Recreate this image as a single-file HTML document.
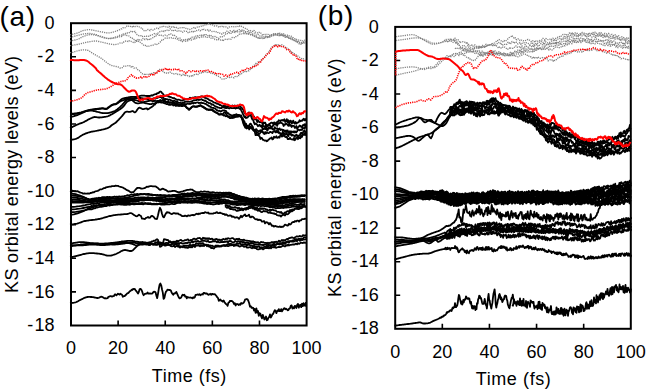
<!DOCTYPE html>
<html><head><meta charset="utf-8"><style>
html,body{margin:0;padding:0;background:#fff;width:646px;height:391px;overflow:hidden}
svg{display:block}
.g{stroke:#808080;stroke-width:1.3;stroke-dasharray:1.2 1.0}
.rd{stroke:#ff0000;stroke-width:1.6;stroke-dasharray:1.2 1.0}
.rs{stroke:#ff0000;stroke-width:2}
.k{stroke:#000;stroke-width:1.8}
text{font-family:"Liberation Sans",sans-serif;fill:#000}
</style></head><body>
<svg width="646" height="391" viewBox="0 0 646 391">
<path d="M71.00 56.79h5 M71.00 90.38h5 M71.00 123.97h5 M71.00 157.56h5 M71.00 191.14h5 M71.00 224.73h5 M71.00 258.32h5 M71.00 291.91h5 M118.12 325.50v-5 M165.24 325.50v-5 M212.36 325.50v-5 M259.48 325.50v-5" stroke="#000" stroke-width="1.6" fill="none"/>
<rect x="71.00" y="23.20" width="235.60" height="302.30" stroke="#000" stroke-width="2" fill="none"/>
<g font-size="18">
<text x="54.60" y="28.80" text-anchor="end">0</text>
<text x="54.60" y="62.39" text-anchor="end">-<tspan dx="1.3">2</tspan></text>
<text x="54.60" y="95.98" text-anchor="end">-<tspan dx="1.3">4</tspan></text>
<text x="54.60" y="129.57" text-anchor="end">-<tspan dx="1.3">6</tspan></text>
<text x="54.60" y="163.16" text-anchor="end">-<tspan dx="1.3">8</tspan></text>
<text x="54.60" y="196.74" text-anchor="end">-<tspan dx="1.3">10</tspan></text>
<text x="54.60" y="230.33" text-anchor="end">-<tspan dx="1.3">12</tspan></text>
<text x="54.60" y="263.92" text-anchor="end">-<tspan dx="1.3">14</tspan></text>
<text x="54.60" y="297.51" text-anchor="end">-<tspan dx="1.3">16</tspan></text>
<text x="54.60" y="331.10" text-anchor="end">-<tspan dx="1.3">18</tspan></text>
<text x="71.00" y="354.00" text-anchor="middle">0</text>
<text x="118.12" y="354.00" text-anchor="middle">20</text>
<text x="165.24" y="354.00" text-anchor="middle">40</text>
<text x="212.36" y="354.00" text-anchor="middle">60</text>
<text x="259.48" y="354.00" text-anchor="middle">80</text>
<text x="306.60" y="354.00" text-anchor="middle">100</text>
</g>
<text x="-0.40" y="26.30" font-size="28" textLength="35.6" lengthAdjust="spacing">(a)</text>
<text transform="translate(17.70 292.90) rotate(-90)" font-size="18" textLength="237.0" lengthAdjust="spacing">KS orbital energy levels (eV)</text>
<text x="151.80" y="381.80" font-size="18" textLength="74.5" lengthAdjust="spacing">Time (fs)</text>
<path d="M395.20 60.44h5 M395.20 93.99h5 M395.20 127.53h5 M395.20 161.08h5 M395.20 194.62h5 M395.20 228.17h5 M395.20 261.71h5 M395.20 295.26h5 M442.32 328.80v-5 M489.44 328.80v-5 M536.56 328.80v-5 M583.68 328.80v-5" stroke="#000" stroke-width="1.6" fill="none"/>
<rect x="395.20" y="26.90" width="235.60" height="301.90" stroke="#000" stroke-width="2" fill="none"/>
<g font-size="18">
<text x="378.80" y="32.50" text-anchor="end">0</text>
<text x="378.80" y="66.04" text-anchor="end">-<tspan dx="1.3">2</tspan></text>
<text x="378.80" y="99.59" text-anchor="end">-<tspan dx="1.3">4</tspan></text>
<text x="378.80" y="133.13" text-anchor="end">-<tspan dx="1.3">6</tspan></text>
<text x="378.80" y="166.68" text-anchor="end">-<tspan dx="1.3">8</tspan></text>
<text x="378.80" y="200.22" text-anchor="end">-<tspan dx="1.3">10</tspan></text>
<text x="378.80" y="233.77" text-anchor="end">-<tspan dx="1.3">12</tspan></text>
<text x="378.80" y="267.31" text-anchor="end">-<tspan dx="1.3">14</tspan></text>
<text x="378.80" y="300.86" text-anchor="end">-<tspan dx="1.3">16</tspan></text>
<text x="378.80" y="334.40" text-anchor="end">-<tspan dx="1.3">18</tspan></text>
<text x="395.20" y="357.70" text-anchor="middle">0</text>
<text x="442.32" y="357.70" text-anchor="middle">20</text>
<text x="489.44" y="357.70" text-anchor="middle">40</text>
<text x="536.56" y="357.70" text-anchor="middle">60</text>
<text x="583.68" y="357.70" text-anchor="middle">80</text>
<text x="630.80" y="357.70" text-anchor="middle">100</text>
</g>
<text x="317.80" y="25.20" font-size="28" textLength="35.6" lengthAdjust="spacing">(b)</text>
<text transform="translate(341.30 296.90) rotate(-90)" font-size="18" textLength="238.5" lengthAdjust="spacing">KS orbital energy levels (eV)</text>
<text x="475.80" y="384.80" font-size="18" textLength="75.0" lengthAdjust="spacing">Time (fs)</text>
<g fill="none" stroke-linejoin="round">
<path class="g" d="M70.0 35.0L71.0 34.7L72.0 34.5L73.0 34.2L74.0 34.0L75.0 33.7L76.0 33.4L77.0 33.1L78.0 32.8L79.0 32.4L80.0 31.9L81.0 31.4L82.0 31.0L83.0 30.6L84.0 30.4L85.0 30.2L86.0 30.0L87.0 29.8L88.0 29.7L89.0 29.7L90.0 29.7L91.0 29.8L92.0 30.0L93.0 30.2L94.0 30.4L95.0 30.6L96.0 30.8L97.0 31.0L98.0 31.2L99.0 31.4L100.0 31.6L101.0 31.8L102.0 32.0L103.0 32.2L104.0 32.4L105.0 32.6L106.0 32.7L107.0 32.9L108.0 32.9L109.0 32.9L110.0 32.7L111.0 32.6L112.0 32.3L113.0 32.1L114.0 31.8L115.0 31.5L116.0 31.2L117.0 30.8L118.0 30.3L119.0 29.9L120.0 29.6L121.0 28.9L122.0 28.8L123.0 27.7L124.0 28.3L125.0 27.8L126.0 27.2L127.0 26.0L128.0 26.5L129.0 26.0L130.0 25.9L131.0 27.1L132.0 27.2L133.0 25.7L134.0 27.1L135.0 26.7L136.0 26.3L137.0 26.2L138.0 26.9L139.0 26.8L140.0 27.5L141.0 28.0L142.0 27.9L143.0 29.7L144.0 30.7L145.0 31.1L146.0 30.6L147.0 29.6L148.0 29.5L149.0 29.5L150.0 30.7L151.0 29.4L152.0 29.4L153.0 30.1L154.0 28.9L155.0 29.1L156.0 28.7L157.0 27.9L158.0 28.5L159.0 28.6L160.0 27.1L161.0 26.9L162.0 26.8L163.0 25.9L164.0 26.5L165.0 27.0L166.0 26.8L167.0 26.6L168.0 27.3L169.0 26.3L170.0 27.1L171.0 26.9L172.0 27.4L173.0 26.7L174.0 28.0L175.0 26.9L176.0 27.1L177.0 28.3L178.0 28.6L179.0 27.8L180.0 27.8L181.0 27.5L182.0 27.6L183.0 28.3L184.0 27.6L185.0 27.7L186.0 28.5L187.0 28.2L188.0 29.1L189.0 29.5L190.0 29.5L191.0 28.9L192.0 28.5L193.0 28.4L194.0 27.5L195.0 28.4L196.0 27.5L197.0 27.2L198.0 26.5L199.0 26.8L200.0 26.7L201.0 26.1L202.0 26.6L203.0 25.9L204.0 24.9L205.0 25.0L206.0 25.4L207.0 24.5L208.0 24.4L209.0 23.5L210.0 24.3L211.0 24.5L212.0 24.7L213.0 25.1L214.0 25.8L215.0 26.0L216.0 26.1L217.0 25.8L218.0 26.4L219.0 27.5L220.0 26.7L221.0 26.2L222.0 26.3L223.0 27.4L224.0 26.7L225.0 26.9L226.0 26.9L227.0 27.4L228.0 28.1L229.0 27.1L230.0 26.8L231.0 26.6L232.0 26.6L233.0 26.4L234.0 26.8L235.0 27.0L236.0 26.6L237.0 26.1L238.0 26.5L239.0 26.9L240.0 25.7L241.0 26.0L242.0 26.8L243.0 27.2L244.0 27.6L245.0 28.1L246.0 29.1L247.0 29.1L248.0 30.2L249.0 30.8L250.0 30.2L251.0 31.1L252.0 31.1L253.0 31.6L254.0 30.4L255.0 32.1L256.0 32.1L257.0 32.6L258.0 33.0L259.0 32.2L260.0 33.4L261.0 33.1L262.0 34.4L263.0 35.4L264.0 34.4L265.0 34.7L266.0 34.3L267.0 34.5L268.0 34.5L269.0 34.2L270.0 35.6L271.0 35.3L272.0 34.4L273.0 34.7L274.0 34.3L275.0 33.8L276.0 33.5L277.0 33.8L278.0 33.6L279.0 33.1L280.0 33.3L281.0 33.8L282.0 33.9L283.0 33.4L284.0 34.3L285.0 35.1L286.0 35.4L287.0 35.5L288.0 34.9L289.0 35.9L290.0 35.7L291.0 36.1L292.0 36.8L293.0 37.5L294.0 38.5L295.0 38.6L296.0 38.5L297.0 39.6L298.0 39.7L299.0 40.1L300.0 40.0L301.0 40.5L302.0 40.3L303.0 40.9L304.0 40.3L305.0 40.1L306.0 40.0"/>
<path class="g" d="M70.0 37.3L71.0 37.1L72.0 36.8L73.0 36.6L74.0 36.3L75.0 36.1L76.0 35.8L77.0 35.6L78.0 35.3L79.0 35.1L80.0 34.8L81.0 34.5L82.0 34.3L83.0 34.1L84.0 33.9L85.0 33.8L86.0 33.6L87.0 33.6L88.0 33.5L89.0 33.5L90.0 33.5L91.0 33.6L92.0 33.8L93.0 33.9L94.0 34.1L95.0 34.4L96.0 34.6L97.0 34.9L98.0 35.3L99.0 35.6L100.0 36.0L101.0 36.4L102.0 36.7L103.0 37.0L104.0 37.4L105.0 37.7L106.0 38.0L107.0 38.2L108.0 38.4L109.0 38.4L110.0 38.3L111.0 38.2L112.0 38.0L113.0 37.8L114.0 37.5L115.0 37.2L116.0 36.9L117.0 36.5L118.0 36.1L119.0 35.6L120.0 35.1L121.0 34.9L122.0 35.2L123.0 34.1L124.0 33.9L125.0 33.7L126.0 32.8L127.0 33.0L128.0 33.0L129.0 32.9L130.0 31.4L131.0 31.5L132.0 30.9L133.0 32.0L134.0 32.0L135.0 31.3L136.0 33.7L137.0 34.6L138.0 35.1L139.0 35.8L140.0 35.6L141.0 35.7L142.0 36.8L143.0 36.1L144.0 36.3L145.0 36.4L146.0 35.9L147.0 36.4L148.0 36.0L149.0 36.4L150.0 35.5L151.0 35.4L152.0 34.8L153.0 34.7L154.0 33.9L155.0 33.2L156.0 34.0L157.0 33.6L158.0 33.0L159.0 32.5L160.0 31.6L161.0 31.2L162.0 31.1L163.0 30.5L164.0 31.5L165.0 30.6L166.0 31.1L167.0 30.1L168.0 30.8L169.0 30.4L170.0 28.9L171.0 29.2L172.0 30.5L173.0 29.9L174.0 31.0L175.0 30.3L176.0 30.0L177.0 31.1L178.0 31.5L179.0 30.8L180.0 30.6L181.0 31.1L182.0 32.3L183.0 32.0L184.0 31.0L185.0 31.4L186.0 31.3L187.0 31.3L188.0 32.7L189.0 31.7L190.0 32.3L191.0 32.0L192.0 31.3L193.0 32.0L194.0 30.8L195.0 31.4L196.0 30.3L197.0 30.6L198.0 30.0L199.0 29.9L200.0 30.8L201.0 30.4L202.0 29.4L203.0 30.3L204.0 29.2L205.0 29.6L206.0 30.4L207.0 30.2L208.0 29.5L209.0 31.2L210.0 30.1L211.0 30.4L212.0 31.6L213.0 31.2L214.0 31.5L215.0 31.4L216.0 31.7L217.0 32.8L218.0 32.5L219.0 33.3L220.0 33.1L221.0 33.4L222.0 34.2L223.0 33.2L224.0 32.9L225.0 33.0L226.0 31.5L227.0 31.2L228.0 32.3L229.0 32.0L230.0 30.9L231.0 30.7L232.0 31.5L233.0 31.7L234.0 30.3L235.0 31.5L236.0 31.3L237.0 30.7L238.0 30.3L239.0 29.7L240.0 29.6L241.0 31.2L242.0 30.0L243.0 30.9L244.0 30.4L245.0 31.7L246.0 31.7L247.0 31.6L248.0 31.7L249.0 32.9L250.0 32.0L251.0 32.5L252.0 33.3L253.0 34.1L254.0 34.0L255.0 33.8L256.0 35.3L257.0 34.5L258.0 34.5L259.0 35.3L260.0 36.0L261.0 35.6L262.0 36.1L263.0 36.5L264.0 36.9L265.0 36.0L266.0 36.2L267.0 36.9L268.0 36.8L269.0 36.0L270.0 35.8L271.0 35.4L272.0 34.4L273.0 34.0L274.0 33.7L275.0 35.1L276.0 34.6L277.0 35.0L278.0 33.4L279.0 34.4L280.0 34.3L281.0 34.8L282.0 34.3L283.0 35.7L284.0 34.4L285.0 35.6L286.0 36.4L287.0 37.1L288.0 37.3L289.0 37.7L290.0 38.2L291.0 38.8L292.0 38.2L293.0 39.2L294.0 40.0L295.0 40.3L296.0 40.0L297.0 41.2L298.0 41.9L299.0 42.1L300.0 42.6L301.0 42.4L302.0 42.7L303.0 42.5L304.0 41.3L305.0 41.9L306.0 41.3"/>
<path class="g" d="M70.0 41.0L71.0 40.8L72.0 40.6L73.0 40.4L74.0 40.2L75.0 40.0L76.0 39.8L77.0 39.5L78.0 39.2L79.0 38.8L80.0 38.2L81.0 37.6L82.0 37.1L83.0 36.6L84.0 36.2L85.0 35.9L86.0 35.5L87.0 35.2L88.0 35.0L89.0 34.8L90.0 34.7L91.0 34.7L92.0 34.7L93.0 34.8L94.0 34.9L95.0 35.1L96.0 35.3L97.0 35.6L98.0 35.9L99.0 36.3L100.0 36.6L101.0 37.0L102.0 37.3L103.0 37.6L104.0 37.8L105.0 38.1L106.0 38.3L107.0 38.5L108.0 38.6L109.0 38.6L110.0 38.6L111.0 38.5L112.0 38.4L113.0 38.3L114.0 38.1L115.0 37.9L116.0 37.7L117.0 37.5L118.0 37.2L119.0 36.9L120.0 36.5L121.0 36.6L122.0 36.3L123.0 35.1L124.0 34.5L125.0 34.8L126.0 34.5L127.0 35.5L128.0 35.6L129.0 36.0L130.0 36.8L131.0 37.9L132.0 37.9L133.0 39.3L134.0 39.4L135.0 40.9L136.0 39.6L137.0 40.8L138.0 39.5L139.0 40.4L140.0 39.7L141.0 39.6L142.0 40.2L143.0 38.5L144.0 38.4L145.0 39.7L146.0 39.0L147.0 38.3L148.0 39.9L149.0 39.9L150.0 38.4L151.0 38.8L152.0 37.9L153.0 37.6L154.0 37.4L155.0 35.8L156.0 36.0L157.0 34.3L158.0 34.2L159.0 35.3L160.0 34.8L161.0 35.1L162.0 35.8L163.0 35.8L164.0 35.8L165.0 35.1L166.0 35.9L167.0 35.9L168.0 35.5L169.0 34.6L170.0 33.9L171.0 34.0L172.0 34.8L173.0 35.3L174.0 34.9L175.0 35.7L176.0 36.5L177.0 37.3L178.0 38.3L179.0 38.3L180.0 38.0L181.0 39.8L182.0 39.5L183.0 39.9L184.0 39.4L185.0 39.7L186.0 39.5L187.0 39.8L188.0 38.4L189.0 38.9L190.0 38.0L191.0 38.6L192.0 37.2L193.0 37.3L194.0 37.1L195.0 37.3L196.0 36.0L197.0 36.3L198.0 35.6L199.0 35.3L200.0 35.3L201.0 35.9L202.0 34.8L203.0 35.5L204.0 34.2L205.0 35.5L206.0 34.7L207.0 34.5L208.0 35.7L209.0 36.1L210.0 34.8L211.0 35.6L212.0 36.8L213.0 36.5L214.0 36.6L215.0 36.4L216.0 36.6L217.0 37.6L218.0 38.3L219.0 38.3L220.0 37.3L221.0 36.4L222.0 36.6L223.0 36.8L224.0 36.0L225.0 34.8L226.0 33.5L227.0 33.7L228.0 33.3L229.0 33.2L230.0 32.4L231.0 33.4L232.0 33.1L233.0 31.7L234.0 31.8L235.0 32.6L236.0 31.5L237.0 32.5L238.0 31.7L239.0 31.9L240.0 31.9L241.0 31.1L242.0 31.3L243.0 31.4L244.0 32.4L245.0 32.8L246.0 32.2L247.0 33.9L248.0 33.4L249.0 33.4L250.0 33.9L251.0 35.0L252.0 34.5L253.0 34.9L254.0 35.8L255.0 36.4L256.0 36.7L257.0 36.6L258.0 37.4L259.0 38.3L260.0 38.4L261.0 38.2L262.0 37.9L263.0 37.9L264.0 38.4L265.0 37.9L266.0 36.6L267.0 37.5L268.0 37.4L269.0 36.9L270.0 36.8L271.0 36.5L272.0 35.6L273.0 35.8L274.0 34.9L275.0 34.3L276.0 34.6L277.0 34.5L278.0 35.5L279.0 35.2L280.0 35.0L281.0 35.3L282.0 34.7L283.0 35.6L284.0 36.2L285.0 36.1L286.0 36.3L287.0 37.0L288.0 37.3L289.0 38.3L290.0 37.8L291.0 38.1L292.0 38.8L293.0 39.9L294.0 40.3L295.0 40.6L296.0 41.5L297.0 41.1L298.0 41.1L299.0 42.5L300.0 42.9L301.0 42.7L302.0 43.4L303.0 42.7L304.0 42.2L305.0 42.0L306.0 41.9"/>
<path class="g" d="M70.0 45.6L71.0 45.5L72.0 45.3L73.0 45.2L74.0 45.0L75.0 44.9L76.0 44.7L77.0 44.5L78.0 44.3L79.0 44.1L80.0 43.8L81.0 43.6L82.0 43.3L83.0 43.1L84.0 42.8L85.0 42.6L86.0 42.4L87.0 42.2L88.0 42.0L89.0 41.8L90.0 41.7L91.0 41.5L92.0 41.3L93.0 41.2L94.0 41.1L95.0 41.0L96.0 41.0L97.0 41.1L98.0 41.3L99.0 41.5L100.0 41.7L101.0 42.0L102.0 42.2L103.0 42.4L104.0 42.7L105.0 42.9L106.0 43.2L107.0 43.4L108.0 43.6L109.0 43.8L110.0 44.0L111.0 44.2L112.0 44.4L113.0 44.5L114.0 44.6L115.0 44.6L116.0 44.4L117.0 44.3L118.0 44.0L119.0 43.7L120.0 43.0L121.0 43.4L122.0 43.1L123.0 43.1L124.0 41.6L125.0 41.3L126.0 40.9L127.0 40.8L128.0 41.6L129.0 40.7L130.0 41.6L131.0 41.3L132.0 41.7L133.0 42.2L134.0 43.0L135.0 42.5L136.0 41.2L137.0 41.4L138.0 40.9L139.0 42.1L140.0 42.2L141.0 42.8L142.0 43.6L143.0 44.3L144.0 45.5L145.0 45.7L146.0 45.1L147.0 46.3L148.0 45.7L149.0 46.2L150.0 45.8L151.0 45.5L152.0 45.3L153.0 45.2L154.0 44.7L155.0 44.1L156.0 44.9L157.0 44.4L158.0 44.2L159.0 43.1L160.0 42.1L161.0 41.6L162.0 39.8L163.0 40.0L164.0 39.0L165.0 38.2L166.0 37.9L167.0 38.2L168.0 37.7L169.0 37.9L170.0 38.2L171.0 37.9L172.0 37.5L173.0 38.3L174.0 38.1L175.0 38.3L176.0 38.5L177.0 39.1L178.0 38.9L179.0 40.2L180.0 41.1L181.0 40.5L182.0 41.4L183.0 41.9L184.0 40.4L185.0 40.5L186.0 41.4L187.0 41.2L188.0 40.6L189.0 39.5L190.0 39.7L191.0 40.2L192.0 39.9L193.0 39.4L194.0 38.1L195.0 38.9L196.0 37.8L197.0 38.1L198.0 36.9L199.0 38.1L200.0 37.2L201.0 37.2L202.0 36.3L203.0 36.9L204.0 36.8L205.0 36.9L206.0 36.6L207.0 37.4L208.0 36.9L209.0 37.0L210.0 37.0L211.0 38.2L212.0 37.6L213.0 38.1L214.0 38.2L215.0 39.5L216.0 39.6L217.0 39.8L218.0 39.2L219.0 40.1L220.0 40.1L221.0 39.8L222.0 39.6L223.0 41.2L224.0 39.5L225.0 39.4L226.0 39.1L227.0 39.5L228.0 38.5L229.0 39.0L230.0 38.6L231.0 39.2L232.0 37.5L233.0 37.7L234.0 37.5L235.0 37.8L236.0 36.5L237.0 35.8L238.0 35.6L239.0 34.4L240.0 33.5L241.0 33.9L242.0 34.2L243.0 33.8L244.0 33.0L245.0 33.8L246.0 34.3L247.0 33.5L248.0 34.3L249.0 34.2L250.0 34.3L251.0 34.8L252.0 35.1L253.0 35.7L254.0 35.6L255.0 36.6L256.0 36.6L257.0 38.1L258.0 38.2L259.0 37.4L260.0 38.9L261.0 38.0L262.0 38.5L263.0 38.5L264.0 38.0L265.0 37.7L266.0 37.6L267.0 36.8L268.0 37.7L269.0 36.0L270.0 36.9L271.0 35.6L272.0 35.4L273.0 35.3L274.0 34.4L275.0 34.3L276.0 34.6L277.0 34.7L278.0 35.5L279.0 35.8L280.0 34.4L281.0 35.5L282.0 35.0L283.0 36.5L284.0 36.0L285.0 37.3L286.0 37.1L287.0 36.8L288.0 37.0L289.0 37.9L290.0 39.4L291.0 38.6L292.0 39.6L293.0 39.9L294.0 40.3L295.0 41.5L296.0 41.0L297.0 42.3L298.0 42.8L299.0 43.8L300.0 43.5L301.0 44.3L302.0 43.4L303.0 43.4L304.0 43.2L305.0 43.2L306.0 42.3"/>
<path class="g" d="M70.0 52.6L71.0 52.6L72.0 52.5L73.0 52.3L74.0 52.0L75.0 51.6L76.0 51.3L77.0 51.0L78.0 50.7L79.0 50.5L80.0 50.3L81.0 50.1L82.0 50.0L83.0 49.9L84.0 49.9L85.0 49.9L86.0 50.0L87.0 50.2L88.0 50.4L89.0 50.9L90.0 51.5L91.0 52.2L92.0 52.9L93.0 53.5L94.0 54.1L95.0 54.7L96.0 55.2L97.0 55.8L98.0 56.3L99.0 56.9L100.0 57.5L101.0 58.1L102.0 58.8L103.0 59.6L104.0 60.3L105.0 61.2L106.0 62.0L107.0 62.8L108.0 63.5L109.0 64.2L110.0 64.8L111.0 65.2L112.0 65.6L113.0 65.8L114.0 66.1L115.0 66.3L116.0 66.5L117.0 66.7L118.0 67.0L119.0 67.2L120.0 68.1L121.0 67.7L122.0 67.7L123.0 67.5L124.0 65.9L125.0 66.1L126.0 66.2L127.0 66.1L128.0 65.7L129.0 65.3L130.0 65.9L131.0 67.2L132.0 66.0L133.0 66.7L134.0 68.2L135.0 67.8L136.0 67.8L137.0 68.6L138.0 70.2L139.0 70.4L140.0 71.5L141.0 72.6L142.0 73.7L143.0 73.9L144.0 73.8L145.0 75.1L146.0 74.3L147.0 74.3L148.0 74.3L149.0 74.8L150.0 73.9L151.0 74.4L152.0 73.3L153.0 73.0L154.0 72.6L155.0 73.6L156.0 73.5L157.0 72.0L158.0 71.2L159.0 69.3L160.0 69.4L161.0 69.0L162.0 69.5L163.0 71.5L164.0 72.4L165.0 72.9L166.0 72.8L167.0 73.6L168.0 73.1L169.0 72.6L170.0 72.0L171.0 73.3L172.0 73.3L173.0 73.3L174.0 74.1L175.0 73.7L176.0 73.6L177.0 73.4L178.0 74.5L179.0 74.5L180.0 74.4L181.0 75.5L182.0 75.3L183.0 74.2L184.0 75.6L185.0 74.3L186.0 75.5L187.0 75.2L188.0 76.0L189.0 76.6L190.0 76.0L191.0 76.3L192.0 75.0L193.0 75.9L194.0 74.7L195.0 75.0L196.0 74.5L197.0 73.7L198.0 74.6L199.0 73.2L200.0 73.2L201.0 72.6L202.0 73.3L203.0 72.4L204.0 71.8L205.0 71.7L206.0 72.0L207.0 72.5L208.0 71.7L209.0 71.9L210.0 73.2L211.0 73.2L212.0 72.9L213.0 73.6L214.0 73.8L215.0 74.6L216.0 75.3L217.0 75.6L218.0 76.0L219.0 76.6L220.0 77.2L221.0 78.1L222.0 79.1L223.0 79.1L224.0 79.0L225.0 78.4L226.0 78.5L227.0 78.2L228.0 76.8L229.0 77.3L230.0 77.5L231.0 76.8L232.0 77.2L233.0 77.3L234.0 77.8L235.0 76.5L236.0 76.2L237.0 76.7L238.0 75.2L239.0 75.7L240.0 74.2L241.0 74.5L242.0 73.3L243.0 72.2L244.0 72.5L245.0 71.4L246.0 72.1L247.0 71.3L248.0 70.6L249.0 70.8L250.0 69.6L251.0 69.4L252.0 68.0L253.0 66.0L254.0 65.2L255.0 65.3L256.0 63.3L257.0 64.1L258.0 61.9L259.0 62.4L260.0 61.5L261.0 60.3L262.0 59.8L263.0 58.9L264.0 57.5L265.0 56.3L266.0 54.8L267.0 54.4L268.0 53.3L269.0 50.8L270.0 50.2L271.0 48.2L272.0 46.9L273.0 46.9L274.0 46.4L275.0 44.6L276.0 45.8L277.0 44.8L278.0 45.5L279.0 44.6L280.0 45.7L281.0 44.7L282.0 44.8L283.0 45.2L284.0 46.0L285.0 46.7L286.0 48.6L287.0 48.0L288.0 48.8L289.0 49.7L290.0 50.3L291.0 52.1L292.0 51.5L293.0 53.4L294.0 53.6L295.0 53.9L296.0 54.8L297.0 56.0L298.0 56.1L299.0 57.0L300.0 57.5L301.0 58.2L302.0 58.9L303.0 58.6L304.0 59.5L305.0 60.0L306.0 59.9"/>
<path class="g" d="M396.0 36.6L397.0 36.5L398.0 36.3L399.0 36.2L400.0 36.1L401.0 36.0L402.0 35.9L403.0 35.7L404.0 35.6L405.0 35.5L406.0 35.4L407.0 35.2L408.0 35.0L409.0 34.9L410.0 34.8L411.0 34.7L412.0 34.6L413.0 34.7L414.0 34.9L415.0 35.2L416.0 35.6L417.0 36.1L418.0 36.7L419.0 37.2L420.0 37.7L421.0 38.1L422.0 38.5L423.0 38.9L424.0 39.3L425.0 39.7L426.0 40.1L427.0 40.6L428.0 41.2L429.0 41.7L430.0 42.2L431.0 42.6L432.0 42.9L433.0 43.1L434.0 43.2L435.0 43.3L436.0 43.3L437.0 43.2L438.0 43.1L439.0 43.0L440.0 42.8L441.0 42.5L442.0 42.2L443.0 41.8L444.0 41.2L445.0 39.6L446.0 39.5L447.0 39.7L448.0 39.3L449.0 39.4L450.0 39.0L451.0 40.3L452.0 40.1L453.0 39.1L454.0 39.6L455.0 38.1L456.0 39.8L457.0 40.1L458.0 39.7L459.0 40.9L460.0 42.9L461.0 42.0L462.0 41.8L463.0 41.6L464.0 41.7L465.0 42.3L466.0 43.3L467.0 42.0L468.0 44.6L469.0 44.4L470.0 45.8L471.0 46.1L472.0 44.8L473.0 46.2L474.0 45.2L475.0 45.0L476.0 46.1L477.0 47.0L478.0 46.5L479.0 45.6L480.0 47.0L481.0 47.0L482.0 45.2L483.0 45.5L484.0 45.8L485.0 46.2L486.0 44.2L487.0 45.1L488.0 46.0L489.0 45.0L490.0 45.2L491.0 45.1L492.0 44.3L493.0 43.4L494.0 43.6L495.0 42.7L496.0 41.5L497.0 41.8L498.0 39.9L499.0 39.5L500.0 40.0L501.0 40.7L502.0 41.8L503.0 41.6L504.0 40.4L505.0 41.3L506.0 40.7L507.0 39.5L508.0 38.9L509.0 37.7L510.0 37.0L511.0 36.6L512.0 35.4L513.0 36.9L514.0 38.1L515.0 37.3L516.0 39.4L517.0 39.8L518.0 38.8L519.0 39.1L520.0 40.7L521.0 40.0L522.0 40.3L523.0 40.9L524.0 40.7L525.0 40.8L526.0 40.3L527.0 39.8L528.0 39.3L529.0 39.9L530.0 40.4L531.0 41.3L532.0 41.8L533.0 40.6L534.0 41.0L535.0 42.3L536.0 40.9L537.0 41.5L538.0 41.2L539.0 41.1L540.0 40.4L541.0 40.1L542.0 40.0L543.0 38.3L544.0 39.5L545.0 39.9L546.0 38.5L547.0 39.4L548.0 39.7L549.0 39.2L550.0 39.2L551.0 40.1L552.0 38.7L553.0 38.2L554.0 40.0L555.0 38.4L556.0 38.4L557.0 37.9L558.0 37.1L559.0 37.0L560.0 35.9L561.0 36.3L562.0 35.1L563.0 34.5L564.0 34.3L565.0 34.4L566.0 35.4L567.0 34.3L568.0 34.9L569.0 33.3L570.0 32.8L571.0 33.8L572.0 32.4L573.0 34.4L574.0 33.0L575.0 32.8L576.0 33.0L577.0 33.2L578.0 34.8L579.0 35.0L580.0 33.9L581.0 33.1L582.0 32.5L583.0 32.5L584.0 33.0L585.0 33.7L586.0 33.6L587.0 34.0L588.0 33.9L589.0 32.8L590.0 33.5L591.0 33.0L592.0 33.7L593.0 32.4L594.0 34.3L595.0 32.1L596.0 33.5L597.0 33.0L598.0 34.1L599.0 32.6L600.0 34.5L601.0 32.5L602.0 34.3L603.0 34.3L604.0 33.9L605.0 33.2L606.0 33.8L607.0 34.0L608.0 33.5L609.0 33.5L610.0 35.3L611.0 34.7L612.0 34.3L613.0 35.3L614.0 35.6L615.0 34.7L616.0 36.0L617.0 36.3L618.0 35.4L619.0 36.1L620.0 37.7L621.0 37.3L622.0 36.7L623.0 37.4L624.0 37.8L625.0 38.7L626.0 39.3L627.0 37.6L628.0 37.7L629.0 38.7L630.0 39.0"/>
<path class="g" d="M396.0 40.5L397.0 40.4L398.0 40.2L399.0 40.1L400.0 40.0L401.0 39.8L402.0 39.7L403.0 39.6L404.0 39.4L405.0 39.3L406.0 39.1L407.0 39.0L408.0 38.8L409.0 38.7L410.0 38.5L411.0 38.4L412.0 38.2L413.0 38.1L414.0 38.0L415.0 37.9L416.0 37.9L417.0 37.8L418.0 37.9L419.0 38.0L420.0 38.2L421.0 38.6L422.0 39.1L423.0 39.6L424.0 40.2L425.0 40.8L426.0 41.4L427.0 41.9L428.0 42.5L429.0 43.0L430.0 43.5L431.0 43.9L432.0 44.1L433.0 44.2L434.0 44.2L435.0 44.1L436.0 43.9L437.0 43.7L438.0 43.5L439.0 43.2L440.0 42.9L441.0 42.6L442.0 42.2L443.0 41.9L444.0 41.6L445.0 41.5L446.0 40.3L447.0 41.8L448.0 41.5L449.0 40.1L450.0 40.5L451.0 39.4L452.0 39.5L453.0 39.8L454.0 41.1L455.0 40.4L456.0 43.0L457.0 41.9L458.0 43.4L459.0 44.4L460.0 47.2L461.0 47.2L462.0 48.4L463.0 48.7L464.0 49.8L465.0 49.4L466.0 48.9L467.0 49.3L468.0 48.8L469.0 48.2L470.0 49.8L471.0 49.4L472.0 49.2L473.0 49.7L474.0 48.5L475.0 48.4L476.0 48.4L477.0 48.2L478.0 48.8L479.0 47.0L480.0 48.0L481.0 48.0L482.0 47.4L483.0 46.4L484.0 47.9L485.0 46.0L486.0 47.1L487.0 45.8L488.0 45.2L489.0 45.3L490.0 44.7L491.0 44.6L492.0 45.7L493.0 45.7L494.0 45.0L495.0 45.9L496.0 45.8L497.0 46.2L498.0 47.5L499.0 46.5L500.0 48.1L501.0 48.0L502.0 48.2L503.0 46.8L504.0 47.2L505.0 47.2L506.0 48.0L507.0 49.5L508.0 49.2L509.0 49.0L510.0 47.1L511.0 48.4L512.0 48.4L513.0 48.3L514.0 48.0L515.0 46.2L516.0 46.0L517.0 47.3L518.0 47.0L519.0 47.3L520.0 46.3L521.0 47.5L522.0 45.9L523.0 48.0L524.0 48.0L525.0 46.7L526.0 46.0L527.0 47.1L528.0 47.3L529.0 46.4L530.0 45.5L531.0 45.9L532.0 47.1L533.0 45.1L534.0 47.0L535.0 45.1L536.0 44.8L537.0 44.4L538.0 46.3L539.0 45.9L540.0 44.3L541.0 43.5L542.0 44.6L543.0 45.0L544.0 42.7L545.0 44.2L546.0 44.8L547.0 43.9L548.0 44.2L549.0 44.8L550.0 43.3L551.0 43.2L552.0 43.9L553.0 43.4L554.0 43.1L555.0 42.4L556.0 43.5L557.0 41.7L558.0 42.4L559.0 42.6L560.0 41.1L561.0 39.9L562.0 40.0L563.0 39.2L564.0 39.0L565.0 38.5L566.0 38.6L567.0 38.2L568.0 37.9L569.0 38.1L570.0 37.7L571.0 37.4L572.0 36.4L573.0 37.0L574.0 36.5L575.0 35.4L576.0 36.3L577.0 35.7L578.0 36.5L579.0 36.6L580.0 35.4L581.0 35.8L582.0 35.8L583.0 35.4L584.0 34.8L585.0 34.8L586.0 37.1L587.0 36.5L588.0 35.8L589.0 36.4L590.0 35.4L591.0 36.5L592.0 37.1L593.0 36.8L594.0 36.1L595.0 37.3L596.0 37.3L597.0 35.2L598.0 36.1L599.0 36.3L600.0 36.0L601.0 36.9L602.0 35.8L603.0 37.3L604.0 37.7L605.0 35.8L606.0 37.4L607.0 36.5L608.0 37.5L609.0 37.8L610.0 38.6L611.0 38.4L612.0 37.5L613.0 38.7L614.0 37.6L615.0 39.2L616.0 38.8L617.0 38.7L618.0 38.9L619.0 39.1L620.0 40.7L621.0 39.2L622.0 39.7L623.0 39.8L624.0 39.9L625.0 41.4L626.0 41.2L627.0 41.5L628.0 42.2L629.0 41.2L630.0 41.5"/>
<path class="g" d="M396.0 68.8L397.0 68.6L398.0 68.5L399.0 68.3L400.0 68.1L401.0 67.9L402.0 67.8L403.0 67.7L404.0 67.5L405.0 67.4L406.0 67.3L407.0 67.2L408.0 67.1L409.0 67.0L410.0 67.0L411.0 66.9L412.0 66.9L413.0 66.9L414.0 67.0L415.0 67.1L416.0 67.3L417.0 67.5L418.0 67.8L419.0 68.1L420.0 68.3L421.0 68.6L422.0 69.0L423.0 69.3L424.0 69.5L425.0 69.4L426.0 69.0L427.0 68.4L428.0 67.7L429.0 67.2L430.0 66.9L431.0 66.9L432.0 67.1L433.0 67.4L434.0 67.6L435.0 67.5L436.0 66.9L437.0 66.0L438.0 65.0L439.0 64.0L440.0 63.1L441.0 62.1L442.0 61.1L443.0 60.1L444.0 59.0L445.0 57.0L446.0 57.3L447.0 55.6L448.0 56.8L449.0 56.5L450.0 55.8L451.0 55.9L452.0 55.3L453.0 53.5L454.0 54.1L455.0 53.9L456.0 53.4L457.0 54.0L458.0 53.5L459.0 52.6L460.0 52.2L461.0 51.9L462.0 53.7L463.0 53.7L464.0 53.7L465.0 53.4L466.0 53.4L467.0 52.3L468.0 52.5L469.0 51.1L470.0 51.9L471.0 51.7L472.0 51.6L473.0 50.5L474.0 50.0L475.0 50.5L476.0 51.3L477.0 50.9L478.0 51.5L479.0 50.9L480.0 51.1L481.0 52.6L482.0 51.1L483.0 51.4L484.0 52.6L485.0 52.9L486.0 52.6L487.0 52.9L488.0 52.5L489.0 52.7L490.0 52.8L491.0 52.2L492.0 51.4L493.0 50.8L494.0 52.0L495.0 50.9L496.0 51.6L497.0 52.5L498.0 52.3L499.0 51.8L500.0 52.9L501.0 52.8L502.0 53.8L503.0 53.4L504.0 53.4L505.0 54.6L506.0 53.6L507.0 53.3L508.0 54.5L509.0 54.5L510.0 52.5L511.0 52.0L512.0 53.7L513.0 53.5L514.0 51.9L515.0 51.1L516.0 51.7L517.0 51.9L518.0 49.8L519.0 50.1L520.0 50.4L521.0 49.2L522.0 49.6L523.0 48.9L524.0 49.6L525.0 48.9L526.0 48.5L527.0 49.1L528.0 48.5L529.0 48.3L530.0 48.3L531.0 48.8L532.0 48.5L533.0 49.4L534.0 48.5L535.0 48.0L536.0 47.7L537.0 47.9L538.0 49.0L539.0 47.7L540.0 48.4L541.0 49.4L542.0 49.5L543.0 48.8L544.0 49.8L545.0 49.5L546.0 48.7L547.0 48.4L548.0 48.6L549.0 50.0L550.0 48.9L551.0 49.8L552.0 50.0L553.0 49.7L554.0 48.4L555.0 47.1L556.0 47.5L557.0 47.1L558.0 47.8L559.0 47.6L560.0 47.8L561.0 46.9L562.0 47.2L563.0 46.0L564.0 45.3L565.0 45.8L566.0 44.1L567.0 45.0L568.0 44.5L569.0 44.5L570.0 42.2L571.0 42.3L572.0 43.8L573.0 41.7L574.0 42.2L575.0 42.3L576.0 41.9L577.0 42.7L578.0 42.8L579.0 41.2L580.0 40.7L581.0 42.6L582.0 41.6L583.0 41.2L584.0 41.1L585.0 40.9L586.0 42.4L587.0 41.8L588.0 42.5L589.0 43.5L590.0 42.5L591.0 43.7L592.0 41.6L593.0 43.3L594.0 43.4L595.0 44.0L596.0 41.9L597.0 43.2L598.0 43.5L599.0 43.8L600.0 43.7L601.0 43.4L602.0 45.1L603.0 45.2L604.0 44.9L605.0 45.7L606.0 44.9L607.0 43.9L608.0 45.6L609.0 44.3L610.0 46.0L611.0 46.0L612.0 45.1L613.0 45.1L614.0 45.1L615.0 45.5L616.0 47.6L617.0 45.9L618.0 47.7L619.0 46.1L620.0 46.7L621.0 47.2L622.0 47.1L623.0 48.7L624.0 47.2L625.0 47.9L626.0 47.4L627.0 47.3L628.0 48.8L629.0 48.0L630.0 48.5"/>
<path class="g" d="M396.0 75.2L397.0 75.0L398.0 74.7L399.0 74.5L400.0 74.3L401.0 74.0L402.0 73.8L403.0 73.6L404.0 73.3L405.0 73.1L406.0 72.9L407.0 72.7L408.0 72.5L409.0 72.3L410.0 72.1L411.0 71.9L412.0 71.7L413.0 71.4L414.0 71.2L415.0 70.9L416.0 70.6L417.0 70.3L418.0 70.0L419.0 69.7L420.0 69.4L421.0 69.1L422.0 68.9L423.0 68.7L424.0 68.5L425.0 68.3L426.0 68.2L427.0 68.2L428.0 68.3L429.0 68.4L430.0 68.5L431.0 68.5L432.0 68.3L433.0 67.8L434.0 67.0L435.0 66.0L436.0 64.8L437.0 63.6L438.0 62.6L439.0 61.5L440.0 60.3L441.0 59.4L442.0 58.8L443.0 58.5L444.0 58.3L445.0 59.2L446.0 57.7L447.0 58.0L448.0 57.8L449.0 56.3L450.0 55.7L451.0 56.7L452.0 55.3L453.0 55.7L454.0 56.6L455.0 56.4L456.0 54.3L457.0 54.1L458.0 54.2L459.0 55.6L460.0 53.6L461.0 54.2L462.0 54.2L463.0 54.7L464.0 56.1L465.0 55.7L466.0 56.6L467.0 57.7L468.0 58.1L469.0 57.7L470.0 59.0L471.0 59.0L472.0 60.6L473.0 60.3L474.0 60.7L475.0 60.1L476.0 59.5L477.0 57.6L478.0 56.5L479.0 55.4L480.0 55.0L481.0 54.4L482.0 55.9L483.0 55.3L484.0 54.9L485.0 53.7L486.0 53.7L487.0 52.3L488.0 52.2L489.0 51.0L490.0 51.5L491.0 51.0L492.0 50.9L493.0 53.2L494.0 51.7L495.0 53.8L496.0 53.8L497.0 52.5L498.0 53.7L499.0 55.2L500.0 55.4L501.0 54.6L502.0 55.4L503.0 55.5L504.0 54.7L505.0 55.4L506.0 55.6L507.0 55.1L508.0 56.0L509.0 54.9L510.0 55.5L511.0 53.7L512.0 54.7L513.0 53.9L514.0 55.6L515.0 56.6L516.0 56.2L517.0 56.6L518.0 56.9L519.0 55.9L520.0 55.9L521.0 55.6L522.0 55.0L523.0 53.9L524.0 54.1L525.0 53.9L526.0 54.7L527.0 55.4L528.0 55.0L529.0 56.2L530.0 57.1L531.0 56.7L532.0 58.1L533.0 56.8L534.0 58.5L535.0 57.0L536.0 57.6L537.0 58.7L538.0 56.7L539.0 57.9L540.0 58.3L541.0 58.4L542.0 57.8L543.0 57.3L544.0 57.6L545.0 58.8L546.0 57.9L547.0 58.2L548.0 60.8L549.0 60.6L550.0 59.7L551.0 60.4L552.0 60.0L553.0 61.3L554.0 59.7L555.0 60.6L556.0 60.3L557.0 58.8L558.0 58.0L559.0 58.0L560.0 57.0L561.0 56.8L562.0 55.6L563.0 56.2L564.0 54.7L565.0 53.5L566.0 54.6L567.0 54.4L568.0 53.6L569.0 53.0L570.0 53.5L571.0 53.5L572.0 51.1L573.0 52.1L574.0 50.8L575.0 51.5L576.0 51.2L577.0 51.6L578.0 52.1L579.0 52.4L580.0 50.9L581.0 50.1L582.0 52.3L583.0 51.6L584.0 50.8L585.0 49.5L586.0 49.2L587.0 51.1L588.0 50.0L589.0 50.6L590.0 50.3L591.0 50.1L592.0 50.2L593.0 48.8L594.0 48.8L595.0 49.4L596.0 50.4L597.0 50.7L598.0 50.9L599.0 50.7L600.0 50.6L601.0 50.2L602.0 51.5L603.0 51.6L604.0 51.4L605.0 52.2L606.0 53.0L607.0 53.2L608.0 51.6L609.0 52.4L610.0 53.6L611.0 54.2L612.0 53.7L613.0 55.6L614.0 54.9L615.0 56.0L616.0 54.7L617.0 55.7L618.0 55.5L619.0 57.7L620.0 57.5L621.0 58.9L622.0 58.5L623.0 58.2L624.0 58.7L625.0 59.2L626.0 59.1L627.0 59.1L628.0 60.6L629.0 59.9L630.0 60.5"/>
<path class="g" d="M447.0 41.6L448.0 41.6L449.0 41.4L450.0 40.4L451.0 40.8L452.0 42.0L453.0 42.5L454.0 41.0L455.0 41.7L456.0 43.9L457.0 42.6L458.0 44.6L459.0 44.7L460.0 46.4L461.0 47.7L462.0 47.7L463.0 47.8L464.0 48.1L465.0 49.3L466.0 49.7L467.0 49.6L468.0 50.1L469.0 50.7L470.0 50.4L471.0 50.6L472.0 51.9L473.0 51.1L474.0 52.6L475.0 53.4L476.0 53.7L477.0 52.7L478.0 53.4L479.0 55.1L480.0 54.2L481.0 56.2L482.0 54.6L483.0 56.2L484.0 54.0L485.0 55.0L486.0 54.8L487.0 53.8L488.0 53.8L489.0 54.7L490.0 55.4L491.0 54.0L492.0 55.2L493.0 54.3L494.0 55.0L495.0 54.3L496.0 54.0L497.0 54.8L498.0 53.3L499.0 53.3L500.0 53.0L501.0 55.1L502.0 53.9L503.0 53.8L504.0 55.4L505.0 55.8L506.0 55.7L507.0 55.5L508.0 55.4L509.0 55.8L510.0 54.7L511.0 55.8L512.0 55.3L513.0 55.5L514.0 55.4L515.0 55.1L516.0 54.1L517.0 53.9L518.0 54.2L519.0 53.6L520.0 52.0L521.0 53.9L522.0 51.9L523.0 52.3L524.0 52.1L525.0 51.0L526.0 52.1L527.0 52.0L528.0 52.5L529.0 52.0L530.0 51.2L531.0 51.7L532.0 52.5L533.0 51.6L534.0 51.9L535.0 49.7L536.0 51.0L537.0 49.6L538.0 49.1L539.0 49.0L540.0 48.1L541.0 47.4L542.0 47.1L543.0 46.6L544.0 46.1L545.0 47.0L546.0 44.8L547.0 44.7L548.0 43.9L549.0 44.7L550.0 43.8L551.0 44.3L552.0 43.4L553.0 43.1L554.0 43.6L555.0 42.4L556.0 44.2L557.0 43.2L558.0 42.7L559.0 42.8L560.0 43.6L561.0 42.3L562.0 41.8L563.0 41.1L564.0 41.2L565.0 41.8L566.0 41.1L567.0 40.0L568.0 41.2L569.0 39.1L570.0 39.4L571.0 40.2L572.0 40.4L573.0 39.1L574.0 38.0L575.0 39.2L576.0 38.9L577.0 37.9L578.0 38.6L579.0 39.9L580.0 37.9L581.0 38.2L582.0 38.2L583.0 39.8L584.0 38.6L585.0 39.6L586.0 39.6L587.0 38.1L588.0 39.2L589.0 38.5L590.0 40.2L591.0 39.5L592.0 39.3L593.0 40.4L594.0 40.5L595.0 38.7L596.0 38.8L597.0 39.4L598.0 39.4L599.0 39.8L600.0 39.8L601.0 41.2L602.0 40.6L603.0 41.3L604.0 40.6L605.0 39.8L606.0 40.7L607.0 39.8L608.0 40.9L609.0 40.0L610.0 42.0L611.0 40.7L612.0 42.3L613.0 40.9L614.0 41.1L615.0 41.4L616.0 43.0L617.0 43.2L618.0 43.2L619.0 43.0L620.0 42.1L621.0 42.5L622.0 42.1L623.0 44.4L624.0 42.6L625.0 44.1L626.0 42.5L627.0 43.2L628.0 44.1L629.0 43.1L630.0 44.0"/>
<path class="g" d="M462.0 46.0L463.0 45.6L464.0 45.2L465.0 46.8L466.0 47.0L467.0 46.4L468.0 45.4L469.0 47.4L470.0 47.5L471.0 48.0L472.0 48.3L473.0 48.3L474.0 47.8L475.0 47.0L476.0 47.4L477.0 47.4L478.0 48.0L479.0 47.5L480.0 47.8L481.0 46.9L482.0 46.9L483.0 47.6L484.0 47.1L485.0 47.2L486.0 46.5L487.0 44.9L488.0 45.4L489.0 44.9L490.0 44.6L491.0 44.1L492.0 43.8L493.0 44.5L494.0 45.0L495.0 45.0L496.0 45.1L497.0 43.9L498.0 42.4L499.0 42.6L500.0 42.4L501.0 44.7L502.0 43.7L503.0 45.1L504.0 44.3L505.0 44.4L506.0 44.8L507.0 44.0L508.0 42.2L509.0 43.2L510.0 42.3L511.0 43.5L512.0 41.5L513.0 41.5L514.0 43.4L515.0 42.4L516.0 41.9L517.0 43.7L518.0 44.0L519.0 43.2L520.0 42.6L521.0 44.5L522.0 43.3L523.0 43.1L524.0 42.6L525.0 44.6L526.0 42.9L527.0 42.7L528.0 43.3L529.0 44.2L530.0 45.0L531.0 43.1L532.0 44.0L533.0 43.1L534.0 44.4L535.0 43.3L536.0 43.7L537.0 43.9L538.0 43.0L539.0 42.7L540.0 41.4L541.0 41.4L542.0 42.4L543.0 42.3L544.0 41.6L545.0 40.4L546.0 42.3L547.0 42.7L548.0 43.0L549.0 42.6L550.0 42.2L551.0 41.2L552.0 41.0L553.0 40.4L554.0 41.2L555.0 40.2L556.0 41.1L557.0 39.3L558.0 39.1L559.0 38.3L560.0 38.4L561.0 39.3L562.0 39.0L563.0 38.8L564.0 36.3L565.0 37.5L566.0 36.9L567.0 36.1L568.0 37.2L569.0 36.2L570.0 35.0L571.0 35.9L572.0 34.9L573.0 35.0L574.0 35.0L575.0 35.0L576.0 33.9L577.0 35.8L578.0 34.5L579.0 34.8L580.0 34.1L581.0 35.0L582.0 33.8L583.0 33.6L584.0 34.0L585.0 35.6L586.0 35.1L587.0 35.1L588.0 33.6L589.0 34.5L590.0 35.2L591.0 35.2L592.0 34.5L593.0 33.7L594.0 34.4L595.0 35.8L596.0 35.7L597.0 35.1L598.0 34.6L599.0 35.2L600.0 35.2L601.0 35.0L602.0 36.1L603.0 35.5L604.0 34.4L605.0 36.1L606.0 36.1L607.0 34.7L608.0 35.9L609.0 37.0L610.0 36.3L611.0 36.6L612.0 36.4L613.0 36.5L614.0 38.1L615.0 36.7L616.0 37.3L617.0 36.7L618.0 38.0L619.0 38.6L620.0 38.9L621.0 39.8L622.0 38.3L623.0 38.3L624.0 38.9L625.0 39.1L626.0 40.6L627.0 39.1L628.0 39.9L629.0 41.3"/>
<path class="g" d="M455.0 48.8L456.0 47.7L457.0 48.3L458.0 47.8L459.0 48.5L460.0 49.4L461.0 48.8L462.0 49.9L463.0 51.3L464.0 50.1L465.0 51.0L466.0 50.2L467.0 51.9L468.0 50.3L469.0 50.5L470.0 51.9L471.0 51.3L472.0 51.7L473.0 51.9L474.0 51.8L475.0 51.7L476.0 51.2L477.0 51.3L478.0 51.6L479.0 52.0L480.0 52.4L481.0 54.1L482.0 52.8L483.0 52.8L484.0 53.0L485.0 52.6L486.0 54.2L487.0 54.3L488.0 53.6L489.0 54.1L490.0 53.2L491.0 53.0L492.0 52.8L493.0 53.5L494.0 52.5L495.0 53.2L496.0 52.9L497.0 53.6L498.0 54.0L499.0 53.5L500.0 52.4L501.0 53.7L502.0 54.2L503.0 54.0L504.0 53.0L505.0 53.3L506.0 54.5L507.0 54.9L508.0 54.2L509.0 54.7L510.0 54.1L511.0 54.7L512.0 53.1L513.0 54.4L514.0 53.9L515.0 52.0L516.0 52.0L517.0 51.9L518.0 52.8L519.0 52.2L520.0 50.6L521.0 52.0L522.0 50.8L523.0 52.0L524.0 50.4L525.0 49.8L526.0 50.3L527.0 50.5L528.0 50.4L529.0 50.5L530.0 49.4L531.0 49.7L532.0 49.0L533.0 51.1L534.0 49.8L535.0 49.1L536.0 48.7L537.0 49.6L538.0 48.0L539.0 48.1L540.0 49.2L541.0 48.6L542.0 48.9L543.0 49.0L544.0 47.5L545.0 48.4L546.0 48.3L547.0 48.2L548.0 47.3L549.0 47.6L550.0 45.7L551.0 45.9L552.0 46.6L553.0 46.4L554.0 46.3L555.0 45.7L556.0 44.6L557.0 45.0L558.0 44.4L559.0 45.3L560.0 44.0L561.0 45.0L562.0 44.1L563.0 43.5L564.0 43.7L565.0 44.0L566.0 42.4L567.0 41.4L568.0 43.1L569.0 41.4L570.0 42.5L571.0 41.2L572.0 40.9L573.0 41.8L574.0 40.0L575.0 41.7L576.0 40.2L577.0 41.2L578.0 41.6L579.0 41.2L580.0 40.0L581.0 41.5L582.0 40.5L583.0 40.0L584.0 40.3L585.0 39.7L586.0 41.1L587.0 40.7L588.0 41.0L589.0 41.9L590.0 40.9L591.0 39.9L592.0 41.4L593.0 40.2L594.0 41.5L595.0 41.4L596.0 41.3L597.0 41.9L598.0 40.7L599.0 41.4L600.0 41.2L601.0 41.3L602.0 41.2L603.0 41.6L604.0 43.3L605.0 43.7L606.0 43.0L607.0 43.5L608.0 41.8L609.0 42.7L610.0 43.7L611.0 44.4L612.0 42.5L613.0 44.9L614.0 45.1L615.0 43.1L616.0 44.1L617.0 45.5L618.0 44.3L619.0 44.1L620.0 45.2L621.0 45.5L622.0 46.0L623.0 44.8L624.0 45.6L625.0 45.0L626.0 46.9L627.0 46.9L628.0 47.1L629.0 45.3"/>
<path class="k" d="M70.0 113.8L70.8 113.8L71.6 113.7L72.4 113.7L73.2 113.6L74.0 113.6L74.8 113.5L75.6 113.4L76.4 113.3L77.2 113.2L78.0 113.0L78.8 112.9L79.6 112.7L80.4 112.6L81.2 112.4L82.0 112.1L82.8 111.9L83.6 111.6L84.4 111.3L85.2 111.1L86.0 110.8L86.8 110.6L87.6 110.4L88.4 110.2L89.2 110.0L90.0 109.8L90.8 109.7L91.6 109.6L92.4 109.4L93.2 109.3L94.0 109.2L94.8 109.1L95.6 109.0L96.4 108.9L97.2 108.8L98.0 108.7L98.8 108.6L99.6 108.5L100.4 108.4L101.2 108.3L102.0 108.2L102.8 108.2L103.6 108.3L104.4 108.5L105.2 108.7L106.0 108.7L106.8 108.5L107.6 108.0L108.4 107.3L109.2 106.8L110.0 106.2L110.8 105.6L111.6 105.1L112.4 104.7L113.2 104.3L114.0 104.2L114.8 104.1L115.6 103.9L116.4 103.6L117.2 103.0L118.0 102.3L118.8 101.6L119.6 100.8L120.4 100.2L121.2 99.5L122.0 98.9L122.8 98.5L123.6 98.3L124.4 98.1L125.2 98.0L126.0 97.9L126.8 97.7L127.6 97.6L128.4 97.4L129.2 97.2L130.0 97.1L130.8 97.0L131.6 96.9L132.4 96.9L133.2 96.9L134.0 96.9L134.8 97.0L135.6 97.0L136.4 96.9L137.2 96.8L138.0 96.5L138.8 96.3L139.6 96.0L140.4 95.8L141.2 95.7L142.0 95.6L142.8 95.6L143.6 95.6L144.4 95.7L145.2 95.8L146.0 95.9L146.8 96.0L147.6 96.0L148.4 96.0L149.2 96.0L150.0 96.0L150.8 95.6L151.6 95.2L152.4 95.7L153.2 95.0L154.0 94.7L154.8 94.4L155.6 94.2L156.4 94.1L157.2 93.2L158.0 93.3L158.8 92.9L159.6 91.8L160.4 91.5L161.2 91.8L162.0 93.1L162.8 93.6L163.6 94.9L164.4 95.6L165.2 95.7L166.0 95.8L166.8 95.5L167.6 95.6L168.4 96.6L169.2 96.6L170.0 97.0L170.8 97.1L171.6 97.5L172.4 97.8L173.2 98.4L174.0 98.0L174.8 98.7L175.6 98.8L176.4 99.6L177.2 99.9L178.0 99.6L178.8 99.6L179.6 100.0L180.4 100.2L181.2 100.7L182.0 100.3L182.8 100.4L183.6 99.8L184.4 99.8L185.2 99.2L186.0 99.4L186.8 99.1L187.6 99.2L188.4 99.1L189.2 98.5L190.0 97.8L190.8 98.5L191.6 98.3L192.4 97.7L193.2 97.6L194.0 98.0L194.8 97.2L195.6 97.2L196.4 97.5L197.2 97.4L198.0 97.3L198.8 97.2L199.6 96.8L200.4 96.6L201.2 96.3L202.0 96.4L202.8 96.7L203.6 97.0L204.4 97.6L205.2 97.9L206.0 98.1L206.8 98.4L207.6 99.0L208.4 99.2L209.2 100.0L210.0 100.3L210.8 100.7L211.6 100.8L212.4 101.4L213.2 102.0L214.0 102.6L214.8 102.6L215.6 102.8L216.4 103.6L217.2 103.4L218.0 104.0L218.8 104.1L219.6 105.0L220.4 105.0L221.2 105.5L222.0 106.1L222.8 106.2L223.6 105.7L224.4 106.2L225.2 105.8L226.0 106.6L226.8 106.3L227.6 106.6L228.4 106.0L229.2 106.5L230.0 105.7L230.8 106.4L231.6 105.9L232.4 105.5L233.2 106.3L234.0 106.2L234.8 105.5L235.6 105.9L236.4 105.8L237.2 105.5L238.0 105.8L238.8 106.4L239.6 106.0L240.4 106.6L241.2 107.5L242.0 108.1L242.8 109.3L243.6 110.2L244.4 112.8L245.2 113.6L246.0 114.5L246.8 114.1L247.6 114.5L248.4 112.8L249.2 112.4L250.0 112.9L250.8 112.8L251.6 114.3L252.4 114.0L253.2 117.3L254.0 116.5L254.8 119.3L255.6 119.4L256.4 119.2L257.2 122.1L258.0 120.1L258.8 121.7L259.6 122.1L260.4 122.0L261.2 122.3L262.0 122.3L262.8 124.7L263.6 122.4L264.4 123.1L265.2 122.6L266.0 125.3L266.8 124.6L267.6 125.3L268.4 125.2L269.2 123.9L270.0 123.5L270.8 122.9L271.6 122.7L272.4 122.9L273.2 123.8L274.0 122.4L274.8 122.7L275.6 123.3L276.4 122.6L277.2 121.8L278.0 121.7L278.8 120.2L279.6 120.8L280.4 121.3L281.2 120.1L282.0 120.6L282.8 119.9L283.6 120.7L284.4 119.3L285.2 122.0L286.0 121.4L286.8 119.2L287.6 122.2L288.4 120.3L289.2 123.4L290.0 121.0L290.8 120.6L291.6 123.4L292.4 123.0L293.2 120.6L294.0 122.9L294.8 123.7L295.6 122.0L296.4 123.6L297.2 122.6L298.0 122.6L298.8 122.1L299.6 120.2L300.4 121.3L301.2 120.6L302.0 120.9L302.8 119.8L303.6 118.7L304.4 120.4L305.2 119.0L306.0 121.0"/>
<path class="k" d="M70.0 114.2L70.8 114.2L71.6 114.1L72.4 114.1L73.2 114.0L74.0 114.0L74.8 113.9L75.6 113.8L76.4 113.7L77.2 113.6L78.0 113.4L78.8 113.3L79.6 113.1L80.4 113.0L81.2 112.8L82.0 112.5L82.8 112.3L83.6 112.0L84.4 111.7L85.2 111.5L86.0 111.2L86.8 111.0L87.6 110.8L88.4 110.6L89.2 110.4L90.0 110.2L90.8 110.1L91.6 110.0L92.4 109.8L93.2 109.7L94.0 109.6L94.8 109.5L95.6 109.4L96.4 109.3L97.2 109.2L98.0 109.1L98.8 109.0L99.6 108.9L100.4 108.8L101.2 108.7L102.0 108.6L102.8 108.6L103.6 108.7L104.4 108.9L105.2 109.1L106.0 109.1L106.8 108.9L107.6 108.4L108.4 107.7L109.2 107.2L110.0 106.6L110.8 106.0L111.6 105.5L112.4 105.1L113.2 104.7L114.0 104.5L114.8 104.4L115.6 104.3L116.4 104.0L117.2 103.5L118.0 103.0L118.8 102.4L119.6 101.8L120.4 101.4L121.2 101.0L122.0 100.7L122.8 100.4L123.6 100.1L124.4 99.8L125.2 99.5L126.0 99.1L126.8 98.8L127.6 98.5L128.4 98.3L129.2 98.2L130.0 98.1L130.8 98.1L131.6 98.1L132.4 98.2L133.2 98.2L134.0 98.2L134.8 98.2L135.6 98.1L136.4 98.1L137.2 98.0L138.0 98.0L138.8 98.0L139.6 98.0L140.4 98.0L141.2 98.1L142.0 98.2L142.8 98.3L143.6 98.5L144.4 98.6L145.2 98.7L146.0 98.8L146.8 98.9L147.6 99.0L148.4 99.0L149.2 99.0L150.0 98.5L150.8 98.6L151.6 98.8L152.4 99.0L153.2 98.4L154.0 98.3L154.8 98.3L155.6 98.6L156.4 97.7L157.2 98.0L158.0 97.6L158.8 96.8L159.6 97.1L160.4 97.0L161.2 97.2L162.0 98.1L162.8 97.6L163.6 97.9L164.4 99.2L165.2 99.0L166.0 99.0L166.8 99.2L167.6 99.4L168.4 100.1L169.2 99.5L170.0 99.7L170.8 100.3L171.6 100.4L172.4 101.0L173.2 101.1L174.0 100.8L174.8 100.9L175.6 101.7L176.4 102.1L177.2 101.4L178.0 102.4L178.8 102.9L179.6 102.9L180.4 102.6L181.2 103.3L182.0 103.2L182.8 102.5L183.6 102.8L184.4 102.1L185.2 101.7L186.0 101.8L186.8 101.7L187.6 101.6L188.4 101.7L189.2 101.8L190.0 101.7L190.8 101.6L191.6 101.5L192.4 101.1L193.2 100.5L194.0 100.2L194.8 100.4L195.6 100.2L196.4 100.2L197.2 99.5L198.0 99.5L198.8 100.1L199.6 99.7L200.4 99.7L201.2 99.1L202.0 99.5L202.8 100.2L203.6 100.2L204.4 100.9L205.2 100.5L206.0 101.2L206.8 102.0L207.6 102.1L208.4 102.9L209.2 103.1L210.0 103.1L210.8 103.5L211.6 104.8L212.4 104.4L213.2 104.8L214.0 105.4L214.8 106.1L215.6 106.6L216.4 106.6L217.2 107.0L218.0 107.7L218.8 107.5L219.6 107.8L220.4 108.1L221.2 108.2L222.0 107.5L222.8 107.4L223.6 107.3L224.4 107.8L225.2 107.8L226.0 108.1L226.8 108.0L227.6 107.6L228.4 108.2L229.2 108.5L230.0 108.0L230.8 107.7L231.6 108.2L232.4 108.2L233.2 108.1L234.0 107.9L234.8 108.0L235.6 108.6L236.4 107.7L237.2 108.2L238.0 107.8L238.8 107.9L239.6 108.8L240.4 108.4L241.2 110.3L242.0 111.9L242.8 113.7L243.6 115.1L244.4 117.2L245.2 116.4L246.0 118.1L246.8 117.5L247.6 117.5L248.4 116.3L249.2 115.7L250.0 115.0L250.8 115.3L251.6 117.6L252.4 119.6L253.2 119.8L254.0 122.7L254.8 124.3L255.6 123.4L256.4 123.9L257.2 124.8L258.0 126.2L258.8 125.4L259.6 124.8L260.4 126.4L261.2 125.4L262.0 127.5L262.8 125.2L263.6 126.2L264.4 126.2L265.2 127.9L266.0 125.4L266.8 126.8L267.6 125.9L268.4 125.9L269.2 124.6L270.0 125.3L270.8 127.1L271.6 126.6L272.4 126.3L273.2 125.5L274.0 123.8L274.8 124.3L275.6 124.6L276.4 123.5L277.2 125.9L278.0 122.8L278.8 123.6L279.6 122.8L280.4 122.9L281.2 122.9L282.0 123.3L282.8 123.8L283.6 126.0L284.4 124.3L285.2 124.5L286.0 123.7L286.8 123.8L287.6 125.0L288.4 125.9L289.2 123.8L290.0 125.7L290.8 125.0L291.6 127.0L292.4 125.7L293.2 125.9L294.0 125.9L294.8 127.9L295.6 127.7L296.4 126.0L297.2 128.9L298.0 127.2L298.8 126.7L299.6 125.5L300.4 125.9L301.2 126.8L302.0 127.1L302.8 125.1L303.6 125.5L304.4 124.2L305.2 125.4L306.0 123.7"/>
<path class="k" d="M70.0 117.1L70.8 116.9L71.6 116.7L72.4 116.6L73.2 116.4L74.0 116.2L74.8 115.9L75.6 115.7L76.4 115.4L77.2 115.1L78.0 114.8L78.8 114.4L79.6 114.1L80.4 113.7L81.2 113.4L82.0 113.0L82.8 112.6L83.6 112.2L84.4 111.9L85.2 111.5L86.0 111.2L86.8 111.0L87.6 110.8L88.4 110.6L89.2 110.6L90.0 110.5L90.8 110.6L91.6 110.6L92.4 110.7L93.2 110.9L94.0 111.1L94.8 111.2L95.6 111.4L96.4 111.6L97.2 111.8L98.0 112.0L98.8 112.2L99.6 112.4L100.4 112.7L101.2 112.8L102.0 113.0L102.8 113.1L103.6 113.1L104.4 113.2L105.2 113.2L106.0 113.2L106.8 113.2L107.6 113.1L108.4 113.0L109.2 112.8L110.0 112.6L110.8 112.4L111.6 112.2L112.4 111.9L113.2 111.6L114.0 111.3L114.8 111.0L115.6 110.5L116.4 110.0L117.2 109.5L118.0 108.8L118.8 108.1L119.6 107.4L120.4 106.7L121.2 105.9L122.0 105.1L122.8 104.2L123.6 103.3L124.4 102.3L125.2 101.3L126.0 100.5L126.8 99.9L127.6 99.4L128.4 99.0L129.2 98.9L130.0 99.0L130.8 99.2L131.6 99.7L132.4 100.4L133.2 101.1L134.0 101.8L134.8 102.4L135.6 102.9L136.4 103.2L137.2 103.3L138.0 103.3L138.8 103.3L139.6 103.2L140.4 103.0L141.2 102.8L142.0 102.6L142.8 102.3L143.6 102.1L144.4 101.9L145.2 101.7L146.0 101.6L146.8 101.4L147.6 101.2L148.4 101.0L149.2 100.9L150.0 100.4L150.8 100.5L151.6 100.6L152.4 101.2L153.2 100.9L154.0 101.2L154.8 100.6L155.6 101.0L156.4 101.2L157.2 100.8L158.0 101.1L158.8 100.9L159.6 100.4L160.4 100.0L161.2 100.9L162.0 100.4L162.8 100.5L163.6 101.4L164.4 101.7L165.2 101.9L166.0 102.2L166.8 101.6L167.6 101.6L168.4 101.8L169.2 102.8L170.0 102.1L170.8 102.3L171.6 102.3L172.4 102.5L173.2 102.6L174.0 103.0L174.8 103.0L175.6 103.2L176.4 104.0L177.2 103.4L178.0 104.3L178.8 104.4L179.6 104.4L180.4 104.5L181.2 104.8L182.0 104.6L182.8 104.2L183.6 104.2L184.4 104.0L185.2 104.0L186.0 104.5L186.8 103.9L187.6 103.4L188.4 103.8L189.2 104.0L190.0 103.6L190.8 103.8L191.6 103.1L192.4 103.0L193.2 103.5L194.0 102.8L194.8 103.0L195.6 103.0L196.4 102.7L197.2 102.5L198.0 102.3L198.8 103.1L199.6 102.8L200.4 103.0L201.2 102.5L202.0 103.0L202.8 103.1L203.6 103.2L204.4 103.5L205.2 103.9L206.0 104.0L206.8 104.6L207.6 105.4L208.4 105.3L209.2 106.4L210.0 106.5L210.8 107.0L211.6 107.7L212.4 107.9L213.2 107.8L214.0 108.3L214.8 108.4L215.6 108.8L216.4 110.1L217.2 110.1L218.0 110.8L218.8 111.0L219.6 110.7L220.4 111.5L221.2 111.4L222.0 110.8L222.8 110.3L223.6 110.4L224.4 110.3L225.2 110.8L226.0 110.9L226.8 112.2L227.6 113.2L228.4 113.1L229.2 114.4L230.0 114.7L230.8 115.0L231.6 115.7L232.4 115.3L233.2 115.7L234.0 114.8L234.8 115.5L235.6 114.6L236.4 114.2L237.2 115.0L238.0 114.8L238.8 114.8L239.6 115.1L240.4 115.5L241.2 115.3L242.0 118.2L242.8 121.6L243.6 124.2L244.4 125.4L245.2 127.6L246.0 127.9L246.8 128.5L247.6 126.1L248.4 127.1L249.2 125.3L250.0 123.9L250.8 123.6L251.6 125.3L252.4 126.3L253.2 128.9L254.0 130.8L254.8 131.3L255.6 129.6L256.4 129.1L257.2 130.4L258.0 130.9L258.8 131.3L259.6 131.0L260.4 130.1L261.2 130.9L262.0 130.4L262.8 127.9L263.6 129.3L264.4 128.6L265.2 129.0L266.0 127.3L266.8 130.0L267.6 130.4L268.4 127.5L269.2 128.6L270.0 127.4L270.8 128.5L271.6 127.2L272.4 129.1L273.2 129.2L274.0 129.7L274.8 127.1L275.6 128.7L276.4 128.8L277.2 128.3L278.0 129.5L278.8 129.1L279.6 128.4L280.4 130.1L281.2 129.6L282.0 129.4L282.8 130.8L283.6 129.9L284.4 130.8L285.2 132.0L286.0 130.4L286.8 132.0L287.6 130.4L288.4 132.7L289.2 131.8L290.0 131.1L290.8 133.7L291.6 131.3L292.4 131.8L293.2 132.4L294.0 131.3L294.8 132.6L295.6 131.5L296.4 132.2L297.2 131.4L298.0 129.7L298.8 129.6L299.6 130.4L300.4 129.9L301.2 129.5L302.0 130.0L302.8 127.8L303.6 128.1L304.4 128.5L305.2 126.6L306.0 128.3"/>
<path class="k" d="M70.0 128.2L70.8 127.8L71.6 127.4L72.4 127.0L73.2 126.5L74.0 126.1L74.8 125.8L75.6 125.4L76.4 125.0L77.2 124.7L78.0 124.3L78.8 124.0L79.6 123.7L80.4 123.4L81.2 123.1L82.0 122.8L82.8 122.5L83.6 122.1L84.4 121.8L85.2 121.3L86.0 120.9L86.8 120.4L87.6 119.9L88.4 119.5L89.2 119.1L90.0 118.7L90.8 118.3L91.6 118.0L92.4 117.6L93.2 117.3L94.0 117.1L94.8 117.0L95.6 117.1L96.4 117.2L97.2 117.3L98.0 117.4L98.8 117.5L99.6 117.5L100.4 117.4L101.2 117.4L102.0 117.3L102.8 117.2L103.6 117.1L104.4 116.9L105.2 116.8L106.0 116.7L106.8 116.5L107.6 116.3L108.4 116.0L109.2 115.6L110.0 115.3L110.8 114.8L111.6 114.4L112.4 114.0L113.2 113.5L114.0 113.0L114.8 112.5L115.6 112.0L116.4 111.5L117.2 111.0L118.0 110.6L118.8 110.1L119.6 109.6L120.4 109.0L121.2 108.3L122.0 107.7L122.8 107.0L123.6 106.2L124.4 105.3L125.2 104.1L126.0 102.9L126.8 102.0L127.6 101.4L128.4 101.0L129.2 100.6L130.0 100.4L130.8 100.2L131.6 100.1L132.4 100.0L133.2 99.9L134.0 99.9L134.8 100.0L135.6 100.1L136.4 100.3L137.2 100.5L138.0 100.8L138.8 101.1L139.6 101.4L140.4 101.6L141.2 101.9L142.0 102.1L142.8 102.4L143.6 102.6L144.4 102.8L145.2 103.1L146.0 103.3L146.8 103.5L147.6 103.7L148.4 103.8L149.2 104.0L150.0 104.1L150.8 104.1L151.6 104.1L152.4 103.4L153.2 103.6L154.0 103.6L154.8 103.5L155.6 102.5L156.4 102.8L157.2 102.5L158.0 102.2L158.8 102.5L159.6 102.0L160.4 102.0L161.2 102.7L162.0 102.6L162.8 102.5L163.6 102.9L164.4 103.3L165.2 103.1L166.0 103.8L166.8 104.1L167.6 104.0L168.4 104.6L169.2 104.8L170.0 104.6L170.8 104.8L171.6 104.4L172.4 104.5L173.2 105.5L174.0 105.0L174.8 105.0L175.6 105.8L176.4 105.8L177.2 105.3L178.0 105.5L178.8 105.5L179.6 105.6L180.4 105.4L181.2 106.0L182.0 105.9L182.8 106.0L183.6 105.8L184.4 105.8L185.2 105.8L186.0 106.9L186.8 107.4L187.6 108.3L188.4 108.8L189.2 109.0L190.0 108.5L190.8 108.0L191.6 107.1L192.4 106.7L193.2 106.4L194.0 106.3L194.8 106.9L195.6 106.8L196.4 106.8L197.2 106.5L198.0 106.4L198.8 106.2L199.6 105.5L200.4 105.2L201.2 105.8L202.0 106.0L202.8 106.9L203.6 106.7L204.4 108.0L205.2 107.8L206.0 109.0L206.8 109.3L207.6 109.4L208.4 110.0L209.2 109.8L210.0 109.3L210.8 109.7L211.6 110.0L212.4 109.8L213.2 110.3L214.0 111.3L214.8 112.0L215.6 112.3L216.4 112.8L217.2 113.3L218.0 113.4L218.8 114.3L219.6 114.6L220.4 114.3L221.2 114.0L222.0 114.4L222.8 114.4L223.6 113.1L224.4 112.2L225.2 112.5L226.0 113.9L226.8 114.9L227.6 115.7L228.4 116.9L229.2 117.6L230.0 118.2L230.8 118.2L231.6 117.8L232.4 118.0L233.2 117.9L234.0 117.7L234.8 117.3L235.6 116.9L236.4 116.7L237.2 116.8L238.0 116.5L238.8 116.5L239.6 116.2L240.4 116.4L241.2 116.9L242.0 118.5L242.8 118.4L243.6 120.5L244.4 121.4L245.2 124.0L246.0 123.6L246.8 125.7L247.6 126.0L248.4 126.1L249.2 127.9L250.0 127.0L250.8 127.9L251.6 127.9L252.4 126.5L253.2 128.8L254.0 129.9L254.8 131.8L255.6 135.2L256.4 133.8L257.2 135.2L258.0 134.9L258.8 133.9L259.6 133.8L260.4 132.5L261.2 130.9L262.0 132.1L262.8 131.7L263.6 133.6L264.4 134.1L265.2 132.0L266.0 133.5L266.8 132.1L267.6 132.7L268.4 133.2L269.2 132.7L270.0 132.0L270.8 132.0L271.6 132.3L272.4 133.1L273.2 131.3L274.0 131.6L274.8 130.9L275.6 132.4L276.4 130.9L277.2 132.4L278.0 130.6L278.8 133.0L279.6 132.5L280.4 134.0L281.2 133.7L282.0 134.3L282.8 131.6L283.6 133.7L284.4 133.3L285.2 134.8L286.0 134.0L286.8 133.4L287.6 135.3L288.4 136.3L289.2 133.3L290.0 133.7L290.8 134.7L291.6 135.5L292.4 134.7L293.2 135.6L294.0 135.5L294.8 136.5L295.6 135.4L296.4 134.6L297.2 135.4L298.0 136.7L298.8 135.5L299.6 135.9L300.4 133.4L301.2 132.7L302.0 133.4L302.8 133.0L303.6 131.1L304.4 130.5L305.2 132.1L306.0 131.2"/>
<path class="k" d="M70.0 139.9L70.8 139.8L71.6 139.7L72.4 139.6L73.2 139.5L74.0 139.3L74.8 139.2L75.6 139.0L76.4 138.7L77.2 138.3L78.0 137.9L78.8 137.4L79.6 136.8L80.4 136.3L81.2 135.7L82.0 135.3L82.8 134.8L83.6 134.4L84.4 134.1L85.2 133.7L86.0 133.4L86.8 133.1L87.6 132.8L88.4 132.5L89.2 132.3L90.0 132.1L90.8 131.9L91.6 131.7L92.4 131.6L93.2 131.4L94.0 131.3L94.8 131.2L95.6 131.0L96.4 130.8L97.2 130.7L98.0 130.5L98.8 130.4L99.6 130.2L100.4 130.1L101.2 129.9L102.0 129.7L102.8 129.5L103.6 129.3L104.4 129.1L105.2 128.9L106.0 128.6L106.8 128.4L107.6 128.1L108.4 127.7L109.2 127.3L110.0 126.7L110.8 126.0L111.6 125.3L112.4 124.7L113.2 124.2L114.0 123.7L114.8 123.2L115.6 122.7L116.4 122.0L117.2 121.2L118.0 120.4L118.8 119.6L119.6 118.7L120.4 117.9L121.2 117.0L122.0 116.1L122.8 115.1L123.6 114.1L124.4 113.0L125.2 112.2L126.0 111.8L126.8 111.6L127.6 111.7L128.4 111.8L129.2 111.9L130.0 111.9L130.8 111.7L131.6 111.3L132.4 111.0L133.2 111.3L134.0 112.0L134.8 112.4L135.6 112.0L136.4 111.0L137.2 109.8L138.0 108.7L138.8 107.9L139.6 107.7L140.4 108.0L141.2 108.4L142.0 108.8L142.8 109.1L143.6 109.1L144.4 108.9L145.2 108.7L146.0 108.5L146.8 108.4L147.6 109.5L148.4 109.2L149.2 108.6L150.0 108.1L150.8 107.5L151.6 107.1L152.4 106.5L153.2 105.9L154.0 104.7L154.8 104.7L155.6 103.5L156.4 102.7L157.2 101.9L158.0 101.8L158.8 101.1L159.6 100.8L160.4 100.9L161.2 100.9L162.0 100.7L162.8 100.0L163.6 100.0L164.4 100.4L165.2 101.0L166.0 101.7L166.8 102.0L167.6 102.5L168.4 102.5L169.2 102.8L170.0 102.6L170.8 102.8L171.6 102.8L172.4 103.3L173.2 103.6L174.0 103.8L174.8 104.0L175.6 104.4L176.4 104.6L177.2 105.5L178.0 105.5L178.8 105.8L179.6 105.9L180.4 105.2L181.2 104.7L182.0 104.7L182.8 105.2L183.6 105.2L184.4 105.2L185.2 106.2L186.0 106.6L186.8 108.0L187.6 108.1L188.4 109.4L189.2 109.9L190.0 109.0L190.8 108.4L191.6 107.2L192.4 106.8L193.2 106.4L194.0 106.4L194.8 106.3L195.6 106.6L196.4 106.4L197.2 106.7L198.0 106.2L198.8 105.7L199.6 106.1L200.4 105.4L201.2 105.8L202.0 106.6L202.8 106.9L203.6 107.6L204.4 107.7L205.2 108.7L206.0 108.6L206.8 109.6L207.6 109.4L208.4 109.4L209.2 109.9L210.0 109.9L210.8 109.6L211.6 109.8L212.4 110.0L213.2 111.1L214.0 111.3L214.8 111.6L215.6 112.4L216.4 112.4L217.2 113.0L218.0 113.6L218.8 114.3L219.6 114.3L220.4 114.2L221.2 114.5L222.0 114.2L222.8 114.9L223.6 115.5L224.4 115.0L225.2 116.0L226.0 116.3L226.8 115.9L227.6 116.6L228.4 116.9L229.2 116.3L230.0 116.8L230.8 117.0L231.6 117.3L232.4 116.7L233.2 117.1L234.0 116.8L234.8 116.7L235.6 116.3L236.4 116.2L237.2 115.8L238.0 115.6L238.8 115.5L239.6 115.8L240.4 115.9L241.2 117.3L242.0 118.3L242.8 120.4L243.6 123.1L244.4 125.7L245.2 125.7L246.0 127.4L246.8 127.1L247.6 128.0L248.4 126.8L249.2 129.5L250.0 127.4L250.8 126.8L251.6 128.6L252.4 129.0L253.2 130.3L254.0 130.5L254.8 130.0L255.6 130.4L256.4 132.2L257.2 132.3L258.0 132.8L258.8 135.7L259.6 136.3L260.4 139.0L261.2 137.8L262.0 138.0L262.8 139.8L263.6 139.9L264.4 140.5L265.2 140.6L266.0 140.5L266.8 141.3L267.6 140.9L268.4 139.6L269.2 139.3L270.0 138.3L270.8 138.3L271.6 137.5L272.4 139.4L273.2 138.9L274.0 136.6L274.8 137.7L275.6 137.5L276.4 136.3L277.2 137.9L278.0 137.7L278.8 136.8L279.6 137.6L280.4 135.1L281.2 134.4L282.0 136.6L282.8 136.0L283.6 134.4L284.4 136.2L285.2 136.8L286.0 137.1L286.8 136.8L287.6 139.0L288.4 138.9L289.2 139.1L290.0 137.8L290.8 139.1L291.6 139.3L292.4 139.4L293.2 139.8L294.0 137.9L294.8 140.2L295.6 139.4L296.4 137.4L297.2 137.0L298.0 139.2L298.8 137.4L299.6 138.2L300.4 138.3L301.2 135.2L302.0 137.0L302.8 134.3L303.6 134.9L304.4 133.3L305.2 135.1L306.0 132.2"/>
<path class="k" d="M70.0 190.9L71.2 191.2L72.4 190.7L73.6 191.0L74.8 191.4L76.0 191.4L77.2 191.2L78.4 191.6L79.6 192.4L80.8 192.7L82.0 192.9L83.2 193.7L84.4 193.4L85.6 193.7L86.8 193.7L88.0 193.5L89.2 193.7L90.4 193.0L91.6 192.9L92.8 192.2L94.0 192.3L95.2 191.4L96.4 191.2L97.6 190.9L98.8 190.4L100.0 189.4L101.2 189.4L102.4 189.0L103.6 188.2L104.8 188.1L106.0 187.4L107.2 187.1L108.4 186.8L109.6 186.6L110.8 186.6L112.0 186.1L113.2 186.2L114.4 186.1L115.6 185.7L116.8 185.9L118.0 185.9L119.2 186.5L120.4 186.8L121.6 187.2L122.8 187.5L124.0 188.4L125.2 188.8L126.4 189.9L127.6 190.3L128.8 190.8L130.0 191.9L131.2 192.3L132.4 192.1L133.6 192.0L134.8 190.5L136.0 189.2L137.2 188.0L138.4 187.8L139.6 187.9L140.8 188.5L142.0 188.6L143.2 188.4L144.4 188.1L145.6 187.6L146.8 186.7L148.0 186.8L149.2 186.3L150.4 186.1L151.6 186.2L152.8 186.4L154.0 186.4L155.2 186.3L156.4 186.9L157.6 187.7L158.8 189.0L160.0 189.9L161.2 189.4L162.4 188.7L163.6 188.9L164.8 189.7L166.0 190.1L167.2 190.9L168.4 191.7L169.6 191.4L170.8 191.3L172.0 191.0L173.2 190.9L174.4 190.9L175.6 191.1L176.8 191.8L178.0 192.0L179.2 192.3L180.4 191.8L181.6 191.6L182.8 191.6L184.0 190.8L185.2 190.7L186.4 190.1L187.6 189.8L188.8 189.8L190.0 189.5L191.2 189.6L192.4 189.6L193.6 190.8L194.8 191.4L196.0 191.8L197.2 192.1L198.4 192.2L199.6 192.2L200.8 191.4L202.0 191.8L203.2 191.6L204.4 191.3L205.6 191.6L206.8 191.9L208.0 191.7L209.2 192.1L210.4 192.3L211.6 192.4L212.8 192.2L214.0 192.4L215.2 193.0L216.4 192.6L217.6 192.7L218.8 192.9L220.0 192.5L221.2 192.9L222.4 193.0L223.6 192.7L224.8 192.8L226.0 192.7L227.2 192.9L228.4 192.6L229.6 192.6L230.8 192.8L232.0 193.5L233.2 194.0L234.4 194.1L235.6 195.0L236.8 195.3L238.0 196.1L239.2 196.5L240.4 197.0L241.6 197.6L242.8 197.9L244.0 198.2L245.2 198.4L246.4 198.4L247.6 198.4L248.8 199.0L250.0 199.0L251.2 198.8L252.4 199.1L253.6 198.9L254.8 199.4L256.0 199.5L257.2 198.9L258.4 199.3L259.6 199.5L260.8 199.5L262.0 199.3L263.2 199.0L264.4 199.2L265.6 199.1L266.8 199.3L268.0 199.1L269.2 199.0L270.4 199.3L271.6 199.0L272.8 199.0L274.0 199.2L275.2 199.2L276.4 198.8L277.6 198.6L278.8 198.6L280.0 198.0L281.2 198.2L282.4 197.5L283.6 197.1L284.8 197.1L286.0 196.9L287.2 196.7L288.4 196.6L289.6 196.1L290.8 196.0L292.0 196.1L293.2 195.7L294.4 195.8L295.6 195.6L296.8 195.8L298.0 195.6L299.2 195.6L300.4 195.4L301.6 195.4L302.8 195.4L304.0 195.3L305.2 195.4L306.0 195.4"/>
<path class="k" d="M70.0 193.4L71.9 193.5L73.8 193.8L75.7 194.2L77.6 194.8L79.5 195.4L81.4 196.1L83.3 196.9L85.2 197.8L87.1 198.8L89.2 199.8L90.4 199.9L91.6 199.3L92.8 199.2L94.0 199.6L95.2 199.5L96.4 198.9L97.6 198.7L98.8 199.2L100.0 198.7L101.2 198.8L102.4 198.8L103.6 198.7L104.8 198.9L106.0 198.9L107.2 198.7L108.4 198.8L109.6 198.8L110.8 198.7L112.0 198.6L113.2 198.4L114.4 198.4L115.6 198.9L116.8 198.7L118.0 198.2L119.2 198.7L120.4 198.2L121.6 198.4L122.8 198.1L124.0 197.9L125.2 197.6L126.4 197.7L127.6 197.3L128.8 197.1L130.0 196.8L131.2 196.6L132.4 196.3L133.6 195.8L134.8 195.6L136.0 195.0L137.2 195.1L138.4 194.9L139.6 194.7L140.8 194.1L142.0 194.3L143.2 194.3L144.4 193.9L145.6 194.1L146.8 194.2L148.0 193.9L149.2 194.0L150.4 194.5L151.6 194.4L152.8 194.9L154.0 194.9L155.2 195.0L156.4 195.1L157.6 194.8L158.8 195.3L160.0 194.9L161.2 195.0L162.4 195.3L163.6 195.2L164.8 195.1L166.0 195.4L167.2 195.7L168.4 195.1L169.6 195.1L170.8 195.5L172.0 195.2L173.2 195.0L174.4 194.9L175.6 195.1L176.8 194.8L178.0 194.6L179.2 194.5L180.4 194.8L181.6 194.2L182.8 194.4L184.0 194.5L185.2 194.1L186.4 194.3L187.6 194.4L188.8 194.7L190.0 194.7L191.2 194.7L192.4 194.7L193.6 194.9L194.8 195.4L196.0 194.9L197.2 195.0L198.4 195.2L199.6 195.2L200.8 195.4L202.0 195.6L203.2 196.0L204.4 196.2L205.6 195.5L206.8 195.9L208.0 195.6L209.2 196.0L210.4 196.0L211.6 195.7L212.8 195.1L214.0 195.2L215.2 195.0L216.4 194.9L217.6 194.4L218.8 194.1L220.0 194.3L221.2 194.2L222.4 193.6L223.6 193.5L224.8 193.0L226.0 193.2L227.2 193.2L228.4 193.1L229.6 193.2L230.8 193.5L232.0 194.4L233.2 194.6L234.4 194.6L235.6 195.2L236.8 195.2L238.0 195.9L239.2 195.9L240.4 196.4L241.6 196.8L242.8 197.0L244.0 197.2L245.2 197.7L246.4 197.6L247.6 198.3L248.8 198.5L250.0 198.6L251.2 199.0L252.4 198.5L253.6 199.1L254.8 198.4L256.0 198.8L257.2 198.6L258.4 198.5L259.6 198.7L260.8 198.8L262.0 198.5L263.2 198.7L264.4 199.2L265.6 199.0L266.8 198.9L268.0 199.1L269.2 198.7L270.4 198.9L271.6 199.0L272.8 198.7L274.0 198.6L275.2 198.4L276.4 198.9L277.6 198.2L278.8 197.8L280.0 197.5L281.2 197.6L282.4 196.9L283.6 197.0L284.8 196.8L286.0 197.1L287.2 197.0L288.4 197.1L289.6 196.6L290.8 196.4L292.0 196.4L293.2 196.6L294.4 196.5L295.6 196.5L296.8 196.9L298.0 196.7L299.2 196.4L300.4 196.5L301.6 196.2L302.8 196.2L304.0 196.1L305.2 195.8"/>
<path class="k" d="M70.0 195.3L71.9 195.4L73.8 195.5L75.7 195.8L77.6 196.1L79.5 196.5L81.4 196.9L83.3 197.4L85.2 197.9L87.1 198.5L89.2 199.1L90.4 199.3L91.6 198.9L92.8 198.6L94.0 198.5L95.2 198.3L96.4 198.0L97.6 198.3L98.8 197.7L100.0 198.0L101.2 197.8L102.4 197.1L103.6 197.2L104.8 197.2L106.0 197.4L107.2 196.8L108.4 197.1L109.6 196.9L110.8 197.1L112.0 197.2L113.2 197.0L114.4 196.5L115.6 196.9L116.8 196.6L118.0 196.8L119.2 196.4L120.4 196.6L121.6 196.5L122.8 196.3L124.0 196.2L125.2 196.0L126.4 195.7L127.6 195.2L128.8 195.6L130.0 195.0L131.2 194.5L132.4 194.6L133.6 194.4L134.8 194.1L136.0 194.5L137.2 193.9L138.4 194.4L139.6 194.2L140.8 194.0L142.0 194.1L143.2 194.2L144.4 194.0L145.6 194.5L146.8 194.5L148.0 194.8L149.2 194.8L150.4 194.9L151.6 195.1L152.8 195.2L154.0 195.1L155.2 195.2L156.4 195.3L157.6 195.6L158.8 195.8L160.0 195.9L161.2 196.0L162.4 195.6L163.6 195.9L164.8 195.8L166.0 196.2L167.2 196.3L168.4 196.4L169.6 196.6L170.8 196.2L172.0 196.6L173.2 196.5L174.4 196.2L175.6 196.7L176.8 196.0L178.0 196.2L179.2 196.2L180.4 196.1L181.6 196.3L182.8 195.9L184.0 196.0L185.2 195.4L186.4 195.4L187.6 195.0L188.8 195.2L190.0 194.9L191.2 195.0L192.4 194.4L193.6 194.5L194.8 194.8L196.0 194.0L197.2 194.3L198.4 194.3L199.6 194.2L200.8 194.0L202.0 194.0L203.2 194.3L204.4 193.9L205.6 194.2L206.8 194.2L208.0 194.3L209.2 194.3L210.4 194.0L211.6 194.7L212.8 194.5L214.0 195.0L215.2 195.3L216.4 195.3L217.6 195.2L218.8 195.7L220.0 195.6L221.2 195.7L222.4 196.1L223.6 196.3L224.8 196.6L226.0 196.7L227.2 196.8L228.4 197.3L229.6 197.4L230.8 198.0L232.0 198.0L233.2 198.5L234.4 199.3L235.6 199.2L236.8 199.6L238.0 199.7L239.2 200.4L240.4 200.2L241.6 200.1L242.8 200.4L244.0 200.9L245.2 200.9L246.4 200.4L247.6 201.1L248.8 200.6L250.0 200.9L251.2 201.0L252.4 201.1L253.6 200.6L254.8 201.1L256.0 200.6L257.2 200.9L258.4 201.0L259.6 200.7L260.8 200.3L262.0 200.7L263.2 200.5L264.4 200.7L265.6 200.7L266.8 200.2L268.0 200.5L269.2 200.5L270.4 200.7L271.6 200.4L272.8 200.4L274.0 200.5L275.2 200.0L276.4 200.5L277.6 200.1L278.8 199.8L280.0 199.2L281.2 199.2L282.4 198.9L283.6 198.5L284.8 198.8L286.0 198.5L287.2 198.0L288.4 197.4L289.6 197.8L290.8 197.0L292.0 197.0L293.2 196.9L294.4 196.9L295.6 196.6L296.8 196.4L298.0 196.1L299.2 196.3L300.4 196.0L301.6 195.5L302.8 195.7L304.0 195.7L305.2 195.3"/>
<path class="k" d="M70.0 197.3L71.9 197.4L73.8 197.5L75.7 197.7L77.6 198.0L79.5 198.3L81.4 198.7L83.3 199.1L85.2 199.5L87.1 200.0L89.2 200.6L90.4 201.1L91.6 200.6L92.8 200.4L94.0 200.4L95.2 200.6L96.4 200.1L97.6 200.4L98.8 200.1L100.0 200.1L101.2 200.2L102.4 200.2L103.6 200.3L104.8 200.6L106.0 200.3L107.2 200.6L108.4 200.6L109.6 200.6L110.8 200.6L112.0 200.3L113.2 200.3L114.4 200.4L115.6 200.1L116.8 199.7L118.0 199.9L119.2 199.9L120.4 199.6L121.6 199.5L122.8 199.5L124.0 199.8L125.2 199.8L126.4 199.6L127.6 199.2L128.8 198.7L130.0 198.5L131.2 198.7L132.4 198.4L133.6 198.2L134.8 197.8L136.0 197.6L137.2 197.6L138.4 197.4L139.6 197.7L140.8 197.4L142.0 197.5L143.2 197.4L144.4 197.5L145.6 197.6L146.8 197.6L148.0 197.1L149.2 197.7L150.4 197.7L151.6 197.7L152.8 197.5L154.0 197.9L155.2 197.8L156.4 197.4L157.6 197.7L158.8 197.8L160.0 197.6L161.2 197.7L162.4 197.3L163.6 197.3L164.8 196.8L166.0 197.0L167.2 196.5L168.4 196.7L169.6 196.7L170.8 196.1L172.0 195.7L173.2 195.4L174.4 195.5L175.6 195.0L176.8 195.2L178.0 194.9L179.2 194.6L180.4 194.5L181.6 193.9L182.8 194.0L184.0 193.5L185.2 193.7L186.4 193.8L187.6 193.2L188.8 193.5L190.0 193.7L191.2 193.1L192.4 193.0L193.6 193.1L194.8 193.5L196.0 193.0L197.2 193.5L198.4 193.2L199.6 193.7L200.8 193.9L202.0 193.9L203.2 193.6L204.4 194.0L205.6 193.9L206.8 194.4L208.0 194.1L209.2 194.1L210.4 194.3L211.6 194.2L212.8 194.3L214.0 194.7L215.2 194.5L216.4 194.4L217.6 194.9L218.8 194.4L220.0 194.8L221.2 194.7L222.4 194.6L223.6 194.6L224.8 194.6L226.0 194.7L227.2 194.6L228.4 194.4L229.6 195.0L230.8 195.2L232.0 195.9L233.2 195.7L234.4 196.3L235.6 197.0L236.8 196.8L238.0 197.6L239.2 198.2L240.4 198.4L241.6 198.3L242.8 199.1L244.0 199.1L245.2 199.6L246.4 200.1L247.6 200.0L248.8 200.3L250.0 200.5L251.2 200.9L252.4 200.9L253.6 201.4L254.8 201.7L256.0 201.3L257.2 201.8L258.4 202.1L259.6 202.2L260.8 201.9L262.0 202.2L263.2 202.4L264.4 202.4L265.6 202.8L266.8 202.8L268.0 202.9L269.2 202.4L270.4 202.4L271.6 202.8L272.8 202.8L274.0 202.6L275.2 202.5L276.4 202.9L277.6 202.7L278.8 201.9L280.0 201.7L281.2 201.8L282.4 201.4L283.6 200.9L284.8 201.2L286.0 200.6L287.2 200.1L288.4 200.2L289.6 200.0L290.8 199.9L292.0 199.9L293.2 199.3L294.4 199.5L295.6 199.7L296.8 199.4L298.0 199.6L299.2 199.6L300.4 199.5L301.6 199.3L302.8 199.0L304.0 199.6L305.2 199.1"/>
<path class="k" d="M70.0 199.2L71.9 199.3L73.8 199.4L75.7 199.5L77.6 199.8L79.5 200.0L81.4 200.3L83.3 200.6L85.2 201.0L87.1 201.4L89.2 201.9L90.4 201.8L91.6 201.0L92.8 201.0L94.0 201.4L95.2 201.0L96.4 200.4L97.6 200.6L98.8 200.0L100.0 199.9L101.2 199.8L102.4 199.5L103.6 199.2L104.8 199.3L106.0 199.2L107.2 198.8L108.4 198.9L109.6 199.0L110.8 198.3L112.0 198.3L113.2 198.1L114.4 198.5L115.6 198.2L116.8 198.2L118.0 198.0L119.2 198.4L120.4 198.4L121.6 198.3L122.8 198.6L124.0 198.3L125.2 198.5L126.4 199.0L127.6 198.6L128.8 198.6L130.0 198.6L131.2 199.1L132.4 199.3L133.6 198.9L134.8 199.3L136.0 199.4L137.2 199.4L138.4 199.5L139.6 199.7L140.8 199.6L142.0 200.2L143.2 199.7L144.4 200.0L145.6 200.1L146.8 200.1L148.0 199.9L149.2 200.0L150.4 200.3L151.6 199.7L152.8 199.7L154.0 199.8L155.2 200.0L156.4 199.8L157.6 199.7L158.8 199.4L160.0 199.3L161.2 199.6L162.4 199.2L163.6 199.3L164.8 199.0L166.0 199.0L167.2 198.8L168.4 199.2L169.6 198.9L170.8 198.7L172.0 198.5L173.2 198.9L174.4 198.6L175.6 198.3L176.8 198.3L178.0 198.8L179.2 198.3L180.4 198.4L181.6 198.2L182.8 198.7L184.0 198.3L185.2 198.5L186.4 198.6L187.6 198.5L188.8 198.4L190.0 198.3L191.2 198.6L192.4 198.3L193.6 198.6L194.8 198.8L196.0 198.7L197.2 198.5L198.4 198.3L199.6 198.0L200.8 198.3L202.0 198.3L203.2 197.8L204.4 197.5L205.6 197.7L206.8 197.5L208.0 197.6L209.2 197.4L210.4 197.0L211.6 196.8L212.8 196.6L214.0 196.6L215.2 196.4L216.4 196.2L217.6 195.7L218.8 195.9L220.0 195.3L221.2 195.2L222.4 195.3L223.6 194.8L224.8 195.1L226.0 194.8L227.2 194.8L228.4 194.7L229.6 195.2L230.8 195.6L232.0 195.5L233.2 196.4L234.4 196.8L235.6 196.9L236.8 197.3L238.0 197.8L239.2 198.1L240.4 198.4L241.6 198.6L242.8 198.9L244.0 199.0L245.2 199.1L246.4 199.9L247.6 200.0L248.8 199.8L250.0 200.6L251.2 200.9L252.4 200.6L253.6 201.0L254.8 200.6L256.0 201.0L257.2 201.2L258.4 200.9L259.6 200.9L260.8 200.9L262.0 201.2L263.2 201.0L264.4 201.2L265.6 201.3L266.8 201.1L268.0 201.2L269.2 201.0L270.4 201.4L271.6 201.5L272.8 201.1L274.0 201.1L275.2 201.4L276.4 201.3L277.6 201.3L278.8 201.0L280.0 200.6L281.2 200.4L282.4 200.3L283.6 200.1L284.8 199.9L286.0 199.8L287.2 199.5L288.4 199.6L289.6 199.4L290.8 199.0L292.0 199.3L293.2 199.1L294.4 199.1L295.6 199.2L296.8 199.5L298.0 199.2L299.2 199.2L300.4 199.4L301.6 199.6L302.8 199.6L304.0 199.8L305.2 199.2"/>
<path class="k" d="M70.0 201.0L71.9 201.0L73.8 201.1L75.7 201.1L77.6 201.2L79.5 201.3L81.4 201.5L83.3 201.6L85.2 201.8L87.1 201.9L89.2 202.1L90.4 201.9L91.6 202.2L92.8 202.1L94.0 201.9L95.2 201.4L96.4 202.0L97.6 201.7L98.8 201.7L100.0 201.7L101.2 201.7L102.4 202.0L103.6 201.6L104.8 201.6L106.0 202.2L107.2 201.7L108.4 201.7L109.6 201.9L110.8 202.2L112.0 201.9L113.2 201.6L114.4 201.8L115.6 201.7L116.8 201.5L118.0 202.2L119.2 202.2L120.4 201.9L121.6 202.0L122.8 202.6L124.0 202.4L125.2 202.3L126.4 202.4L127.6 202.6L128.8 201.9L130.0 202.0L131.2 201.5L132.4 201.6L133.6 201.3L134.8 201.2L136.0 201.1L137.2 200.9L138.4 201.1L139.6 200.6L140.8 200.2L142.0 200.7L143.2 200.6L144.4 200.5L145.6 200.0L146.8 200.0L148.0 200.2L149.2 199.7L150.4 199.7L151.6 200.1L152.8 199.9L154.0 200.1L155.2 199.9L156.4 200.5L157.6 200.2L158.8 200.1L160.0 200.0L161.2 200.0L162.4 200.3L163.6 200.2L164.8 200.2L166.0 200.2L167.2 199.8L168.4 199.5L169.6 199.4L170.8 199.0L172.0 199.0L173.2 198.8L174.4 198.9L175.6 198.5L176.8 197.9L178.0 198.0L179.2 197.6L180.4 197.7L181.6 197.5L182.8 197.1L184.0 196.9L185.2 196.6L186.4 196.3L187.6 196.5L188.8 196.3L190.0 196.0L191.2 196.2L192.4 196.1L193.6 195.9L194.8 195.5L196.0 196.1L197.2 195.5L198.4 195.6L199.6 195.5L200.8 195.7L202.0 196.1L203.2 196.1L204.4 195.9L205.6 196.1L206.8 196.6L208.0 196.4L209.2 196.4L210.4 196.9L211.6 196.6L212.8 196.5L214.0 196.9L215.2 197.1L216.4 196.6L217.6 197.1L218.8 196.8L220.0 197.3L221.2 197.0L222.4 196.9L223.6 196.8L224.8 196.6L226.0 196.6L227.2 196.9L228.4 197.0L229.6 197.0L230.8 197.2L232.0 197.7L233.2 198.2L234.4 197.9L235.6 198.6L236.8 199.1L238.0 199.0L239.2 199.3L240.4 199.6L241.6 199.6L242.8 199.7L244.0 200.0L245.2 200.7L246.4 200.6L247.6 201.2L248.8 200.9L250.0 201.6L251.2 201.4L252.4 201.6L253.6 202.0L254.8 202.3L256.0 202.5L257.2 202.5L258.4 202.1L259.6 202.6L260.8 202.8L262.0 202.6L263.2 202.9L264.4 202.8L265.6 203.2L266.8 203.4L268.0 203.4L269.2 203.2L270.4 203.1L271.6 203.3L272.8 203.5L274.0 203.3L275.2 203.7L276.4 203.8L277.6 203.5L278.8 203.1L280.0 203.2L281.2 202.6L282.4 202.3L283.6 202.4L284.8 201.9L286.0 201.6L287.2 201.3L288.4 200.9L289.6 200.7L290.8 200.6L292.0 200.7L293.2 200.3L294.4 200.1L295.6 199.9L296.8 200.4L298.0 200.0L299.2 200.0L300.4 199.8L301.6 200.3L302.8 200.1L304.0 200.1L305.2 200.2"/>
<path class="k" d="M70.0 202.6L71.9 202.6L73.8 202.6L75.7 202.6L77.6 202.6L79.5 202.5L81.4 202.5L83.3 202.5L85.2 202.4L87.1 202.4L89.2 202.4L90.4 202.4L91.6 202.3L92.8 201.8L94.0 201.6L95.2 201.3L96.4 201.1L97.6 201.1L98.8 200.8L100.0 200.8L101.2 200.8L102.4 200.7L103.6 200.2L104.8 200.3L106.0 200.5L107.2 200.4L108.4 200.6L109.6 200.0L110.8 200.1L112.0 200.3L113.2 200.5L114.4 200.1L115.6 200.4L116.8 200.2L118.0 200.1L119.2 200.6L120.4 200.1L121.6 200.8L122.8 200.4L124.0 200.5L125.2 200.4L126.4 200.6L127.6 200.8L128.8 200.2L130.0 200.4L131.2 200.2L132.4 199.9L133.6 199.7L134.8 199.9L136.0 199.6L137.2 199.5L138.4 199.4L139.6 199.0L140.8 199.3L142.0 199.3L143.2 198.7L144.4 199.0L145.6 198.8L146.8 198.5L148.0 198.4L149.2 198.2L150.4 198.5L151.6 198.5L152.8 198.6L154.0 198.6L155.2 198.7L156.4 198.5L157.6 198.7L158.8 199.0L160.0 199.0L161.2 198.9L162.4 199.0L163.6 199.6L164.8 199.6L166.0 199.6L167.2 199.4L168.4 199.6L169.6 199.8L170.8 199.8L172.0 199.9L173.2 199.5L174.4 200.0L175.6 199.6L176.8 199.7L178.0 199.8L179.2 200.1L180.4 199.6L181.6 199.7L182.8 199.3L184.0 199.7L185.2 199.1L186.4 199.2L187.6 199.2L188.8 199.1L190.0 198.8L191.2 198.8L192.4 198.2L193.6 198.8L194.8 198.3L196.0 198.2L197.2 197.9L198.4 198.0L199.6 198.0L200.8 197.8L202.0 197.5L203.2 197.5L204.4 198.0L205.6 197.5L206.8 197.8L208.0 198.0L209.2 197.7L210.4 198.2L211.6 198.0L212.8 198.5L214.0 198.1L215.2 198.3L216.4 198.4L217.6 198.5L218.8 198.8L220.0 199.0L221.2 199.1L222.4 199.6L223.6 199.4L224.8 199.4L226.0 200.1L227.2 200.1L228.4 200.1L229.6 201.0L230.8 201.4L232.0 201.6L233.2 202.1L234.4 202.0L235.6 202.7L236.8 202.6L238.0 203.2L239.2 203.4L240.4 203.2L241.6 203.1L242.8 203.3L244.0 203.3L245.2 203.2L246.4 202.9L247.6 203.1L248.8 203.3L250.0 202.9L251.2 203.2L252.4 203.5L253.6 203.4L254.8 203.1L256.0 203.1L257.2 203.4L258.4 203.5L259.6 203.3L260.8 203.5L262.0 203.9L263.2 203.7L264.4 203.8L265.6 203.6L266.8 204.0L268.0 203.8L269.2 204.7L270.4 204.5L271.6 204.7L272.8 205.0L274.0 204.7L275.2 205.4L276.4 205.5L277.6 205.1L278.8 205.6L280.0 205.6L281.2 205.6L282.4 205.0L283.6 205.4L284.8 205.1L286.0 204.5L287.2 204.2L288.4 204.4L289.6 203.7L290.8 203.8L292.0 203.7L293.2 203.1L294.4 202.8L295.6 202.6L296.8 202.1L298.0 201.8L299.2 201.9L300.4 201.9L301.6 201.7L302.8 200.8L304.0 200.7L305.2 200.9"/>
<path class="k" d="M70.0 207.0L71.9 206.9L73.8 206.8L75.7 206.7L77.6 206.4L79.5 206.2L81.4 205.9L83.3 205.5L85.2 205.2L87.1 204.7L89.2 204.3L90.4 204.2L91.6 203.7L92.8 203.9L94.0 204.0L95.2 203.3L96.4 203.5L97.6 202.9L98.8 203.3L100.0 202.9L101.2 202.7L102.4 202.4L103.6 202.4L104.8 202.8L106.0 202.2L107.2 202.4L108.4 202.3L109.6 202.1L110.8 202.2L112.0 201.7L113.2 202.0L114.4 201.5L115.6 201.5L116.8 201.6L118.0 201.3L119.2 201.3L120.4 201.5L121.6 201.6L122.8 201.1L124.0 201.6L125.2 201.4L126.4 201.0L127.6 201.2L128.8 200.6L130.0 200.8L131.2 200.7L132.4 200.3L133.6 200.1L134.8 200.3L136.0 199.7L137.2 199.8L138.4 199.7L139.6 199.3L140.8 199.9L142.0 199.3L143.2 199.7L144.4 199.5L145.6 199.2L146.8 199.4L148.0 199.7L149.2 199.7L150.4 200.2L151.6 199.8L152.8 200.5L154.0 200.7L155.2 200.4L156.4 200.8L157.6 200.7L158.8 201.3L160.0 201.5L161.2 201.4L162.4 201.9L163.6 201.7L164.8 201.7L166.0 202.1L167.2 202.4L168.4 202.1L169.6 202.1L170.8 202.5L172.0 202.5L173.2 202.1L174.4 202.1L175.6 202.4L176.8 202.5L178.0 202.0L179.2 202.3L180.4 202.3L181.6 201.8L182.8 202.1L184.0 201.9L185.2 201.6L186.4 201.6L187.6 201.6L188.8 201.9L190.0 201.5L191.2 201.8L192.4 202.0L193.6 201.8L194.8 201.9L196.0 201.5L197.2 202.1L198.4 202.2L199.6 202.2L200.8 201.8L202.0 202.1L203.2 202.3L204.4 202.0L205.6 202.0L206.8 202.7L208.0 202.5L209.2 202.8L210.4 202.5L211.6 202.8L212.8 202.7L214.0 202.3L215.2 202.3L216.4 202.8L217.6 202.1L218.8 202.6L220.0 202.3L221.2 202.4L222.4 201.7L223.6 201.4L224.8 201.9L226.0 201.5L227.2 201.3L228.4 201.5L229.6 201.2L230.8 201.6L232.0 201.5L233.2 201.6L234.4 201.4L235.6 201.5L236.8 201.5L238.0 201.4L239.2 201.7L240.4 201.6L241.6 201.6L242.8 201.5L244.0 201.9L245.2 201.9L246.4 201.6L247.6 201.9L248.8 202.0L250.0 202.4L251.2 202.1L252.4 202.2L253.6 202.4L254.8 202.7L256.0 202.2L257.2 203.0L258.4 202.5L259.6 202.5L260.8 202.8L262.0 203.2L263.2 203.4L264.4 203.2L265.6 203.1L266.8 203.4L268.0 203.5L269.2 203.8L270.4 203.6L271.6 204.1L272.8 204.3L274.0 203.9L275.2 204.1L276.4 204.6L277.6 203.9L278.8 203.5L280.0 203.8L281.2 203.5L282.4 203.2L283.6 202.9L284.8 202.9L286.0 202.8L287.2 202.5L288.4 202.0L289.6 201.7L290.8 201.7L292.0 201.8L293.2 201.4L294.4 201.3L295.6 201.3L296.8 201.4L298.0 201.5L299.2 201.0L300.4 201.3L301.6 201.3L302.8 201.2L304.0 201.4L305.2 201.1"/>
<path class="k" d="M70.0 209.5L71.9 209.4L73.8 209.3L75.7 209.2L77.6 208.9L79.5 208.7L81.4 208.4L83.3 208.0L85.2 207.6L87.1 207.2L89.2 206.8L90.4 206.7L91.6 205.8L92.8 206.1L94.0 205.7L95.2 205.5L96.4 205.1L97.6 205.3L98.8 204.9L100.0 204.8L101.2 204.6L102.4 204.3L103.6 204.4L104.8 204.1L106.0 203.8L107.2 203.3L108.4 203.4L109.6 203.0L110.8 203.1L112.0 202.8L113.2 202.8L114.4 202.5L115.6 202.1L116.8 202.0L118.0 201.7L119.2 202.1L120.4 201.9L121.6 201.5L122.8 201.3L124.0 201.3L125.2 201.3L126.4 201.1L127.6 201.2L128.8 200.3L130.0 200.3L131.2 200.2L132.4 199.6L133.6 199.7L134.8 199.6L136.0 199.3L137.2 199.7L138.4 199.1L139.6 199.1L140.8 199.2L142.0 198.9L143.2 199.1L144.4 198.9L145.6 198.8L146.8 199.3L148.0 199.1L149.2 199.1L150.4 199.3L151.6 199.6L152.8 199.5L154.0 200.1L155.2 200.2L156.4 200.6L157.6 200.0L158.8 200.4L160.0 200.7L161.2 200.9L162.4 200.6L163.6 201.1L164.8 200.6L166.0 201.0L167.2 200.7L168.4 200.8L169.6 201.2L170.8 201.0L172.0 201.3L173.2 201.4L174.4 201.0L175.6 201.1L176.8 200.9L178.0 200.8L179.2 201.0L180.4 201.2L181.6 201.0L182.8 201.3L184.0 200.9L185.2 200.9L186.4 201.6L187.6 201.2L188.8 201.2L190.0 201.8L191.2 201.9L192.4 202.1L193.6 202.2L194.8 201.9L196.0 202.4L197.2 202.6L198.4 202.5L199.6 202.9L200.8 202.9L202.0 203.1L203.2 203.3L204.4 203.6L205.6 203.5L206.8 204.0L208.0 203.8L209.2 203.9L210.4 204.0L211.6 204.2L212.8 204.5L214.0 204.4L215.2 204.1L216.4 203.8L217.6 203.7L218.8 204.1L220.0 203.4L221.2 203.5L222.4 203.5L223.6 203.0L224.8 203.3L226.0 203.5L227.2 203.3L228.4 203.3L229.6 203.4L230.8 203.4L232.0 203.0L233.2 203.0L234.4 203.6L235.6 203.7L236.8 203.9L238.0 203.9L239.2 203.5L240.4 203.3L241.6 203.7L242.8 203.3L244.0 203.7L245.2 203.5L246.4 203.8L247.6 203.8L248.8 204.0L250.0 203.7L251.2 203.7L252.4 203.6L253.6 203.7L254.8 203.6L256.0 204.3L257.2 203.8L258.4 204.3L259.6 203.8L260.8 204.1L262.0 204.0L263.2 204.4L264.4 204.0L265.6 204.5L266.8 204.6L268.0 204.5L269.2 204.5L270.4 204.5L271.6 204.7L272.8 204.5L274.0 204.8L275.2 204.3L276.4 204.2L277.6 204.4L278.8 203.8L280.0 203.6L281.2 203.7L282.4 203.7L283.6 202.9L284.8 202.7L286.0 202.5L287.2 202.4L288.4 202.4L289.6 202.1L290.8 201.7L292.0 202.1L293.2 201.5L294.4 201.6L295.6 201.9L296.8 201.9L298.0 201.9L299.2 201.6L300.4 201.6L301.6 202.0L302.8 201.8L304.0 201.9L305.2 202.2"/>
<path class="k" d="M70.0 212.3L71.9 212.2L73.8 212.1L75.7 211.9L77.6 211.6L79.5 211.3L81.4 211.0L83.3 210.6L85.2 210.2L87.1 209.7L89.2 209.2L90.4 209.4L91.6 209.3L92.8 208.9L94.0 208.3L95.2 208.3L96.4 207.5L97.6 207.5L98.8 207.2L100.0 206.7L101.2 206.9L102.4 206.6L103.6 206.4L104.8 206.0L106.0 206.2L107.2 205.6L108.4 205.2L109.6 205.6L110.8 204.9L112.0 204.9L113.2 204.7L114.4 204.4L115.6 204.3L116.8 203.5L118.0 203.6L119.2 203.4L120.4 203.8L121.6 203.5L122.8 203.5L124.0 203.5L125.2 203.9L126.4 203.7L127.6 203.8L128.8 203.6L130.0 203.5L131.2 203.5L132.4 203.2L133.6 203.2L134.8 203.1L136.0 203.1L137.2 203.5L138.4 203.2L139.6 203.1L140.8 203.2L142.0 202.9L143.2 203.4L144.4 203.1L145.6 203.0L146.8 203.3L148.0 203.1L149.2 203.4L150.4 203.2L151.6 203.9L152.8 204.0L154.0 203.6L155.2 204.0L156.4 203.7L157.6 203.9L158.8 204.0L160.0 204.0L161.2 204.7L162.4 204.4L163.6 204.5L164.8 204.6L166.0 204.2L167.2 204.3L168.4 204.4L169.6 204.3L170.8 204.0L172.0 203.7L173.2 204.1L174.4 204.0L175.6 203.8L176.8 203.0L178.0 202.9L179.2 202.7L180.4 202.9L181.6 202.4L182.8 202.4L184.0 202.2L185.2 201.8L186.4 201.4L187.6 201.7L188.8 201.2L190.0 201.2L191.2 200.5L192.4 200.7L193.6 200.6L194.8 200.2L196.0 200.1L197.2 200.3L198.4 200.0L199.6 200.0L200.8 199.7L202.0 199.5L203.2 199.8L204.4 199.8L205.6 199.9L206.8 199.7L208.0 200.1L209.2 200.1L210.4 199.7L211.6 199.8L212.8 200.3L214.0 200.4L215.2 200.5L216.4 200.1L217.6 200.8L218.8 200.4L220.0 200.5L221.2 200.9L222.4 201.1L223.6 200.7L224.8 201.3L226.0 201.0L227.2 201.5L228.4 201.6L229.6 202.3L230.8 202.3L232.0 202.3L233.2 203.1L234.4 203.0L235.6 203.6L236.8 203.4L238.0 203.5L239.2 203.7L240.4 203.8L241.6 203.6L242.8 204.0L244.0 204.1L245.2 204.0L246.4 203.9L247.6 204.2L248.8 203.8L250.0 203.7L251.2 203.8L252.4 204.3L253.6 203.8L254.8 204.1L256.0 204.1L257.2 204.6L258.4 204.4L259.6 204.4L260.8 204.4L262.0 204.4L263.2 204.4L264.4 204.7L265.6 205.0L266.8 205.3L268.0 205.2L269.2 205.3L270.4 205.6L271.6 206.3L272.8 206.3L274.0 206.7L275.2 206.6L276.4 206.7L277.6 207.0L278.8 206.5L280.0 206.5L281.2 206.5L282.4 206.5L283.6 206.3L284.8 206.7L286.0 206.2L287.2 206.0L288.4 205.8L289.6 205.4L290.8 205.2L292.0 204.9L293.2 205.2L294.4 204.5L295.6 204.5L296.8 204.8L298.0 204.6L299.2 204.5L300.4 203.9L301.6 204.0L302.8 204.3L304.0 204.0L305.2 204.1"/>
<path class="k" d="M70.0 214.8L71.9 214.7L73.8 214.4L75.7 213.9L77.6 213.4L79.5 212.7L81.4 212.0L83.3 211.1L85.2 210.2L87.1 209.2L89.2 208.0L90.4 208.2L91.6 207.4L92.8 207.3L94.0 206.8L95.2 206.6L96.4 206.2L97.6 205.7L98.8 205.7L100.0 205.7L101.2 205.6L102.4 205.5L103.6 204.9L104.8 205.2L106.0 205.3L107.2 204.8L108.4 204.6L109.6 205.0L110.8 204.9L112.0 205.1L113.2 204.5L114.4 204.3L115.6 204.5L116.8 204.6L118.0 204.5L119.2 204.2L120.4 204.5L121.6 204.4L122.8 204.7L124.0 204.9L125.2 204.7L126.4 204.8L127.6 204.5L128.8 204.5L130.0 204.8L131.2 204.2L132.4 204.1L133.6 204.3L134.8 204.4L136.0 203.8L137.2 204.2L138.4 204.1L139.6 204.1L140.8 204.0L142.0 204.1L143.2 204.3L144.4 203.9L145.6 203.8L146.8 203.8L148.0 204.1L149.2 204.0L150.4 204.2L151.6 204.3L152.8 204.3L154.0 204.4L155.2 204.3L156.4 204.2L157.6 204.3L158.8 203.9L160.0 203.5L161.2 204.0L162.4 203.4L163.6 203.2L164.8 202.8L166.0 203.0L167.2 202.9L168.4 202.2L169.6 202.4L170.8 201.9L172.0 202.1L173.2 201.8L174.4 202.2L175.6 202.3L176.8 202.0L178.0 201.9L179.2 202.2L180.4 202.3L181.6 201.9L182.8 202.3L184.0 202.5L185.2 202.7L186.4 202.3L187.6 202.8L188.8 202.4L190.0 202.7L191.2 202.8L192.4 202.8L193.6 202.3L194.8 202.5L196.0 202.1L197.2 201.9L198.4 202.2L199.6 201.4L200.8 201.9L202.0 201.1L203.2 201.5L204.4 200.9L205.6 200.8L206.8 200.5L208.0 200.8L209.2 200.8L210.4 200.8L211.6 200.4L212.8 200.5L214.0 200.4L215.2 200.6L216.4 201.1L217.6 200.9L218.8 201.1L220.0 201.3L221.2 201.5L222.4 201.7L223.6 202.3L224.8 202.5L226.0 202.7L227.2 202.9L228.4 203.5L229.6 203.5L230.8 204.1L232.0 204.3L233.2 204.6L234.4 204.7L235.6 204.6L236.8 205.1L238.0 205.1L239.2 204.7L240.4 205.0L241.6 204.7L242.8 204.6L244.0 204.8L245.2 205.1L246.4 204.5L247.6 204.7L248.8 204.9L250.0 204.7L251.2 205.2L252.4 205.2L253.6 205.3L254.8 205.3L256.0 205.6L257.2 205.8L258.4 206.0L259.6 205.5L260.8 206.2L262.0 205.8L263.2 205.7L264.4 206.2L265.6 206.1L266.8 206.4L268.0 206.4L269.2 207.0L270.4 207.0L271.6 207.0L272.8 207.7L274.0 207.3L275.2 208.1L276.4 208.3L277.6 207.9L278.8 208.2L280.0 208.1L281.2 207.8L282.4 207.9L283.6 208.0L284.8 207.7L286.0 207.5L287.2 207.5L288.4 207.2L289.6 207.4L290.8 207.2L292.0 206.5L293.2 206.8L294.4 206.2L295.6 206.3L296.8 206.0L298.0 206.3L299.2 205.9L300.4 206.2L301.6 206.1L302.8 205.5L304.0 206.0L305.2 205.3"/>
<path class="k" d="M225.0 204.8L226.0 205.5L227.0 205.2L228.0 206.4L229.0 206.0L230.0 206.1L231.0 207.3L232.0 207.4L233.0 207.7L234.0 207.6L235.0 207.0L236.0 207.7L237.0 207.7L238.0 208.9L239.0 207.7L240.0 209.3L241.0 208.3L242.0 208.5L243.0 209.0L244.0 208.9L245.0 208.4L246.0 208.2L247.0 208.0L248.0 207.7L249.0 206.6L250.0 206.7L251.0 206.1L252.0 207.2L253.0 206.8L254.0 207.0L255.0 207.4L256.0 208.9L257.0 207.6L258.0 209.1L259.0 209.2L260.0 208.0L261.0 209.2L262.0 208.2L263.0 209.1L264.0 208.3L265.0 208.8L266.0 209.4L267.0 209.4L268.0 210.4L269.0 210.3L270.0 209.4L271.0 210.4L272.0 209.7L273.0 209.9L274.0 210.3L275.0 210.3L276.0 210.8L277.0 211.8L278.0 211.8L279.0 211.8L280.0 212.7L281.0 211.9L282.0 213.1L283.0 213.6L284.0 213.5L285.0 212.4L286.0 212.2L287.0 211.4L288.0 211.1L289.0 211.8L290.0 209.9L291.0 210.9L292.0 209.4L293.0 209.7L294.0 209.4L295.0 208.3L296.0 208.8L297.0 207.7L298.0 209.2L299.0 209.0L300.0 208.1L301.0 208.3L302.0 208.0L303.0 206.9L304.0 206.5L305.0 206.9L306.0 207.0"/>
<path class="k" d="M225.0 206.3L226.0 206.9L227.0 207.8L228.0 207.4L229.0 207.9L230.0 209.0L231.0 209.0L232.0 209.1L233.0 209.5L234.0 209.6L235.0 209.4L236.0 210.4L237.0 211.0L238.0 210.6L239.0 210.6L240.0 210.0L241.0 210.1L242.0 209.5L243.0 210.3L244.0 209.3L245.0 208.9L246.0 209.7L247.0 208.2L248.0 209.0L249.0 208.0L250.0 208.1L251.0 207.9L252.0 207.3L253.0 208.7L254.0 208.5L255.0 209.5L256.0 209.6L257.0 210.0L258.0 210.8L259.0 210.3L260.0 211.0L261.0 211.9L262.0 212.2L263.0 211.3L264.0 210.9L265.0 211.5L266.0 211.1L267.0 211.6L268.0 212.6L269.0 212.8L270.0 212.0L271.0 213.0L272.0 213.2L273.0 213.5L274.0 213.3L275.0 214.1L276.0 213.9L277.0 215.2L278.0 215.4L279.0 215.7L280.0 215.5L281.0 216.5L282.0 215.4L283.0 214.9L284.0 214.9L285.0 215.5L286.0 213.7L287.0 214.3L288.0 214.1L289.0 213.2L290.0 211.9L291.0 211.2L292.0 211.4L293.0 210.5L294.0 210.1L295.0 208.4L296.0 208.7L297.0 208.5L298.0 207.2L299.0 206.9L300.0 207.8L301.0 207.2L302.0 206.7L303.0 206.8L304.0 206.3L305.0 206.2L306.0 206.5"/>
<path class="k" d="M70.0 224.7L71.0 224.5L72.0 224.4L73.0 224.3L74.0 224.1L75.0 223.9L76.0 223.8L77.0 223.6L78.0 223.3L79.0 223.0L80.0 222.7L81.0 222.3L82.0 221.9L83.0 221.5L84.0 221.2L85.0 221.0L86.0 220.8L87.0 220.6L88.0 220.5L89.0 220.3L90.0 220.2L91.0 220.1L92.0 220.0L93.0 219.9L94.0 219.8L95.0 219.7L96.0 219.5L97.0 219.4L98.0 219.2L99.0 219.0L100.0 218.8L101.0 218.5L102.0 218.3L103.0 218.0L104.0 217.7L105.0 217.4L106.0 217.1L107.0 216.8L108.0 216.5L109.0 216.2L110.0 216.0L111.0 215.8L112.0 215.6L113.0 215.4L114.0 215.2L115.0 215.1L116.0 214.9L117.0 214.8L118.0 214.7L119.0 214.7L120.0 214.6L121.0 214.5L122.0 214.4L123.0 214.3L124.0 214.2L125.0 214.2L126.0 214.1L127.0 214.0L128.0 213.8L129.0 213.5L130.0 213.2L131.0 213.2L132.0 213.5L133.0 214.2L134.0 214.9L135.0 215.6L136.0 216.2L137.0 216.3L138.0 215.6L139.0 214.6L140.0 215.4L141.0 216.0L142.0 218.7L143.0 218.7L144.0 218.9L145.0 219.0L146.0 217.8L147.0 217.6L148.0 217.0L149.0 217.8L150.0 217.7L151.0 216.4L152.0 215.9L153.0 216.4L154.0 217.2L155.0 218.7L156.0 219.0L157.0 218.9L158.0 215.3L159.0 210.7L160.0 207.8L161.0 209.8L162.0 213.7L163.0 216.8L164.0 217.4L165.0 215.1L166.0 213.3L167.0 212.1L168.0 212.6L169.0 212.4L170.0 213.2L171.0 213.8L172.0 214.1L173.0 213.4L174.0 213.0L175.0 213.5L176.0 213.3L177.0 213.6L178.0 213.5L179.0 214.4L180.0 214.6L181.0 215.2L182.0 216.0L183.0 216.2L184.0 216.1L185.0 215.6L186.0 215.9L187.0 216.3L188.0 215.5L189.0 215.5L190.0 215.8L191.0 215.2L192.0 215.2L193.0 214.9L194.0 215.3L195.0 214.7L196.0 214.0L197.0 213.7L198.0 214.3L199.0 213.5L200.0 213.9L201.0 213.1L202.0 213.2L203.0 212.8L204.0 213.0L205.0 212.2L206.0 212.5L207.0 212.8L208.0 212.5L209.0 213.5L210.0 213.6L211.0 213.7L212.0 213.7L213.0 213.7L214.0 213.1L215.0 213.2L216.0 212.6L217.0 212.1L218.0 213.1L219.0 213.2L220.0 212.6L221.0 213.1L222.0 213.3L223.0 214.2L224.0 213.9L225.0 215.0L226.0 214.3L227.0 215.0L228.0 215.8L229.0 215.7L230.0 215.5L231.0 215.7L232.0 216.8L233.0 216.4L234.0 217.0L235.0 217.7L236.0 217.5L237.0 217.2L238.0 217.8L239.0 218.8L240.0 217.5L241.0 215.8L242.0 217.2L243.0 216.0L244.0 215.3L245.0 214.4L246.0 216.2L247.0 215.8L248.0 215.7L249.0 214.7L250.0 217.1L251.0 217.3L252.0 216.5L253.0 216.8L254.0 217.8L255.0 219.0L256.0 219.3L257.0 219.1L258.0 220.1L259.0 219.6L260.0 220.0L261.0 220.2L262.0 221.7L263.0 221.4L264.0 221.0L265.0 223.3L266.0 222.2L267.0 222.4L268.0 222.9L269.0 224.4L270.0 223.0L271.0 224.3L272.0 225.9L273.0 225.6L274.0 226.7L275.0 225.8L276.0 226.3L277.0 226.5L278.0 226.8L279.0 226.9L280.0 226.4L281.0 227.2L282.0 226.6L283.0 226.8L284.0 225.9L285.0 224.7L286.0 224.9L287.0 225.5L288.0 225.5L289.0 223.8L290.0 224.6L291.0 223.9L292.0 222.5L293.0 222.0L294.0 222.2L295.0 221.0L296.0 221.5L297.0 220.6L298.0 220.6L299.0 221.6L300.0 220.3L301.0 220.3L302.0 219.2L303.0 219.1L304.0 219.1L305.0 218.7L306.0 219.0"/>
<path class="k" d="M70.0 243.6L71.0 243.4L72.0 243.3L73.0 243.1L74.0 242.9L75.0 242.8L76.0 242.6L77.0 242.5L78.0 242.3L79.0 242.2L80.0 242.2L81.0 242.1L82.0 242.1L83.0 242.1L84.0 242.2L85.0 242.3L86.0 242.4L87.0 242.6L88.0 242.7L89.0 242.8L90.0 243.0L91.0 243.1L92.0 243.2L93.0 243.2L94.0 243.3L95.0 243.4L96.0 243.4L97.0 243.5L98.0 243.5L99.0 243.6L100.0 243.6L101.0 243.6L102.0 243.6L103.0 243.6L104.0 243.6L105.0 243.5L106.0 243.5L107.0 243.4L108.0 243.3L109.0 243.2L110.0 243.1L111.0 243.0L112.0 242.9L113.0 242.8L114.0 242.7L115.0 242.6L116.0 242.4L117.0 242.3L118.0 242.1L119.0 242.0L120.0 241.8L121.0 241.7L122.0 241.5L123.0 241.4L124.0 241.3L125.0 241.2L126.0 241.1L127.0 241.0L128.0 240.9L129.0 240.8L130.0 240.8L131.0 240.8L132.0 240.8L133.0 241.0L134.0 241.1L135.0 241.4L136.0 241.6L137.0 241.7L138.0 241.9L139.0 242.0L140.0 242.8L141.0 242.0L142.0 242.4L143.0 241.9L144.0 243.4L145.0 242.1L146.0 242.9L147.0 242.7L148.0 242.9L149.0 242.3L150.0 242.2L151.0 242.1L152.0 241.3L153.0 241.3L154.0 240.6L155.0 240.8L156.0 239.8L157.0 239.2L158.0 240.0L159.0 243.0L160.0 246.8L161.0 246.5L162.0 245.6L163.0 242.9L164.0 239.2L165.0 239.3L166.0 239.6L167.0 240.1L168.0 239.9L169.0 241.8L170.0 241.2L171.0 242.2L172.0 242.2L173.0 241.7L174.0 241.9L175.0 241.7L176.0 241.6L177.0 240.6L178.0 241.5L179.0 240.8L180.0 240.3L181.0 239.8L182.0 240.8L183.0 240.9L184.0 240.6L185.0 240.2L186.0 240.2L187.0 239.7L188.0 239.4L189.0 240.6L190.0 240.3L191.0 239.9L192.0 240.3L193.0 239.0L194.0 238.7L195.0 238.9L196.0 239.7L197.0 238.7L198.0 238.1L199.0 238.2L200.0 238.0L201.0 239.1L202.0 239.2L203.0 237.7L204.0 238.7L205.0 238.0L206.0 239.1L207.0 238.2L208.0 239.2L209.0 238.2L210.0 239.1L211.0 239.0L212.0 238.6L213.0 240.0L214.0 239.4L215.0 239.8L216.0 239.0L217.0 239.2L218.0 240.1L219.0 239.5L220.0 240.2L221.0 239.7L222.0 240.1L223.0 239.0L224.0 239.2L225.0 239.8L226.0 238.4L227.0 239.1L228.0 238.2L229.0 238.5L230.0 238.8L231.0 238.5L232.0 238.2L233.0 238.2L234.0 239.2L235.0 239.5L236.0 239.2L237.0 238.8L238.0 239.6L239.0 238.6L240.0 239.9L241.0 239.8L242.0 239.9L243.0 240.2L244.0 239.6L245.0 240.4L246.0 240.6L247.0 240.7L248.0 240.9L249.0 240.8L250.0 241.3L251.0 241.1L252.0 242.1L253.0 241.2L254.0 242.1L255.0 241.9L256.0 242.5L257.0 242.5L258.0 242.1L259.0 243.1L260.0 242.9L261.0 241.9L262.0 242.3L263.0 242.2L264.0 242.6L265.0 242.8L266.0 242.8L267.0 243.5L268.0 242.6L269.0 243.4L270.0 242.6L271.0 242.9L272.0 242.0L273.0 242.8L274.0 241.9L275.0 242.4L276.0 241.6L277.0 242.2L278.0 241.9L279.0 240.6L280.0 241.5L281.0 240.9L282.0 240.0L283.0 240.6L284.0 240.0L285.0 240.6L286.0 239.7L287.0 238.8L288.0 239.2L289.0 238.1L290.0 238.0L291.0 237.6L292.0 237.3L293.0 237.8L294.0 238.3L295.0 237.3L296.0 236.8L297.0 236.2L298.0 236.7L299.0 236.4L300.0 235.8L301.0 236.7L302.0 236.3L303.0 235.1L304.0 235.7L305.0 235.4L306.0 235.2"/>
<path class="k" d="M70.0 245.1L71.0 245.1L72.0 245.2L73.0 245.2L74.0 245.3L75.0 245.3L76.0 245.3L77.0 245.4L78.0 245.4L79.0 245.4L80.0 245.4L81.0 245.4L82.0 245.4L83.0 245.3L84.0 245.2L85.0 245.1L86.0 245.0L87.0 244.9L88.0 244.8L89.0 244.7L90.0 244.6L91.0 244.6L92.0 244.5L93.0 244.5L94.0 244.5L95.0 244.6L96.0 244.7L97.0 244.8L98.0 244.9L99.0 244.9L100.0 245.0L101.0 245.1L102.0 245.1L103.0 245.1L104.0 245.1L105.0 245.0L106.0 244.9L107.0 244.8L108.0 244.6L109.0 244.5L110.0 244.3L111.0 244.1L112.0 244.0L113.0 243.8L114.0 243.7L115.0 243.5L116.0 243.4L117.0 243.3L118.0 243.1L119.0 243.0L120.0 242.9L121.0 242.8L122.0 242.7L123.0 242.6L124.0 242.6L125.0 242.6L126.0 242.7L127.0 242.8L128.0 243.0L129.0 243.1L130.0 243.3L131.0 243.5L132.0 243.8L133.0 244.2L134.0 244.6L135.0 245.0L136.0 245.3L137.0 245.4L138.0 245.3L139.0 245.1L140.0 244.5L141.0 244.6L142.0 243.3L143.0 244.6L144.0 244.2L145.0 244.3L146.0 243.1L147.0 243.0L148.0 242.8L149.0 243.1L150.0 242.9L151.0 243.9L152.0 243.3L153.0 243.9L154.0 243.7L155.0 242.8L156.0 242.3L157.0 242.4L158.0 241.8L159.0 242.8L160.0 242.3L161.0 242.6L162.0 244.2L163.0 243.9L164.0 245.2L165.0 245.7L166.0 245.5L167.0 245.0L168.0 244.8L169.0 244.9L170.0 245.4L171.0 244.9L172.0 244.3L173.0 243.8L174.0 244.3L175.0 244.5L176.0 244.2L177.0 244.8L178.0 245.2L179.0 245.8L180.0 246.2L181.0 246.4L182.0 247.0L183.0 246.1L184.0 245.7L185.0 245.9L186.0 245.6L187.0 246.0L188.0 245.7L189.0 245.3L190.0 244.8L191.0 245.6L192.0 245.2L193.0 245.0L194.0 244.9L195.0 245.0L196.0 243.4L197.0 243.5L198.0 243.8L199.0 244.0L200.0 243.5L201.0 243.5L202.0 243.2L203.0 243.1L204.0 244.4L205.0 244.9L206.0 244.6L207.0 245.2L208.0 245.3L209.0 246.7L210.0 246.8L211.0 248.0L212.0 247.8L213.0 248.2L214.0 248.6L215.0 247.1L216.0 246.9L217.0 246.3L218.0 246.3L219.0 246.7L220.0 246.0L221.0 246.5L222.0 245.5L223.0 245.4L224.0 245.5L225.0 245.1L226.0 245.2L227.0 244.5L228.0 243.9L229.0 244.4L230.0 243.7L231.0 243.9L232.0 244.3L233.0 244.4L234.0 244.7L235.0 244.3L236.0 244.1L237.0 243.7L238.0 244.0L239.0 243.7L240.0 243.5L241.0 244.3L242.0 244.5L243.0 244.1L244.0 244.9L245.0 244.7L246.0 244.5L247.0 245.5L248.0 244.3L249.0 244.9L250.0 245.1L251.0 245.9L252.0 245.4L253.0 246.8L254.0 245.6L255.0 246.4L256.0 246.6L257.0 247.2L258.0 246.5L259.0 246.5L260.0 247.5L261.0 247.5L262.0 247.2L263.0 247.7L264.0 246.8L265.0 246.8L266.0 246.7L267.0 246.0L268.0 247.0L269.0 245.6L270.0 245.5L271.0 246.7L272.0 245.7L273.0 245.1L274.0 246.1L275.0 244.7L276.0 244.9L277.0 244.0L278.0 244.0L279.0 244.4L280.0 244.5L281.0 243.4L282.0 244.2L283.0 243.8L284.0 243.6L285.0 243.8L286.0 242.8L287.0 241.8L288.0 241.7L289.0 242.7L290.0 241.3L291.0 241.3L292.0 241.7L293.0 241.7L294.0 241.5L295.0 241.0L296.0 240.5L297.0 241.2L298.0 239.6L299.0 239.8L300.0 240.8L301.0 239.4L302.0 240.2L303.0 239.7L304.0 239.6L305.0 239.4L306.0 239.0"/>
<path class="k" d="M70.0 246.4L71.0 246.2L72.0 246.0L73.0 245.8L74.0 245.7L75.0 245.5L76.0 245.3L77.0 245.1L78.0 245.0L79.0 244.8L80.0 244.7L81.0 244.5L82.0 244.4L83.0 244.3L84.0 244.2L85.0 244.1L86.0 244.0L87.0 243.9L88.0 243.8L89.0 243.7L90.0 243.7L91.0 243.6L92.0 243.6L93.0 243.6L94.0 243.6L95.0 243.6L96.0 243.6L97.0 243.7L98.0 243.7L99.0 243.8L100.0 243.8L101.0 243.9L102.0 243.9L103.0 244.0L104.0 244.0L105.0 244.1L106.0 244.1L107.0 244.2L108.0 244.3L109.0 244.3L110.0 244.4L111.0 244.4L112.0 244.5L113.0 244.5L114.0 244.5L115.0 244.5L116.0 244.4L117.0 244.4L118.0 244.3L119.0 244.2L120.0 244.0L121.0 243.9L122.0 243.8L123.0 243.6L124.0 243.5L125.0 243.3L126.0 243.2L127.0 243.0L128.0 242.8L129.0 242.7L130.0 242.6L131.0 242.5L132.0 242.5L133.0 242.6L134.0 242.7L135.0 242.8L136.0 243.0L137.0 243.1L138.0 243.2L139.0 243.4L140.0 242.8L141.0 243.8L142.0 244.5L143.0 243.6L144.0 244.1L145.0 243.9L146.0 244.6L147.0 244.7L148.0 244.6L149.0 245.2L150.0 244.8L151.0 244.2L152.0 244.2L153.0 244.6L154.0 244.6L155.0 243.7L156.0 244.6L157.0 243.9L158.0 244.3L159.0 243.1L160.0 243.4L161.0 242.8L162.0 243.5L163.0 243.2L164.0 243.5L165.0 243.4L166.0 244.7L167.0 244.6L168.0 244.5L169.0 245.1L170.0 244.8L171.0 246.2L172.0 246.4L173.0 246.1L174.0 245.6L175.0 247.1L176.0 246.1L177.0 246.0L178.0 246.7L179.0 246.8L180.0 247.7L181.0 246.7L182.0 246.6L183.0 247.3L184.0 246.6L185.0 247.6L186.0 247.3L187.0 247.8L188.0 247.8L189.0 246.6L190.0 247.4L191.0 246.8L192.0 247.4L193.0 245.9L194.0 246.3L195.0 247.0L196.0 245.4L197.0 245.7L198.0 245.5L199.0 245.5L200.0 246.4L201.0 245.0L202.0 246.0L203.0 245.0L204.0 246.0L205.0 244.8L206.0 244.8L207.0 246.3L208.0 244.8L209.0 245.9L210.0 245.3L211.0 246.0L212.0 245.6L213.0 246.2L214.0 246.3L215.0 246.4L216.0 245.4L217.0 246.5L218.0 245.5L219.0 246.0L220.0 246.3L221.0 246.2L222.0 245.8L223.0 245.7L224.0 245.1L225.0 246.2L226.0 245.7L227.0 245.9L228.0 246.2L229.0 245.8L230.0 245.1L231.0 245.4L232.0 244.9L233.0 245.0L234.0 246.0L235.0 245.7L236.0 245.0L237.0 245.6L238.0 245.6L239.0 246.3L240.0 246.5L241.0 245.9L242.0 245.6L243.0 246.0L244.0 246.8L245.0 246.7L246.0 246.3L247.0 247.6L248.0 247.6L249.0 247.3L250.0 247.0L251.0 247.7L252.0 248.3L253.0 247.6L254.0 247.9L255.0 248.0L256.0 248.1L257.0 249.1L258.0 249.4L259.0 249.3L260.0 248.8L261.0 248.8L262.0 248.2L263.0 249.4L264.0 248.8L265.0 248.1L266.0 247.8L267.0 248.0L268.0 248.0L269.0 248.4L270.0 247.3L271.0 248.3L272.0 247.3L273.0 247.0L274.0 247.6L275.0 246.7L276.0 247.9L277.0 247.3L278.0 247.2L279.0 246.8L280.0 247.1L281.0 246.9L282.0 246.3L283.0 245.5L284.0 246.1L285.0 246.5L286.0 245.1L287.0 245.7L288.0 244.5L289.0 245.5L290.0 244.9L291.0 244.8L292.0 244.6L293.0 244.4L294.0 244.5L295.0 244.3L296.0 243.6L297.0 244.4L298.0 243.1L299.0 243.9L300.0 243.3L301.0 242.6L302.0 242.8L303.0 243.0L304.0 242.3L305.0 242.9L306.0 242.6"/>
<path class="k" d="M70.0 257.5L71.0 257.3L72.0 257.0L73.0 256.8L74.0 256.5L75.0 256.3L76.0 256.0L77.0 255.8L78.0 255.5L79.0 255.3L80.0 255.0L81.0 254.8L82.0 254.5L83.0 254.2L84.0 254.0L85.0 253.8L86.0 253.6L87.0 253.4L88.0 253.3L89.0 253.2L90.0 253.1L91.0 253.1L92.0 253.1L93.0 253.2L94.0 253.2L95.0 253.3L96.0 253.4L97.0 253.5L98.0 253.6L99.0 253.7L100.0 253.9L101.0 254.0L102.0 254.2L103.0 254.5L104.0 254.7L105.0 255.0L106.0 255.3L107.0 255.5L108.0 255.6L109.0 255.7L110.0 255.6L111.0 255.5L112.0 255.3L113.0 255.0L114.0 254.7L115.0 254.3L116.0 254.0L117.0 253.5L118.0 253.0L119.0 252.5L120.0 251.9L121.0 251.3L122.0 250.8L123.0 250.4L124.0 250.1L125.0 250.0L126.0 250.1L127.0 250.3L128.0 250.5L129.0 250.8L130.0 251.0L131.0 251.0L132.0 250.8L133.0 250.2L134.0 249.2L135.0 248.2L136.0 247.2L137.0 246.1L138.0 245.0L139.0 244.3L140.0 243.5L141.0 243.7L142.0 243.7L143.0 243.6L144.0 243.9L145.0 243.9L146.0 244.1L147.0 243.7L148.0 243.7L149.0 244.0L150.0 244.9L151.0 243.7L152.0 244.3L153.0 244.3L154.0 244.5L155.0 244.3L156.0 244.9L157.0 244.9L158.0 244.3L159.0 243.6L160.0 244.6L161.0 244.5L162.0 243.7L163.0 244.2L164.0 244.2L165.0 244.2L166.0 242.9L167.0 242.8L168.0 243.6L169.0 242.7L170.0 242.6L171.0 242.3L172.0 243.5L173.0 242.7L174.0 242.6L175.0 243.4L176.0 242.7L177.0 243.9L178.0 242.8L179.0 244.2L180.0 242.9L181.0 242.9L182.0 243.3L183.0 243.7L184.0 243.2L185.0 243.4L186.0 242.6L187.0 243.4L188.0 242.3L189.0 242.5L190.0 243.0L191.0 242.2L192.0 241.5L193.0 242.5L194.0 241.3L195.0 241.7L196.0 241.4L197.0 241.5L198.0 240.8L199.0 242.0L200.0 241.7L201.0 241.2L202.0 240.7L203.0 240.8L204.0 240.6L205.0 240.9L206.0 241.1L207.0 241.6L208.0 240.7L209.0 242.1L210.0 242.2L211.0 241.7L212.0 241.8L213.0 241.2L214.0 241.5L215.0 241.2L216.0 241.4L217.0 242.3L218.0 241.5L219.0 242.3L220.0 242.4L221.0 241.8L222.0 242.2L223.0 242.0L224.0 242.0L225.0 241.9L226.0 241.9L227.0 241.1L228.0 242.4L229.0 241.1L230.0 240.9L231.0 241.1L232.0 242.0L233.0 242.3L234.0 242.3L235.0 240.9L236.0 241.4L237.0 242.0L238.0 241.1L239.0 241.7L240.0 242.1L241.0 241.7L242.0 241.9L243.0 242.3L244.0 241.9L245.0 243.3L246.0 242.8L247.0 242.4L248.0 243.1L249.0 243.0L250.0 243.6L251.0 242.8L252.0 243.4L253.0 243.1L254.0 244.1L255.0 244.1L256.0 244.7L257.0 244.6L258.0 244.5L259.0 244.8L260.0 244.5L261.0 244.9L262.0 244.8L263.0 245.0L264.0 245.0L265.0 244.4L266.0 244.7L267.0 245.4L268.0 244.6L269.0 245.0L270.0 245.6L271.0 245.0L272.0 245.4L273.0 244.5L274.0 243.8L275.0 244.3L276.0 244.6L277.0 243.9L278.0 243.5L279.0 244.0L280.0 243.0L281.0 243.7L282.0 243.1L283.0 242.0L284.0 242.5L285.0 242.3L286.0 242.0L287.0 241.9L288.0 241.2L289.0 241.6L290.0 241.1L291.0 241.2L292.0 240.9L293.0 240.4L294.0 240.1L295.0 239.4L296.0 239.0L297.0 239.4L298.0 239.2L299.0 238.8L300.0 238.8L301.0 239.1L302.0 238.9L303.0 238.8L304.0 237.3L305.0 237.3L306.0 237.5"/>
<path class="k" d="M70.0 303.2L70.8 303.1L71.6 303.0L72.4 302.9L73.2 302.8L74.0 302.7L74.8 302.5L75.6 302.3L76.4 302.0L77.2 301.6L78.0 301.2L78.8 300.7L79.6 300.3L80.4 299.9L81.2 299.5L82.0 299.1L82.8 298.7L83.6 298.3L84.4 297.9L85.2 297.6L86.0 297.3L86.8 297.1L87.6 297.0L88.4 296.9L89.2 296.9L90.0 296.9L90.8 297.0L91.6 297.0L92.4 297.1L93.2 297.2L94.0 297.4L94.8 297.5L95.6 297.7L96.4 297.9L97.2 298.0L98.0 298.0L98.8 297.8L99.6 297.4L100.4 297.0L101.2 296.7L102.0 296.8L102.8 297.2L103.6 297.8L104.4 298.3L105.2 298.2L106.0 298.5L106.8 298.3L107.6 298.2L108.4 296.8L109.2 296.7L110.0 296.2L110.8 296.2L111.6 296.5L112.4 296.5L113.2 296.2L114.0 296.0L114.8 294.4L115.6 294.5L116.4 295.4L117.2 294.5L118.0 293.6L118.8 294.2L119.6 294.6L120.4 293.6L121.2 294.2L122.0 294.7L122.8 296.8L123.6 296.1L124.4 296.2L125.2 295.5L126.0 294.8L126.8 293.9L127.6 293.1L128.4 293.1L129.2 291.9L130.0 291.1L130.8 290.7L131.6 289.7L132.4 290.0L133.2 288.9L134.0 289.1L134.8 289.0L135.6 290.3L136.4 291.2L137.2 292.3L138.0 293.5L138.8 292.0L139.6 289.3L140.4 288.8L141.2 289.4L142.0 291.1L142.8 293.6L143.6 295.2L144.4 294.2L145.2 293.9L146.0 293.7L146.8 293.6L147.6 292.4L148.4 293.7L149.2 293.7L150.0 293.4L150.8 293.6L151.6 293.7L152.4 293.4L153.2 292.3L154.0 291.6L154.8 291.8L155.6 292.5L156.4 295.8L157.2 298.1L158.0 293.8L158.8 288.8L159.6 284.8L160.4 283.5L161.2 285.3L162.0 289.3L162.8 292.6L163.6 298.8L164.4 297.9L165.2 294.0L166.0 291.6L166.8 290.8L167.6 289.6L168.4 289.9L169.2 290.0L170.0 289.9L170.8 290.4L171.6 292.5L172.4 293.7L173.2 294.7L174.0 293.4L174.8 293.5L175.6 292.8L176.4 292.0L177.2 293.8L178.0 295.7L178.8 297.4L179.6 298.3L180.4 298.1L181.2 297.5L182.0 295.6L182.8 294.6L183.6 295.3L184.4 294.8L185.2 296.5L186.0 296.4L186.8 298.3L187.6 297.0L188.4 297.4L189.2 297.7L190.0 297.5L190.8 297.6L191.6 297.8L192.4 298.4L193.2 297.2L194.0 297.9L194.8 297.2L195.6 294.9L196.4 294.8L197.2 294.6L198.0 294.4L198.8 294.9L199.6 294.2L200.4 295.2L201.2 294.6L202.0 294.2L202.8 294.5L203.6 292.9L204.4 292.8L205.2 293.6L206.0 293.4L206.8 293.5L207.6 294.2L208.4 294.8L209.2 294.1L210.0 294.6L210.8 293.8L211.6 294.8L212.4 293.8L213.2 294.2L214.0 294.4L214.8 294.1L215.6 295.0L216.4 296.0L217.2 297.1L218.0 298.0L218.8 300.8L219.6 299.9L220.4 299.5L221.2 300.8L222.0 300.9L222.8 301.7L223.6 300.4L224.4 302.0L225.2 303.2L226.0 304.0L226.8 304.5L227.6 305.9L228.4 302.7L229.2 302.2L230.0 300.8L230.8 301.1L231.6 300.8L232.4 301.4L233.2 302.2L234.0 304.0L234.8 303.1L235.6 305.5L236.4 304.1L237.2 304.0L238.0 304.3L238.8 305.0L239.6 304.1L240.4 304.7L241.2 303.0L242.0 303.6L242.8 303.3L243.6 302.7L244.4 301.5L245.2 299.3L246.0 299.3L246.8 299.0L247.6 299.3L248.4 301.0L249.2 303.3L250.0 306.7L250.8 306.3L251.6 307.9L252.4 307.6L253.2 307.8L254.0 310.5L254.8 309.0L255.6 312.8L256.4 308.4L257.2 312.7L258.0 311.0L258.8 315.8L259.6 313.2L260.4 313.8L261.2 316.4L262.0 318.3L262.8 314.8L263.6 317.0L264.4 319.5L265.2 318.4L266.0 316.5L266.8 320.3L267.6 319.9L268.4 317.8L269.2 316.9L270.0 314.4L270.8 317.6L271.6 316.2L272.4 314.3L273.2 313.9L274.0 311.8L274.8 310.1L275.6 311.2L276.4 313.1L277.2 310.7L278.0 311.1L278.8 309.2L279.6 311.1L280.4 311.1L281.2 309.2L282.0 311.4L282.8 310.0L283.6 308.8L284.4 308.1L285.2 309.3L286.0 308.7L286.8 309.3L287.6 310.3L288.4 310.1L289.2 308.5L290.0 308.3L290.8 305.8L291.6 305.4L292.4 308.6L293.2 307.2L294.0 308.4L294.8 305.8L295.6 306.5L296.4 308.0L297.2 304.8L298.0 303.9L298.8 307.7L299.6 305.2L300.4 304.8L301.2 307.2L302.0 303.6L302.8 306.2L303.6 303.2L304.4 305.2L305.2 305.9L306.0 302.1"/>
<path class="k" d="M395.0 124.9L396.2 124.3L397.4 123.7L398.6 123.1L399.8 122.5L401.0 122.0L402.2 121.5L403.4 121.1L404.6 120.6L405.8 120.3L407.0 119.9L408.2 119.5L409.4 119.2L410.6 118.8L411.8 118.5L413.0 118.1L414.2 117.8L415.4 117.5L416.6 117.3L417.8 117.3L419.0 117.5L420.2 118.1L421.4 119.0L422.6 120.5L423.8 121.8L425.0 122.4L426.2 122.0L427.4 121.1L428.6 120.4L429.8 119.8L431.0 119.8L432.2 120.8L433.4 122.1L434.6 122.9L435.8 121.9L437.0 118.9L438.2 116.8L439.4 114.8L440.6 113.3L441.8 112.7L443.0 113.3L444.2 114.0L445.4 113.9L446.6 112.7L447.8 111.0L449.0 109.6L450.2 108.8L451.4 108.3L452.6 107.8L452.8 107.7L450.0 107.3L450.7 110.0L451.4 107.2L452.1 106.9L452.8 106.9L453.5 108.4L454.2 109.0L454.9 107.6L455.6 105.4L456.3 104.0L457.0 104.1L457.7 103.2L458.4 103.8L459.1 103.2L459.8 101.7L460.5 102.4L461.2 105.6L461.9 105.1L462.6 102.7L463.3 106.1L464.0 103.9L464.7 103.3L465.4 104.8L466.1 104.0L466.8 102.5L467.5 102.6L468.2 103.6L468.9 105.2L469.6 105.0L470.3 102.5L471.0 102.4L471.7 104.0L472.4 103.8L473.1 106.1L473.8 105.5L474.5 103.6L475.2 105.0L475.9 105.9L476.6 105.6L477.3 104.8L478.0 106.7L478.7 104.8L479.4 107.8L480.1 105.0L480.8 105.4L481.5 106.6L482.2 104.4L482.9 106.7L483.6 105.1L484.3 104.9L485.0 103.4L485.7 103.6L486.4 104.2L487.1 105.1L487.8 101.9L488.5 104.6L489.2 104.6L489.9 100.6L490.6 102.7L491.3 100.6L492.0 99.7L492.7 103.3L493.4 99.8L494.1 100.3L494.8 102.0L495.5 102.3L496.2 104.4L496.9 105.4L497.6 103.9L498.3 103.0L499.0 106.5L499.7 103.9L500.4 105.1L501.1 104.8L501.8 107.8L502.5 105.4L503.2 108.4L503.9 107.4L504.6 107.8L505.3 108.5L506.0 106.8L506.7 106.2L507.4 108.8L508.1 108.4L508.8 107.6L509.5 106.8L510.2 106.9L510.9 108.4L511.6 109.6L512.3 108.2L513.0 107.1L513.7 109.3L514.4 108.5L515.1 111.0L515.8 111.0L516.5 110.4L517.2 108.7L517.9 111.6L518.6 110.9L519.3 112.4L520.0 112.8L520.7 110.1L521.4 111.0L522.1 112.2L522.8 110.3L523.5 110.7L524.2 113.2L524.9 110.4L525.6 111.4L526.3 111.0L527.0 114.5L527.7 113.8L528.4 114.3L529.1 115.0L529.8 112.7L530.5 115.7L531.2 114.0L531.9 114.5L532.6 113.5L533.3 114.7L534.0 115.6L534.7 118.2L535.4 117.5L536.1 117.3L536.8 119.4L537.5 118.8L538.2 121.8L538.9 120.4L539.6 120.6L540.3 122.1L541.0 123.7L541.7 124.7L542.4 123.8L543.1 125.7L543.8 126.9L544.5 125.5L545.2 126.3L545.9 127.3L546.6 129.3L547.3 126.8L548.0 127.8L548.7 130.3L549.4 128.3L550.1 125.8L550.8 127.8L551.5 129.5L552.2 127.1L552.9 128.1L553.6 128.1L554.3 125.5L555.0 129.1L555.7 125.8L556.4 126.4L557.1 129.4L557.8 128.6L558.5 130.5L559.2 129.5L559.9 130.4L560.6 130.8L561.3 132.1L562.0 133.2L562.7 134.2L563.4 132.1L564.1 135.2L564.8 131.6L565.5 135.0L566.2 135.0L566.9 133.0L567.6 134.4L568.3 136.7L569.0 134.1L569.7 136.2L570.4 137.7L571.1 136.1L571.8 137.9L572.5 136.1L573.2 136.8L573.9 136.9L574.6 139.1L575.3 138.9L576.0 141.0L576.7 141.0L577.4 141.5L578.1 138.5L578.8 140.9L579.5 143.3L580.2 141.5L580.9 142.1L581.6 143.1L582.3 140.5L583.0 144.3L583.7 141.8L584.4 142.6L585.1 144.9L585.8 141.0L586.5 144.2L587.2 141.7L587.9 144.7L588.6 142.9L589.3 145.0L590.0 144.1L590.7 145.1L591.4 146.3L592.1 145.8L592.8 146.1L593.5 143.9L594.2 146.5L594.9 145.9L595.6 143.7L596.3 145.0L597.0 144.9L597.7 144.7L598.4 145.6L599.1 143.0L599.8 146.2L600.5 146.3L601.2 142.3L601.9 142.1L602.6 143.8L603.3 143.2L604.0 143.2L604.7 143.1L605.4 142.2L606.1 142.7L606.8 142.3L607.5 142.0L608.2 143.9L608.9 142.8L609.6 144.3L610.3 143.5L611.0 143.1L611.7 140.3L612.4 141.8L613.1 140.4L613.8 138.5L614.5 138.6L615.2 137.4L615.9 138.6L616.6 139.1L617.3 136.4L618.0 138.6L618.7 136.6L619.4 135.6L620.1 135.1L620.8 137.3L621.5 135.3L622.2 136.0L622.9 135.3L623.6 136.3L624.3 136.0L625.0 136.2L625.7 135.2L626.4 133.5L627.1 133.1L627.8 131.8L628.5 130.3L629.2 130.5L629.9 130.6L630.6 128.1"/>
<path class="k" d="M395.0 127.5L396.2 127.4L397.4 127.3L398.6 127.2L399.8 127.1L401.0 126.9L402.2 126.7L403.4 126.5L404.6 126.2L405.8 125.9L407.0 125.6L408.2 125.3L409.4 124.9L410.6 124.4L411.8 123.9L413.0 123.3L414.2 122.6L415.4 121.9L416.6 120.9L417.8 119.5L419.0 118.2L420.2 117.8L421.4 118.2L422.6 118.9L423.8 119.3L425.0 119.6L426.2 119.8L427.4 120.1L428.6 120.4L429.8 120.8L431.0 121.3L432.2 121.8L433.4 122.3L434.6 122.9L435.8 123.5L437.0 124.1L438.2 124.7L439.4 125.2L440.6 125.8L441.8 126.2L443.0 126.0L444.2 125.3L445.4 124.2L446.6 122.7L447.8 120.3L449.0 117.9L450.2 116.2L451.4 114.6L452.6 113.1L452.8 112.8L450.0 112.7L450.7 109.6L451.4 111.9L452.1 109.7L452.8 110.6L453.5 111.7L454.2 110.7L454.9 109.6L455.6 110.2L456.3 106.3L457.0 107.6L457.7 109.1L458.4 108.2L459.1 106.4L459.8 105.6L460.5 106.3L461.2 106.8L461.9 105.5L462.6 109.3L463.3 107.9L464.0 107.1L464.7 105.3L465.4 105.6L466.1 105.7L466.8 104.2L467.5 105.2L468.2 105.5L468.9 107.2L469.6 108.2L470.3 104.4L471.0 105.2L471.7 108.5L472.4 105.0L473.1 106.3L473.8 107.9L474.5 108.0L475.2 106.8L475.9 109.4L476.6 109.4L477.3 106.5L478.0 109.7L478.7 108.1L479.4 108.4L480.1 108.7L480.8 108.8L481.5 109.4L482.2 106.5L482.9 106.4L483.6 106.3L484.3 106.1L485.0 108.6L485.7 108.7L486.4 106.2L487.1 107.4L487.8 107.6L488.5 107.7L489.2 107.0L489.9 105.9L490.6 106.6L491.3 104.3L492.0 105.2L492.7 103.5L493.4 103.9L494.1 103.7L494.8 104.7L495.5 103.1L496.2 105.6L496.9 106.5L497.6 108.9L498.3 108.5L499.0 106.2L499.7 107.4L500.4 109.1L501.1 106.3L501.8 109.9L502.5 106.5L503.2 109.4L503.9 109.1L504.6 111.0L505.3 108.5L506.0 108.4L506.7 108.0L507.4 108.6L508.1 108.9L508.8 110.3L509.5 109.2L510.2 108.9L510.9 112.2L511.6 108.9L512.3 113.0L513.0 110.1L513.7 112.5L514.4 112.6L515.1 113.8L515.8 113.3L516.5 110.1L517.2 113.7L517.9 114.9L518.6 114.3L519.3 113.4L520.0 111.5L520.7 111.7L521.4 112.9L522.1 115.1L522.8 112.8L523.5 114.7L524.2 115.7L524.9 115.0L525.6 115.9L526.3 116.4L527.0 116.2L527.7 113.3L528.4 116.5L529.1 116.5L529.8 117.9L530.5 115.8L531.2 115.7L531.9 115.6L532.6 117.7L533.3 116.8L534.0 119.9L534.7 119.9L535.4 119.7L536.1 120.3L536.8 120.0L537.5 120.9L538.2 125.0L538.9 122.6L539.6 125.0L540.3 125.9L541.0 127.4L541.7 125.6L542.4 127.4L543.1 127.0L543.8 127.6L544.5 129.4L545.2 130.6L545.9 130.3L546.6 131.1L547.3 132.4L548.0 130.6L548.7 134.1L549.4 130.3L550.1 131.9L550.8 133.2L551.5 130.0L552.2 130.5L552.9 129.8L553.6 130.4L554.3 132.7L555.0 133.8L555.7 135.2L556.4 133.6L557.1 135.5L557.8 133.9L558.5 134.7L559.2 137.0L559.9 133.3L560.6 137.6L561.3 135.3L562.0 136.4L562.7 139.0L563.4 137.2L564.1 139.8L564.8 139.1L565.5 137.2L566.2 141.3L566.9 137.5L567.6 140.8L568.3 139.5L569.0 142.7L569.7 139.8L570.4 139.8L571.1 140.5L571.8 142.8L572.5 141.7L573.2 142.9L573.9 144.5L574.6 143.9L575.3 144.7L576.0 142.5L576.7 142.0L577.4 144.1L578.1 142.9L578.8 145.7L579.5 145.0L580.2 145.4L580.9 143.9L581.6 144.9L582.3 146.9L583.0 146.3L583.7 145.1L584.4 146.2L585.1 146.2L585.8 147.8L586.5 147.1L587.2 144.9L587.9 145.0L588.6 145.7L589.3 148.5L590.0 146.7L590.7 145.2L591.4 148.2L592.1 147.6L592.8 146.9L593.5 146.4L594.2 149.4L594.9 148.7L595.6 150.5L596.3 147.3L597.0 148.0L597.7 150.1L598.4 149.7L599.1 147.4L599.8 147.2L600.5 149.1L601.2 147.5L601.9 145.5L602.6 147.3L603.3 149.1L604.0 147.0L604.7 146.3L605.4 146.0L606.1 144.4L606.8 147.8L607.5 144.5L608.2 145.6L608.9 145.7L609.6 144.7L610.3 143.5L611.0 143.3L611.7 146.7L612.4 146.7L613.1 144.7L613.8 146.4L614.5 145.6L615.2 144.5L615.9 142.0L616.6 141.8L617.3 140.7L618.0 143.5L618.7 140.1L619.4 143.8L620.1 142.4L620.8 143.0L621.5 141.0L622.2 142.5L622.9 140.4L623.6 139.6L624.3 141.8L625.0 137.8L625.7 140.7L626.4 139.2L627.1 140.3L627.8 139.8L628.5 135.9L629.2 136.9L629.9 136.3L630.6 135.6"/>
<path class="k" d="M395.0 138.3L396.2 138.1L397.4 137.9L398.6 137.7L399.8 137.4L401.0 137.2L402.2 137.0L403.4 136.7L404.6 136.5L405.8 136.2L407.0 136.0L408.2 135.8L409.4 135.8L410.6 136.0L411.8 136.4L413.0 136.9L414.2 137.6L415.4 138.5L416.6 139.8L417.8 140.7L419.0 140.8L420.2 140.0L421.4 138.9L422.6 137.9L423.8 136.8L425.0 135.7L426.2 134.8L427.4 134.6L428.6 135.5L429.8 137.3L431.0 138.3L432.2 136.1L433.4 132.3L434.6 130.6L435.8 129.5L437.0 128.5L438.2 127.6L439.4 126.9L440.6 126.1L441.8 125.2L443.0 124.0L444.2 122.7L445.4 121.3L446.6 119.5L447.8 117.8L449.0 116.5L450.2 115.3L451.4 114.2L451.5 114.1L450.0 112.2L450.7 113.7L451.4 113.1L452.1 112.3L452.8 110.0L453.5 111.4L454.2 113.5L454.9 111.5L455.6 110.5L456.3 111.4L457.0 109.0L457.7 109.5L458.4 111.2L459.1 109.6L459.8 109.3L460.5 111.9L461.2 109.9L461.9 109.6L462.6 108.0L463.3 110.1L464.0 109.4L464.7 108.2L465.4 110.8L466.1 109.1L466.8 108.5L467.5 109.9L468.2 107.9L468.9 110.5L469.6 109.2L470.3 108.0L471.0 108.6L471.7 111.1L472.4 109.8L473.1 107.4L473.8 111.4L474.5 109.7L475.2 109.5L475.9 110.6L476.6 109.6L477.3 111.9L478.0 111.8L478.7 110.9L479.4 110.9L480.1 110.1L480.8 111.5L481.5 112.0L482.2 108.4L482.9 110.8L483.6 111.4L484.3 112.0L485.0 110.9L485.7 111.5L486.4 109.9L487.1 110.7L487.8 110.0L488.5 107.6L489.2 109.4L489.9 108.8L490.6 108.2L491.3 106.7L492.0 109.6L492.7 108.8L493.4 108.7L494.1 106.3L494.8 106.3L495.5 106.9L496.2 108.2L496.9 108.5L497.6 110.8L498.3 109.6L499.0 112.2L499.7 108.1L500.4 109.6L501.1 111.7L501.8 110.1L502.5 110.8L503.2 111.6L503.9 110.9L504.6 109.0L505.3 108.7L506.0 113.0L506.7 110.6L507.4 111.3L508.1 109.7L508.8 111.6L509.5 111.2L510.2 110.6L510.9 113.0L511.6 113.2L512.3 113.1L513.0 114.3L513.7 115.1L514.4 114.8L515.1 111.6L515.8 113.9L516.5 114.8L517.2 116.0L517.9 114.7L518.6 114.6L519.3 114.2L520.0 114.1L520.7 117.1L521.4 113.7L522.1 117.1L522.8 118.3L523.5 114.5L524.2 115.2L524.9 115.9L525.6 118.4L526.3 118.6L527.0 119.3L527.7 118.2L528.4 118.2L529.1 118.4L529.8 119.1L530.5 120.2L531.2 118.6L531.9 121.7L532.6 118.9L533.3 122.8L534.0 120.9L534.7 119.8L535.4 120.9L536.1 124.2L536.8 126.0L537.5 123.2L538.2 123.7L538.9 125.9L539.6 128.6L540.3 126.8L541.0 128.5L541.7 128.7L542.4 128.3L543.1 129.6L543.8 131.4L544.5 133.4L545.2 134.4L545.9 134.8L546.6 136.5L547.3 135.8L548.0 136.7L548.7 137.0L549.4 135.4L550.1 138.4L550.8 134.7L551.5 138.1L552.2 136.3L552.9 135.3L553.6 136.0L554.3 137.3L555.0 135.9L555.7 135.9L556.4 137.0L557.1 140.5L557.8 140.0L558.5 138.5L559.2 140.4L559.9 138.7L560.6 138.7L561.3 140.4L562.0 140.4L562.7 143.5L563.4 140.0L564.1 143.4L564.8 140.8L565.5 144.9L566.2 144.4L566.9 145.7L567.6 144.7L568.3 142.6L569.0 146.5L569.7 146.7L570.4 145.9L571.1 146.3L571.8 146.3L572.5 145.5L573.2 145.0L573.9 145.1L574.6 146.8L575.3 145.8L576.0 147.5L576.7 146.2L577.4 145.4L578.1 149.1L578.8 148.3L579.5 148.1L580.2 149.0L580.9 150.2L581.6 148.6L582.3 147.8L583.0 150.9L583.7 147.1L584.4 148.9L585.1 149.6L585.8 148.0L586.5 148.5L587.2 151.6L587.9 151.4L588.6 148.4L589.3 151.1L590.0 151.9L590.7 150.6L591.4 151.9L592.1 149.1L592.8 150.0L593.5 149.3L594.2 151.3L594.9 152.2L595.6 150.8L596.3 150.8L597.0 152.6L597.7 153.5L598.4 153.6L599.1 152.0L599.8 149.7L600.5 151.3L601.2 149.5L601.9 152.2L602.6 148.9L603.3 152.0L604.0 148.2L604.7 149.2L605.4 149.9L606.1 149.6L606.8 148.4L607.5 146.9L608.2 148.4L608.9 149.6L609.6 148.5L610.3 150.6L611.0 149.1L611.7 148.1L612.4 146.1L613.1 146.3L613.8 146.9L614.5 149.3L615.2 149.2L615.9 147.0L616.6 145.8L617.3 145.4L618.0 146.7L618.7 146.7L619.4 145.0L620.1 146.9L620.8 145.3L621.5 144.1L622.2 143.5L622.9 145.8L623.6 145.8L624.3 146.5L625.0 143.7L625.7 143.0L626.4 145.3L627.1 142.4L627.8 142.5L628.5 143.6L629.2 140.8L629.9 140.9L630.6 138.9"/>
<path class="k" d="M395.0 148.6L396.2 148.2L397.4 147.7L398.6 147.3L399.8 146.8L401.0 146.3L402.2 145.8L403.4 145.2L404.6 144.6L405.8 144.0L407.0 143.4L408.2 142.8L409.4 142.1L410.6 141.5L411.8 140.9L413.0 140.3L414.2 139.7L415.4 139.1L416.6 138.5L417.8 137.9L419.0 137.3L420.2 136.9L421.4 136.5L422.6 136.1L423.8 135.8L425.0 135.4L426.2 135.0L427.4 134.6L428.6 134.2L429.8 133.8L431.0 133.2L432.2 132.6L433.4 131.8L434.6 130.9L435.8 130.0L437.0 129.1L438.2 128.0L439.4 126.8L440.6 125.3L441.8 123.9L443.0 122.6L444.2 121.4L445.4 120.3L446.6 119.0L447.8 117.4L449.0 115.8L450.2 114.1L450.2 114.1L450.0 113.9L450.7 112.9L451.4 115.1L452.1 112.0L452.8 112.7L453.5 112.7L454.2 112.2L454.9 111.0L455.6 112.9L456.3 111.2L457.0 113.3L457.7 110.9L458.4 111.8L459.1 112.3L459.8 114.3L460.5 110.7L461.2 110.8L461.9 113.5L462.6 110.0L463.3 113.8L464.0 112.0L464.7 110.4L465.4 112.7L466.1 112.1L466.8 110.0L467.5 111.9L468.2 109.2L468.9 110.8L469.6 110.4L470.3 111.7L471.0 109.8L471.7 110.5L472.4 112.5L473.1 111.6L473.8 112.7L474.5 112.8L475.2 113.2L475.9 114.5L476.6 113.1L477.3 114.2L478.0 113.0L478.7 111.3L479.4 114.3L480.1 111.7L480.8 114.3L481.5 114.6L482.2 113.3L482.9 111.0L483.6 111.5L484.3 111.6L485.0 110.0L485.7 111.6L486.4 111.9L487.1 110.7L487.8 109.9L488.5 109.3L489.2 111.5L489.9 108.6L490.6 110.0L491.3 109.3L492.0 110.4L492.7 111.1L493.4 112.0L494.1 110.9L494.8 112.8L495.5 113.0L496.2 111.9L496.9 110.5L497.6 112.0L498.3 110.9L499.0 114.3L499.7 111.8L500.4 113.0L501.1 109.7L501.8 110.0L502.5 110.1L503.2 110.3L503.9 110.9L504.6 110.8L505.3 111.7L506.0 111.9L506.7 110.8L507.4 110.8L508.1 112.3L508.8 111.4L509.5 113.1L510.2 111.4L510.9 113.9L511.6 112.1L512.3 115.1L513.0 114.0L513.7 116.8L514.4 113.8L515.1 114.9L515.8 116.4L516.5 114.9L517.2 115.2L517.9 116.8L518.6 118.5L519.3 118.4L520.0 116.6L520.7 118.2L521.4 118.3L522.1 117.2L522.8 116.8L523.5 116.4L524.2 120.2L524.9 116.8L525.6 119.1L526.3 119.4L527.0 117.9L527.7 120.4L528.4 122.0L529.1 121.7L529.8 120.4L530.5 119.6L531.2 123.7L531.9 122.1L532.6 123.0L533.3 124.1L534.0 122.7L534.7 122.1L535.4 123.2L536.1 126.4L536.8 125.8L537.5 128.9L538.2 129.2L538.9 131.0L539.6 130.5L540.3 129.7L541.0 132.6L541.7 130.1L542.4 133.1L543.1 135.4L543.8 134.7L544.5 133.8L545.2 136.1L545.9 137.1L546.6 137.1L547.3 140.1L548.0 138.4L548.7 138.3L549.4 139.6L550.1 138.5L550.8 139.2L551.5 139.7L552.2 142.3L552.9 138.8L553.6 139.5L554.3 139.9L555.0 143.7L555.7 143.6L556.4 140.9L557.1 142.9L557.8 141.2L558.5 142.5L559.2 143.0L559.9 144.2L560.6 146.3L561.3 146.1L562.0 145.2L562.7 146.7L563.4 145.6L564.1 147.1L564.8 147.6L565.5 145.6L566.2 148.5L566.9 147.7L567.6 147.6L568.3 147.4L569.0 146.9L569.7 148.3L570.4 146.8L571.1 149.3L571.8 150.6L572.5 150.3L573.2 149.7L573.9 149.4L574.6 150.4L575.3 148.1L576.0 148.0L576.7 151.7L577.4 149.7L578.1 151.2L578.8 150.3L579.5 150.2L580.2 152.1L580.9 150.4L581.6 152.3L582.3 152.8L583.0 150.1L583.7 153.7L584.4 149.8L585.1 151.5L585.8 151.9L586.5 153.5L587.2 150.7L587.9 152.5L588.6 151.8L589.3 154.3L590.0 150.9L590.7 151.6L591.4 154.2L592.1 152.3L592.8 155.3L593.5 151.7L594.2 153.4L594.9 152.4L595.6 154.6L596.3 156.5L597.0 153.9L597.7 155.6L598.4 154.1L599.1 154.8L599.8 155.0L600.5 153.3L601.2 154.9L601.9 153.8L602.6 155.2L603.3 152.1L604.0 154.8L604.7 151.1L605.4 150.1L606.1 152.6L606.8 152.7L607.5 151.6L608.2 149.6L608.9 153.8L609.6 150.0L610.3 153.1L611.0 153.2L611.7 150.1L612.4 152.9L613.1 151.1L613.8 152.9L614.5 152.7L615.2 152.0L615.9 149.7L616.6 150.8L617.3 152.4L618.0 149.3L618.7 149.4L619.4 150.5L620.1 147.6L620.8 148.3L621.5 147.7L622.2 148.7L622.9 148.5L623.6 149.1L624.3 148.5L625.0 146.8L625.7 146.1L626.4 148.0L627.1 148.8L627.8 149.3L628.5 148.7L629.2 146.1L629.9 148.0L630.6 145.6"/>
<path class="k" d="M450.0 107.1L450.7 107.0L451.4 108.9L452.1 107.4L452.8 106.5L453.5 106.6L454.2 104.2L454.9 105.9L455.6 105.2L456.3 102.9L457.0 102.7L457.7 102.2L458.4 103.5L459.1 100.6L459.8 99.6L460.5 102.8L461.2 103.4L461.9 101.8L462.6 103.6L463.3 104.6L464.0 102.1L464.7 102.7L465.4 101.9L466.1 101.5L466.8 101.1L467.5 102.7L468.2 103.3L468.9 103.8L469.6 101.3L470.3 104.2L471.0 101.7L471.7 101.9L472.4 102.0L473.1 101.9L473.8 103.3L474.5 102.2L475.2 103.6L475.9 105.3L476.6 103.7L477.3 102.6L478.0 105.1L478.7 104.1L479.4 102.8L480.1 103.2L480.8 102.8L481.5 103.8L482.2 105.0L482.9 102.2L483.6 103.0L484.3 102.2L485.0 103.4L485.7 104.1L486.4 101.3L487.1 100.7L487.8 101.1L488.5 101.4L489.2 100.7L489.9 101.0L490.6 99.2L491.3 99.9L492.0 98.2L492.7 99.5L493.4 98.1L494.1 99.6L494.8 99.0L495.5 98.2L496.2 101.1L496.9 100.8L497.6 102.2L498.3 101.6L499.0 104.1L499.7 103.1L500.4 102.7L501.1 104.6L501.8 104.0L502.5 105.6L503.2 104.9L503.9 105.2L504.6 105.0L505.3 105.2L506.0 107.7L506.7 105.3L507.4 106.1L508.1 107.0L508.8 105.7L509.5 105.9L510.2 106.5L510.9 108.8L511.6 109.0L512.3 108.4L513.0 106.5L513.7 107.3L514.4 109.3L515.1 107.9L515.8 107.6L516.5 108.5L517.2 110.9L517.9 108.5L518.6 111.0L519.3 108.4L520.0 110.8L520.7 111.4L521.4 108.9L522.1 110.5L522.8 112.3L523.5 112.4L524.2 111.2L524.9 109.9L525.6 110.6L526.3 110.3L527.0 111.6L527.7 110.3L528.4 112.5L529.1 112.6L529.8 112.1L530.5 112.2L531.2 114.3L531.9 112.3L532.6 113.9L533.3 112.5L534.0 112.9L534.7 115.1L535.4 114.9L536.1 115.8L536.8 116.5L537.5 116.7L538.2 118.5L538.9 118.7L539.6 121.6L540.3 122.0L541.0 121.4L541.7 120.9L542.4 124.5L543.1 123.0L543.8 122.5L544.5 125.6L545.2 124.0L545.9 127.1L546.6 125.3L547.3 124.4L548.0 127.4L548.7 125.6L549.4 124.4L550.1 123.8L550.8 125.1L551.5 123.0L552.2 123.0L552.9 122.9L553.6 123.5L554.3 123.6L555.0 125.0L555.7 126.0L556.4 126.5L557.1 124.8L557.8 126.8L558.5 127.6L559.2 126.5L559.9 127.4L560.6 128.2L561.3 128.0L562.0 128.7L562.7 130.8L563.4 129.2L564.1 128.5L564.8 130.1L565.5 130.0L566.2 132.4L566.9 132.1L567.6 132.8L568.3 134.0L569.0 134.4L569.7 132.8L570.4 135.7L571.1 136.5L571.8 134.1L572.5 134.3L573.2 135.0L573.9 136.8L574.6 136.3L575.3 138.6L576.0 137.4L576.7 137.0L577.4 137.0L578.1 138.7L578.8 137.4L579.5 139.2L580.2 138.4L580.9 140.2L581.6 139.6L582.3 139.7L583.0 140.8L583.7 138.7L584.4 140.3L585.1 140.2L585.8 142.3L586.5 141.1L587.2 140.8L587.9 141.9L588.6 140.8L589.3 142.8L590.0 143.8L590.7 142.6L591.4 144.0L592.1 141.5L592.8 144.2L593.5 144.4L594.2 142.8L594.9 144.8L595.6 143.4L596.3 143.8L597.0 144.1L597.7 141.6L598.4 141.6L599.1 143.6L599.8 142.2L600.5 141.0L601.2 143.2L601.9 141.4L602.6 140.9L603.3 142.1L604.0 140.3L604.7 141.6L605.4 141.3L606.1 141.1L606.8 140.9L607.5 140.9L608.2 139.9L608.9 139.3L609.6 139.5L610.3 138.6L611.0 138.0L611.7 138.7L612.4 136.8L613.1 138.2L613.8 139.4L614.5 138.5L615.2 136.7L615.9 137.2L616.6 137.0L617.3 137.4L618.0 135.6L618.7 136.5L619.4 133.2L620.1 134.4L620.8 132.3L621.5 134.4L622.2 133.6L622.9 133.7L623.6 131.5L624.3 130.8L625.0 133.5L625.7 132.3L626.4 130.6L627.1 129.6L627.8 130.2L628.5 128.3L629.2 128.2L629.9 125.0L630.6 124.5"/>
<path class="k" d="M450.0 114.2L450.7 115.1L451.4 113.3L452.1 113.6L452.8 115.5L453.5 114.9L454.2 115.5L454.9 114.5L455.6 114.7L456.3 113.6L457.0 113.7L457.7 113.0L458.4 113.4L459.1 114.4L459.8 114.9L460.5 115.3L461.2 114.8L461.9 115.2L462.6 114.7L463.3 111.8L464.0 114.8L464.7 113.1L465.4 112.7L466.1 111.2L466.8 111.2L467.5 110.7L468.2 110.6L468.9 112.9L469.6 111.2L470.3 112.7L471.0 113.8L471.7 112.8L472.4 111.7L473.1 111.8L473.8 115.1L474.5 113.7L475.2 113.5L475.9 116.1L476.6 113.6L477.3 116.5L478.0 113.5L478.7 114.9L479.4 114.3L480.1 116.5L480.8 114.4L481.5 114.7L482.2 115.3L482.9 114.5L483.6 115.1L484.3 114.9L485.0 112.0L485.7 112.1L486.4 112.9L487.1 112.8L487.8 114.2L488.5 111.6L489.2 114.5L489.9 113.8L490.6 113.1L491.3 111.5L492.0 113.3L492.7 112.9L493.4 113.5L494.1 111.8L494.8 113.8L495.5 112.0L496.2 113.1L496.9 112.3L497.6 113.0L498.3 115.6L499.0 115.5L499.7 112.3L500.4 113.8L501.1 111.2L501.8 112.3L502.5 112.3L503.2 111.3L503.9 110.9L504.6 113.4L505.3 114.5L506.0 112.3L506.7 113.1L507.4 114.7L508.1 114.9L508.8 115.0L509.5 113.9L510.2 116.3L510.9 116.0L511.6 116.3L512.3 115.8L513.0 114.4L513.7 117.4L514.4 116.3L515.1 116.2L515.8 117.2L516.5 117.8L517.2 115.9L517.9 116.2L518.6 117.1L519.3 116.6L520.0 118.9L520.7 117.2L521.4 119.2L522.1 119.5L522.8 120.2L523.5 120.7L524.2 120.0L524.9 119.0L525.6 121.9L526.3 121.2L527.0 121.0L527.7 122.6L528.4 122.8L529.1 122.4L529.8 122.1L530.5 121.8L531.2 121.6L531.9 122.0L532.6 122.3L533.3 125.0L534.0 123.5L534.7 126.3L535.4 125.7L536.1 126.2L536.8 129.8L537.5 128.5L538.2 128.4L538.9 131.2L539.6 132.1L540.3 133.9L541.0 134.2L541.7 133.6L542.4 135.1L543.1 134.5L543.8 135.9L544.5 137.2L545.2 137.2L545.9 140.2L546.6 140.8L547.3 140.2L548.0 142.6L548.7 141.4L549.4 140.9L550.1 141.5L550.8 141.4L551.5 143.8L552.2 142.7L552.9 142.1L553.6 142.5L554.3 144.3L555.0 146.1L555.7 144.1L556.4 146.6L557.1 146.8L557.8 144.6L558.5 145.7L559.2 148.3L559.9 148.1L560.6 148.0L561.3 146.1L562.0 147.2L562.7 149.2L563.4 147.4L564.1 147.9L564.8 147.7L565.5 149.6L566.2 148.7L566.9 151.2L567.6 148.9L568.3 151.3L569.0 152.3L569.7 150.0L570.4 150.6L571.1 152.2L571.8 150.3L572.5 151.5L573.2 150.4L573.9 151.4L574.6 151.9L575.3 150.4L576.0 153.6L576.7 152.1L577.4 151.0L578.1 151.2L578.8 151.9L579.5 151.4L580.2 153.8L580.9 152.2L581.6 153.4L582.3 153.5L583.0 152.7L583.7 154.2L584.4 153.3L585.1 154.6L585.8 154.1L586.5 154.6L587.2 155.8L587.9 155.1L588.6 155.4L589.3 155.4L590.0 155.4L590.7 154.3L591.4 154.1L592.1 156.8L592.8 154.6L593.5 155.3L594.2 155.1L594.9 154.5L595.6 156.5L596.3 155.8L597.0 155.7L597.7 158.6L598.4 156.7L599.1 157.3L599.8 158.7L600.5 158.3L601.2 157.8L601.9 156.7L602.6 155.0L603.3 154.8L604.0 156.0L604.7 154.3L605.4 155.3L606.1 153.0L606.8 154.3L607.5 155.2L608.2 153.5L608.9 152.0L609.6 153.0L610.3 152.6L611.0 154.4L611.7 153.1L612.4 153.3L613.1 153.1L613.8 154.7L614.5 153.5L615.2 151.6L615.9 152.0L616.6 151.9L617.3 153.5L618.0 151.8L618.7 152.1L619.4 153.9L620.1 152.8L620.8 153.4L621.5 151.9L622.2 151.9L622.9 150.3L623.6 150.3L624.3 151.5L625.0 152.2L625.7 149.5L626.4 149.9L627.1 151.3L627.8 149.8L628.5 150.0L629.2 150.8L629.9 150.7L630.6 147.9"/>
<path class="k" d="M394.5 187.1L400.0 188.2L405.0 190.1L409.0 191.8L413.0 192.6L414.1 192.6L415.2 193.1L416.3 193.0L417.4 192.3L418.5 192.8L419.6 192.4L420.7 191.5L421.8 191.4L422.9 192.0L424.0 191.7L425.1 191.9L426.2 190.7L427.3 191.2L428.4 190.8L429.5 190.8L430.6 191.1L431.7 191.1L432.8 190.6L433.9 191.6L435.0 191.5L436.1 191.7L437.2 191.6L438.3 191.8L439.4 192.2L440.0 190.7L440.6 192.1L441.2 190.4L441.8 191.6L442.4 190.1L443.0 191.4L443.6 193.4L444.2 193.9L444.8 193.9L445.4 193.4L446.0 194.9L446.6 191.4L447.2 191.9L447.8 192.5L448.4 195.0L449.0 195.1L449.6 194.2L450.2 193.5L450.8 193.7L451.4 196.1L452.0 195.0L452.6 193.4L453.2 192.7L453.8 193.0L454.4 192.9L455.0 194.3L455.6 193.9L456.2 195.5L456.8 192.8L457.4 194.1L458.0 193.4L458.6 196.5L459.2 195.9L459.8 195.0L460.4 196.8L461.0 193.8L461.6 196.1L462.2 193.6L462.8 196.6L463.4 194.5L464.0 196.3L464.6 195.1L465.2 193.1L465.8 195.8L466.4 193.7L467.0 194.3L467.6 195.2L468.2 196.4L468.8 193.3L469.4 194.0L470.0 193.2L470.6 196.5L471.2 195.3L471.8 192.5L472.4 193.5L473.0 196.1L473.6 192.5L474.2 194.6L474.8 194.2L475.4 193.2L476.0 195.9L476.6 192.9L477.2 192.6L477.8 192.9L478.4 194.8L479.0 193.2L479.6 193.3L480.2 195.7L480.8 194.9L481.4 195.4L482.0 192.6L482.6 192.3L483.2 192.2L483.8 193.7L484.4 193.2L485.0 193.8L485.6 193.6L486.2 194.4L486.8 192.9L487.4 192.3L488.0 191.4L488.6 194.3L489.2 194.4L489.8 191.8L490.4 190.7L491.0 192.0L491.6 191.8L492.2 192.5L492.8 190.1L493.4 190.5L494.0 190.7L494.6 192.3L495.2 190.9L495.8 192.0L496.4 192.9L497.0 194.6L497.6 191.1L498.2 191.3L498.8 194.3L499.4 192.8L500.0 193.3L500.6 193.4L501.2 191.9L501.8 191.6L502.4 192.2L503.0 194.9L503.6 192.1L504.2 191.8L504.8 191.7L505.4 191.6L506.0 194.7L506.6 194.3L507.2 193.8L507.8 191.7L508.4 191.6L509.0 192.4L509.6 190.8L510.2 192.9L510.8 192.9L511.4 191.9L512.0 191.7L512.6 192.4L513.2 193.5L513.8 192.3L514.4 193.9L515.0 193.7L515.6 191.8L516.2 193.9L516.8 193.2L517.4 193.0L518.0 191.1L518.6 191.7L519.2 194.2L519.8 192.7L520.4 192.2L521.0 191.7L521.6 193.2L522.2 191.7L522.8 193.6L523.4 193.4L524.0 192.8L524.6 192.8L525.2 194.5L525.8 194.5L526.4 191.7L527.0 191.8L527.6 192.6L528.2 193.8L528.8 190.8L529.4 192.6L530.0 192.7L530.6 192.7L531.2 191.7L531.8 190.7L532.4 193.6L533.0 190.5L533.6 190.6L534.2 191.3L534.8 192.0L535.4 191.7L536.0 192.5L536.6 191.5L537.2 190.9L537.8 191.7L538.4 192.8L539.0 194.2L539.6 191.9L540.2 192.3L540.8 192.0L541.4 192.7L542.0 191.9L542.6 191.9L543.2 190.2L543.8 193.1L544.4 193.8L545.0 194.1L545.6 193.3L546.2 192.2L546.8 193.1L547.4 190.7L548.0 191.2L548.6 191.6L549.2 191.5L549.8 191.5L550.4 193.0L551.0 193.8L551.6 192.9L552.2 191.7L552.8 191.6L553.4 193.8L554.0 193.3L554.6 192.0L555.2 191.8L555.8 191.1L556.4 192.8L557.0 192.2L557.6 194.4L558.2 190.5L558.8 191.9L559.4 193.5L560.0 194.5L560.6 193.4L561.2 192.5L561.8 193.8L562.4 193.9L563.0 192.6L563.6 192.7L564.2 193.4L564.8 193.2L565.4 194.5L566.0 192.6L566.6 192.6L567.2 194.7L567.8 192.2L568.4 194.2L569.0 192.8L569.6 192.7L570.2 194.5L570.8 190.7L571.4 190.8L572.0 194.5L572.6 192.3L573.2 191.9L573.8 193.1L574.4 191.4L575.0 194.0L575.6 191.6L576.2 191.3L576.8 192.9L577.4 191.3L578.0 193.6L578.6 191.1L579.2 190.6L579.8 192.4L580.4 190.6L581.0 190.3L581.6 193.6L582.2 191.3L582.8 191.6L583.4 189.6L584.0 192.7L584.6 190.4L585.2 191.9L585.8 191.0L586.4 189.9L587.0 192.9L587.6 191.7L588.2 189.5L588.8 190.9L589.4 190.5L590.0 191.6L590.6 192.2L591.2 189.0L591.8 188.8L592.4 188.2L593.0 189.3L593.6 187.6L594.2 187.9L594.8 186.9L595.4 187.6L596.0 188.1L596.6 187.3L597.2 186.9L597.8 188.9L598.4 186.7L599.0 186.5L599.6 187.7L600.2 189.0L600.8 188.4L601.4 187.4L602.0 187.4L602.6 188.3L603.2 187.3L603.8 186.2L604.4 186.4L605.0 186.4L605.6 187.1L606.2 187.1L606.8 185.9L607.4 187.6L608.0 185.5L608.6 186.8L609.2 186.7L609.8 186.1L610.4 186.5L611.0 185.5L611.6 188.5L612.2 185.9L612.8 185.9L613.4 184.5L614.0 185.9L614.6 187.6L615.2 183.6L615.8 187.3L616.4 187.3L617.0 187.1L617.6 185.6L618.2 186.2L618.8 186.1L619.4 182.8L620.0 185.8L620.6 183.3L621.2 182.3L621.8 182.8L622.4 183.6L623.0 183.9L623.6 184.0L624.2 182.3L624.8 182.4L625.4 181.7L626.0 183.4L626.6 184.6L627.2 181.7L627.8 183.2L628.4 184.2L629.0 181.7L629.6 180.7L630.2 180.6L630.8 184.4"/>
<path class="k" d="M394.5 189.1L400.0 190.0L405.0 191.6L409.0 192.9L413.0 193.6L414.1 193.7L415.2 193.7L416.3 193.8L417.4 193.0L418.5 192.6L419.6 192.5L420.7 192.9L421.8 192.9L422.9 192.1L424.0 192.6L425.1 192.1L426.2 191.8L427.3 192.3L428.4 191.6L429.5 191.8L430.6 191.5L431.7 191.6L432.8 191.5L433.9 192.5L435.0 192.6L436.1 192.7L437.2 192.6L438.3 192.6L439.4 192.7L440.0 192.6L440.6 193.6L441.2 191.6L441.8 194.1L442.4 193.0L443.0 194.1L443.6 191.2L444.2 194.4L444.8 194.3L445.4 191.9L446.0 193.6L446.6 194.4L447.2 193.4L447.8 192.8L448.4 194.8L449.0 195.2L449.6 195.4L450.2 195.6L450.8 193.6L451.4 197.3L452.0 195.5L452.6 196.4L453.2 195.1L453.8 195.6L454.4 194.0L455.0 195.1L455.6 196.8L456.2 196.1L456.8 194.1L457.4 196.8L458.0 195.9L458.6 196.5L459.2 195.5L459.8 193.7L460.4 197.4L461.0 197.6L461.6 197.2L462.2 196.6L462.8 195.0L463.4 194.3L464.0 195.8L464.6 195.4L465.2 194.4L465.8 196.1L466.4 196.5L467.0 194.2L467.6 193.6L468.2 197.5L468.8 196.6L469.4 193.7L470.0 193.4L470.6 195.2L471.2 196.9L471.8 196.3L472.4 194.0L473.0 194.8L473.6 194.1L474.2 195.3L474.8 196.0L475.4 193.4L476.0 195.8L476.6 196.5L477.2 195.3L477.8 195.7L478.4 194.0L479.0 194.4L479.6 195.9L480.2 196.9L480.8 194.4L481.4 193.6L482.0 193.4L482.6 197.0L483.2 193.8L483.8 196.0L484.4 196.7L485.0 196.3L485.6 196.4L486.2 194.3L486.8 193.4L487.4 195.7L488.0 196.2L488.6 193.8L489.2 195.5L489.8 191.8L490.4 195.3L491.0 191.6L491.6 192.1L492.2 192.7L492.8 192.2L493.4 194.4L494.0 192.7L494.6 194.4L495.2 193.1L495.8 193.1L496.4 193.0L497.0 193.0L497.6 193.2L498.2 193.5L498.8 192.6L499.4 192.5L500.0 196.1L500.6 193.3L501.2 196.2L501.8 192.7L502.4 193.4L503.0 193.0L503.6 194.7L504.2 194.8L504.8 193.2L505.4 196.0L506.0 194.6L506.6 194.7L507.2 192.7L507.8 192.8L508.4 194.3L509.0 195.6L509.6 193.2L510.2 192.9L510.8 195.3L511.4 195.3L512.0 195.0L512.6 194.9L513.2 192.5L513.8 194.0L514.4 193.8L515.0 194.5L515.6 194.0L516.2 192.7L516.8 193.7L517.4 193.3L518.0 192.1L518.6 192.2L519.2 194.5L519.8 194.4L520.4 194.0L521.0 194.3L521.6 194.4L522.2 194.2L522.8 192.4L523.4 193.5L524.0 195.0L524.6 191.9L525.2 195.2L525.8 193.7L526.4 195.2L527.0 192.5L527.6 193.6L528.2 192.6L528.8 192.1L529.4 191.8L530.0 192.5L530.6 193.4L531.2 192.5L531.8 193.5L532.4 191.7L533.0 193.7L533.6 191.7L534.2 195.2L534.8 192.2L535.4 193.4L536.0 195.3L536.6 192.6L537.2 192.9L537.8 193.5L538.4 191.6L539.0 191.9L539.6 195.2L540.2 195.0L540.8 194.3L541.4 194.1L542.0 194.6L542.6 195.2L543.2 192.2L543.8 191.6L544.4 194.7L545.0 192.8L545.6 191.3L546.2 191.2L546.8 192.9L547.4 193.1L548.0 193.0L548.6 192.1L549.2 193.3L549.8 192.9L550.4 194.6L551.0 191.4L551.6 191.6L552.2 192.7L552.8 193.5L553.4 194.4L554.0 191.4L554.6 192.1L555.2 193.8L555.8 194.8L556.4 192.4L557.0 195.5L557.6 193.1L558.2 192.0L558.8 195.2L559.4 193.1L560.0 193.0L560.6 193.9L561.2 192.7L561.8 194.8L562.4 192.1L563.0 194.1L563.6 193.2L564.2 195.1L564.8 193.4L565.4 193.5L566.0 192.1L566.6 192.8L567.2 195.4L567.8 193.6L568.4 192.2L569.0 192.6L569.6 194.5L570.2 194.9L570.8 194.8L571.4 191.9L572.0 194.6L572.6 195.2L573.2 195.2L573.8 192.3L574.4 192.7L575.0 194.2L575.6 193.7L576.2 193.0L576.8 193.7L577.4 191.3L578.0 193.8L578.6 191.5L579.2 193.1L579.8 193.3L580.4 193.3L581.0 194.3L581.6 191.6L582.2 194.7L582.8 191.4L583.4 191.6L584.0 191.5L584.6 194.6L585.2 191.0L585.8 193.5L586.4 193.3L587.0 191.2L587.6 190.5L588.2 194.4L588.8 191.4L589.4 193.2L590.0 193.8L590.6 189.5L591.2 193.2L591.8 191.2L592.4 191.0L593.0 189.2L593.6 189.3L594.2 191.1L594.8 188.3L595.4 191.2L596.0 190.1L596.6 187.8L597.2 187.6L597.8 190.9L598.4 188.0L599.0 190.0L599.6 189.0L600.2 191.1L600.8 188.9L601.4 190.6L602.0 191.1L602.6 189.9L603.2 188.8L603.8 190.4L604.4 189.7L605.0 188.8L605.6 188.3L606.2 187.6L606.8 188.6L607.4 187.0L608.0 188.5L608.6 189.2L609.2 189.5L609.8 189.0L610.4 189.6L611.0 188.2L611.6 186.4L612.2 188.3L612.8 190.0L613.4 186.1L614.0 186.6L614.6 188.7L615.2 189.4L615.8 188.9L616.4 187.7L617.0 185.9L617.6 187.2L618.2 186.9L618.8 185.7L619.4 184.9L620.0 188.3L620.6 185.4L621.2 185.3L621.8 187.1L622.4 186.1L623.0 185.1L623.6 183.9L624.2 185.5L624.8 187.0L625.4 184.9L626.0 184.7L626.6 184.0L627.2 184.6L627.8 182.9L628.4 186.2L629.0 186.2L629.6 184.5L630.2 184.7L630.8 186.0"/>
<path class="k" d="M394.5 191.0L400.0 191.6L405.0 192.8L409.0 193.7L413.0 194.2L414.1 193.8L415.2 193.8L416.3 194.0L417.4 194.2L418.5 193.7L419.6 192.9L420.7 193.1L421.8 192.8L422.9 193.0L424.0 193.0L425.1 193.6L426.2 193.0L427.3 193.3L428.4 193.2L429.5 192.2L430.6 192.2L431.7 193.3L432.8 192.2L433.9 192.9L435.0 193.5L436.1 193.0L437.2 193.7L438.3 193.9L439.4 194.0L440.0 191.8L440.6 192.7L441.2 193.1L441.8 195.6L442.4 195.2L443.0 194.3L443.6 196.0L444.2 196.2L444.8 193.6L445.4 193.9L446.0 193.2L446.6 195.5L447.2 193.4L447.8 197.3L448.4 195.2L449.0 194.6L449.6 197.9L450.2 197.4L450.8 196.8L451.4 197.1L452.0 195.0L452.6 196.6L453.2 195.5L453.8 197.3L454.4 195.2L455.0 197.2L455.6 196.3L456.2 196.6L456.8 198.9L457.4 196.8L458.0 198.0L458.6 194.8L459.2 196.6L459.8 196.7L460.4 195.7L461.0 198.4L461.6 197.5L462.2 198.0L462.8 195.8L463.4 194.6L464.0 195.4L464.6 195.1L465.2 194.9L465.8 198.1L466.4 198.0L467.0 194.3L467.6 196.6L468.2 197.2L468.8 194.9L469.4 196.3L470.0 195.3L470.6 197.5L471.2 197.9L471.8 197.3L472.4 196.0L473.0 196.0L473.6 194.7L474.2 195.1L474.8 197.2L475.4 196.2L476.0 195.7L476.6 196.3L477.2 197.4L477.8 194.6L478.4 194.3L479.0 198.0L479.6 194.5L480.2 197.6L480.8 197.9L481.4 197.0L482.0 196.1L482.6 196.2L483.2 197.6L483.8 194.4L484.4 194.7L485.0 196.2L485.6 194.1L486.2 194.9L486.8 195.2L487.4 194.6L488.0 194.1L488.6 196.5L489.2 195.7L489.8 196.0L490.4 195.7L491.0 194.3L491.6 193.2L492.2 194.8L492.8 194.8L493.4 193.5L494.0 192.1L494.6 192.9L495.2 194.5L495.8 195.7L496.4 192.9L497.0 194.2L497.6 196.7L498.2 194.9L498.8 194.7L499.4 195.9L500.0 195.1L500.6 194.2L501.2 197.2L501.8 193.5L502.4 195.9L503.0 193.7L503.6 196.8L504.2 195.9L504.8 194.8L505.4 195.6L506.0 195.8L506.6 193.9L507.2 194.7L507.8 193.7L508.4 196.5L509.0 194.6L509.6 194.8L510.2 195.7L510.8 195.7L511.4 195.4L512.0 196.6L512.6 196.6L513.2 194.4L513.8 196.7L514.4 193.2L515.0 194.1L515.6 196.6L516.2 194.6L516.8 195.3L517.4 194.0L518.0 194.1L518.6 196.7L519.2 196.5L519.8 196.4L520.4 192.7L521.0 194.5L521.6 193.3L522.2 195.7L522.8 195.6L523.4 193.9L524.0 196.0L524.6 196.3L525.2 193.4L525.8 192.6L526.4 193.1L527.0 196.7L527.6 195.3L528.2 192.9L528.8 195.5L529.4 194.5L530.0 194.6L530.6 193.7L531.2 196.1L531.8 195.1L532.4 196.5L533.0 194.6L533.6 194.2L534.2 192.9L534.8 195.2L535.4 195.0L536.0 193.1L536.6 195.4L537.2 192.7L537.8 194.7L538.4 196.2L539.0 193.9L539.6 194.5L540.2 195.3L540.8 195.2L541.4 192.6L542.0 194.8L542.6 196.1L543.2 196.5L543.8 193.2L544.4 195.7L545.0 193.5L545.6 193.1L546.2 195.8L546.8 193.3L547.4 193.7L548.0 194.9L548.6 192.8L549.2 193.1L549.8 196.3L550.4 196.3L551.0 195.6L551.6 195.0L552.2 192.8L552.8 196.1L553.4 196.4L554.0 195.7L554.6 194.9L555.2 195.7L555.8 195.6L556.4 195.6L557.0 195.5L557.6 192.7L558.2 193.7L558.8 193.6L559.4 192.8L560.0 193.9L560.6 195.8L561.2 195.6L561.8 194.4L562.4 197.1L563.0 196.8L563.6 196.7L564.2 196.2L564.8 195.1L565.4 196.6L566.0 195.8L566.6 196.2L567.2 195.0L567.8 194.9L568.4 194.7L569.0 193.5L569.6 193.6L570.2 197.0L570.8 195.7L571.4 193.3L572.0 196.6L572.6 194.9L573.2 194.8L573.8 193.3L574.4 196.5L575.0 194.5L575.6 193.5L576.2 193.7L576.8 194.4L577.4 194.2L578.0 193.7L578.6 195.3L579.2 196.3L579.8 192.9L580.4 193.0L581.0 194.2L581.6 194.2L582.2 195.9L582.8 193.7L583.4 193.7L584.0 194.9L584.6 193.9L585.2 193.8L585.8 194.7L586.4 194.3L587.0 194.1L587.6 192.4L588.2 195.3L588.8 192.3L589.4 193.2L590.0 193.5L590.6 191.0L591.2 191.9L591.8 194.6L592.4 191.6L593.0 191.2L593.6 192.1L594.2 190.5L594.8 193.4L595.4 191.9L596.0 192.6L596.6 192.0L597.2 191.0L597.8 189.1L598.4 192.6L599.0 189.9L599.6 192.6L600.2 190.2L600.8 189.1L601.4 190.3L602.0 192.6L602.6 190.3L603.2 191.2L603.8 191.8L604.4 192.0L605.0 192.4L605.6 192.3L606.2 192.2L606.8 192.6L607.4 190.6L608.0 191.0L608.6 190.6L609.2 192.1L609.8 190.4L610.4 192.7L611.0 191.8L611.6 190.4L612.2 192.1L612.8 191.7L613.4 190.0L614.0 190.7L614.6 188.3L615.2 191.6L615.8 189.6L616.4 190.1L617.0 189.4L617.6 189.7L618.2 188.0L618.8 186.7L619.4 188.6L620.0 188.4L620.6 187.6L621.2 187.4L621.8 187.8L622.4 189.0L623.0 187.4L623.6 189.7L624.2 189.6L624.8 188.1L625.4 186.2L626.0 185.9L626.6 187.5L627.2 185.8L627.8 185.1L628.4 189.1L629.0 185.9L629.6 186.1L630.2 187.4L630.8 184.6"/>
<path class="k" d="M394.5 194.2L400.0 194.4L405.0 194.7L409.0 195.0L413.0 195.1L414.1 195.1L415.2 195.1L416.3 194.8L417.4 194.9L418.5 193.9L419.6 194.3L420.7 194.7L421.8 194.3L422.9 193.6L424.0 194.5L425.1 194.6L426.2 193.7L427.3 193.8L428.4 193.6L429.5 193.1L430.6 193.7L431.7 193.4L432.8 193.3L433.9 194.0L435.0 194.4L436.1 194.3L437.2 194.6L438.3 194.6L439.4 194.5L440.0 192.9L440.6 194.4L441.2 194.6L441.8 193.7L442.4 196.3L443.0 195.7L443.6 194.1L444.2 195.4L444.8 196.4L445.4 194.1L446.0 195.1L446.6 196.5L447.2 197.4L447.8 194.8L448.4 194.7L449.0 196.4L449.6 197.4L450.2 198.4L450.8 197.0L451.4 199.0L452.0 196.6L452.6 197.2L453.2 196.4L453.8 198.0L454.4 198.3L455.0 197.1L455.6 198.2L456.2 198.6L456.8 196.2L457.4 198.6L458.0 195.9L458.6 198.5L459.2 196.0L459.8 197.1L460.4 198.6L461.0 199.6L461.6 196.4L462.2 199.3L462.8 198.8L463.4 198.7L464.0 196.0L464.6 197.8L465.2 195.0L465.8 197.9L466.4 195.4L467.0 195.9L467.6 197.2L468.2 195.8L468.8 195.3L469.4 195.1L470.0 196.2L470.6 197.9L471.2 195.4L471.8 197.8L472.4 197.5L473.0 196.0L473.6 195.3L474.2 197.6L474.8 196.5L475.4 198.2L476.0 194.8L476.6 196.3L477.2 197.2L477.8 197.2L478.4 196.4L479.0 197.6L479.6 197.6L480.2 197.8L480.8 197.3L481.4 195.5L482.0 196.7L482.6 195.3L483.2 198.1L483.8 196.5L484.4 195.3L485.0 198.2L485.6 196.9L486.2 196.7L486.8 195.2L487.4 196.3L488.0 196.8L488.6 194.6L489.2 194.6L489.8 195.9L490.4 193.6L491.0 195.4L491.6 197.1L492.2 195.3L492.8 195.1L493.4 194.9L494.0 195.3L494.6 194.1L495.2 193.6L495.8 196.5L496.4 196.3L497.0 196.7L497.6 197.4L498.2 195.0L498.8 196.7L499.4 196.3L500.0 197.0L500.6 195.6L501.2 198.3L501.8 198.3L502.4 194.6L503.0 195.1L503.6 195.4L504.2 194.5L504.8 194.9L505.4 196.2L506.0 197.5L506.6 197.2L507.2 197.5L507.8 197.4L508.4 197.1L509.0 197.3L509.6 196.4L510.2 196.8L510.8 197.0L511.4 194.0L512.0 195.0L512.6 197.4L513.2 197.7L513.8 193.8L514.4 194.9L515.0 194.4L515.6 196.6L516.2 196.1L516.8 196.5L517.4 195.5L518.0 197.7L518.6 194.3L519.2 193.7L519.8 196.0L520.4 197.8L521.0 194.7L521.6 196.9L522.2 194.7L522.8 197.4L523.4 197.9L524.0 196.0L524.6 194.3L525.2 194.2L525.8 197.7L526.4 197.2L527.0 194.6L527.6 194.7L528.2 197.1L528.8 197.1L529.4 197.4L530.0 195.2L530.6 197.1L531.2 195.5L531.8 195.0L532.4 196.9L533.0 195.6L533.6 196.7L534.2 194.0L534.8 194.1L535.4 194.8L536.0 196.4L536.6 197.3L537.2 195.6L537.8 193.9L538.4 195.3L539.0 194.9L539.6 194.3L540.2 194.6L540.8 196.9L541.4 194.6L542.0 195.4L542.6 195.8L543.2 195.1L543.8 197.1L544.4 197.5L545.0 195.4L545.6 196.9L546.2 197.3L546.8 196.5L547.4 196.9L548.0 195.8L548.6 197.2L549.2 195.4L549.8 193.7L550.4 194.7L551.0 194.9L551.6 195.7L552.2 196.4L552.8 195.9L553.4 195.5L554.0 196.9L554.6 195.6L555.2 197.5L555.8 195.2L556.4 196.5L557.0 193.8L557.6 194.3L558.2 196.7L558.8 194.1L559.4 196.1L560.0 194.2L560.6 197.4L561.2 197.7L561.8 195.6L562.4 196.8L563.0 195.1L563.6 198.0L564.2 196.6L564.8 197.9L565.4 196.5L566.0 197.5L566.6 195.2L567.2 196.4L567.8 197.8L568.4 195.2L569.0 197.2L569.6 194.7L570.2 196.3L570.8 195.5L571.4 198.1L572.0 196.7L572.6 195.8L573.2 198.1L573.8 196.1L574.4 196.9L575.0 196.3L575.6 197.8L576.2 195.2L576.8 194.6L577.4 194.6L578.0 194.2L578.6 196.5L579.2 196.4L579.8 197.2L580.4 195.4L581.0 193.4L581.6 196.0L582.2 195.4L582.8 194.6L583.4 196.4L584.0 197.2L584.6 195.4L585.2 192.9L585.8 195.8L586.4 196.4L587.0 192.8L587.6 193.6L588.2 193.2L588.8 194.8L589.4 193.6L590.0 193.3L590.6 193.2L591.2 195.4L591.8 194.1L592.4 192.0L593.0 195.8L593.6 194.8L594.2 195.5L594.8 191.4L595.4 194.3L596.0 191.8L596.6 194.5L597.2 194.8L597.8 194.2L598.4 191.2L599.0 191.9L599.6 192.3L600.2 192.8L600.8 194.6L601.4 192.2L602.0 191.7L602.6 191.2L603.2 193.4L603.8 193.9L604.4 192.2L605.0 194.0L605.6 193.8L606.2 193.6L606.8 192.4L607.4 190.9L608.0 192.6L608.6 194.0L609.2 194.4L609.8 193.9L610.4 193.2L611.0 192.5L611.6 193.1L612.2 192.1L612.8 191.2L613.4 190.2L614.0 191.3L614.6 193.6L615.2 191.4L615.8 191.9L616.4 189.6L617.0 190.1L617.6 190.8L618.2 189.5L618.8 190.7L619.4 190.3L620.0 191.6L620.6 189.0L621.2 191.4L621.8 189.9L622.4 189.9L623.0 189.6L623.6 191.5L624.2 190.4L624.8 189.1L625.4 188.7L626.0 187.7L626.6 190.0L627.2 188.9L627.8 189.5L628.4 191.0L629.0 187.5L629.6 187.1L630.2 189.3L630.8 190.9"/>
<path class="k" d="M394.5 196.1L400.0 196.0L405.0 195.9L409.0 195.7L413.0 195.7L414.1 195.7L415.2 195.5L416.3 194.9L417.4 195.1L418.5 195.0L419.6 195.4L420.7 195.4L421.8 194.6L422.9 195.2L424.0 194.6L425.1 194.7L426.2 194.3L427.3 194.6L428.4 194.8L429.5 194.8L430.6 194.6L431.7 194.8L432.8 194.5L433.9 195.0L435.0 194.5L436.1 194.7L437.2 195.1L438.3 195.7L439.4 195.2L440.0 197.4L440.6 195.7L441.2 197.0L441.8 196.6L442.4 197.3L443.0 197.9L443.6 195.0L444.2 197.3L444.8 198.2L445.4 196.5L446.0 195.0L446.6 198.6L447.2 197.1L447.8 196.4L448.4 195.9L449.0 199.6L449.6 196.8L450.2 199.6L450.8 197.8L451.4 197.5L452.0 200.1L452.6 197.5L453.2 200.5L453.8 199.2L454.4 198.1L455.0 197.3L455.6 199.6L456.2 198.5L456.8 200.1L457.4 199.2L458.0 198.5L458.6 198.9L459.2 196.7L459.8 197.3L460.4 200.2L461.0 197.0L461.6 197.5L462.2 199.3L462.8 196.5L463.4 197.5L464.0 199.7L464.6 199.4L465.2 198.6L465.8 197.6L466.4 197.9L467.0 197.2L467.6 198.8L468.2 199.1L468.8 196.3L469.4 197.8L470.0 196.2L470.6 198.7L471.2 196.3L471.8 196.4L472.4 196.1L473.0 199.4L473.6 197.3L474.2 196.5L474.8 199.2L475.4 199.8L476.0 196.0L476.6 199.3L477.2 198.9L477.8 197.9L478.4 198.9L479.0 196.6L479.6 197.7L480.2 199.4L480.8 195.8L481.4 198.0L482.0 199.3L482.6 196.7L483.2 196.0L483.8 199.4L484.4 198.6L485.0 197.4L485.6 197.7L486.2 198.7L486.8 196.3L487.4 195.7L488.0 197.1L488.6 196.0L489.2 195.0L489.8 196.5L490.4 198.9L491.0 197.7L491.6 198.7L492.2 197.1L492.8 197.4L493.4 196.1L494.0 195.1L494.6 195.9L495.2 196.2L495.8 196.7L496.4 196.4L497.0 198.0L497.6 195.9L498.2 197.7L498.8 199.3L499.4 198.3L500.0 195.8L500.6 198.0L501.2 196.4L501.8 197.9L502.4 197.5L503.0 198.0L503.6 196.2L504.2 195.3L504.8 195.4L505.4 196.4L506.0 198.4L506.6 197.8L507.2 195.8L507.8 197.7L508.4 198.3L509.0 196.3L509.6 195.8L510.2 198.9L510.8 195.9L511.4 198.3L512.0 198.6L512.6 195.3L513.2 198.1L513.8 196.9L514.4 198.7L515.0 198.6L515.6 194.8L516.2 194.7L516.8 195.9L517.4 195.8L518.0 197.3L518.6 195.5L519.2 198.2L519.8 197.2L520.4 198.7L521.0 196.3L521.6 198.8L522.2 197.1L522.8 196.7L523.4 197.5L524.0 195.1L524.6 195.4L525.2 195.7L525.8 197.6L526.4 195.6L527.0 196.8L527.6 197.4L528.2 195.0L528.8 195.8L529.4 195.0L530.0 198.9L530.6 197.1L531.2 198.1L531.8 195.2L532.4 197.9L533.0 196.1L533.6 195.3L534.2 197.5L534.8 198.3L535.4 198.0L536.0 197.9L536.6 198.3L537.2 194.9L537.8 198.5L538.4 195.0L539.0 196.5L539.6 195.3L540.2 197.6L540.8 195.2L541.4 195.0L542.0 198.4L542.6 197.0L543.2 196.3L543.8 196.8L544.4 197.0L545.0 196.0L545.6 194.7L546.2 197.8L546.8 195.8L547.4 195.7L548.0 196.4L548.6 197.3L549.2 194.9L549.8 196.8L550.4 198.2L551.0 194.7L551.6 196.2L552.2 197.1L552.8 198.2L553.4 198.5L554.0 196.6L554.6 198.7L555.2 196.2L555.8 197.3L556.4 195.2L557.0 198.0L557.6 195.2L558.2 198.6L558.8 195.9L559.4 199.1L560.0 198.8L560.6 196.9L561.2 197.1L561.8 197.4L562.4 196.2L563.0 199.3L563.6 197.2L564.2 196.3L564.8 195.5L565.4 197.2L566.0 199.0L566.6 197.3L567.2 198.8L567.8 199.5L568.4 199.2L569.0 197.6L569.6 195.8L570.2 199.3L570.8 196.7L571.4 198.8L572.0 197.4L572.6 197.6L573.2 196.4L573.8 198.0L574.4 195.2L575.0 197.8L575.6 199.0L576.2 196.9L576.8 197.4L577.4 196.7L578.0 194.8L578.6 196.6L579.2 198.7L579.8 197.7L580.4 198.5L581.0 195.8L581.6 197.0L582.2 197.1L582.8 197.3L583.4 194.8L584.0 195.8L584.6 195.2L585.2 198.3L585.8 194.7L586.4 194.6L587.0 196.4L587.6 197.6L588.2 196.6L588.8 195.3L589.4 197.9L590.0 195.5L590.6 194.7L591.2 194.5L591.8 195.3L592.4 194.0L593.0 194.5L593.6 194.7L594.2 196.2L594.8 195.5L595.4 194.8L596.0 194.4L596.6 196.5L597.2 194.2L597.8 195.0L598.4 195.1L599.0 193.0L599.6 194.8L600.2 195.3L600.8 196.1L601.4 193.8L602.0 195.4L602.6 194.2L603.2 193.3L603.8 196.2L604.4 194.4L605.0 196.8L605.6 195.2L606.2 196.2L606.8 192.9L607.4 194.0L608.0 195.0L608.6 192.9L609.2 196.1L609.8 194.5L610.4 195.2L611.0 194.1L611.6 192.4L612.2 195.7L612.8 192.4L613.4 191.7L614.0 194.3L614.6 192.3L615.2 194.6L615.8 193.5L616.4 191.1L617.0 194.1L617.6 190.8L618.2 193.9L618.8 194.4L619.4 190.6L620.0 192.7L620.6 191.4L621.2 191.6L621.8 191.0L622.4 192.1L623.0 191.6L623.6 190.0L624.2 193.1L624.8 191.5L625.4 190.0L626.0 190.7L626.6 190.3L627.2 191.9L627.8 192.6L628.4 190.5L629.0 191.8L629.6 192.1L630.2 189.8L630.8 192.6"/>
<path class="k" d="M394.5 198.6L400.0 198.2L405.0 197.6L409.0 197.0L413.0 196.8L414.1 196.5L415.2 196.7L416.3 196.5L417.4 195.9L418.5 195.8L419.6 195.2L420.7 196.1L421.8 195.2L422.9 195.5L424.0 195.7L425.1 195.9L426.2 195.5L427.3 195.6L428.4 195.2L429.5 195.2L430.6 195.4L431.7 194.8L432.8 195.9L433.9 196.1L435.0 196.4L436.1 196.1L437.2 195.8L438.3 196.2L439.4 196.6L440.0 197.4L440.6 195.8L441.2 197.3L441.8 197.2L442.4 195.0L443.0 197.3L443.6 197.8L444.2 196.1L444.8 195.4L445.4 196.0L446.0 195.9L446.6 197.5L447.2 198.6L447.8 197.9L448.4 196.6L449.0 198.8L449.6 198.0L450.2 198.5L450.8 198.3L451.4 199.4L452.0 199.6L452.6 198.0L453.2 201.8L453.8 198.2L454.4 201.0L455.0 199.8L455.6 201.4L456.2 200.2L456.8 199.4L457.4 200.5L458.0 201.9L458.6 201.1L459.2 199.9L459.8 200.2L460.4 200.7L461.0 199.6L461.6 198.1L462.2 197.2L462.8 199.1L463.4 198.6L464.0 198.8L464.6 200.1L465.2 198.5L465.8 198.0L466.4 198.2L467.0 200.8L467.6 198.3L468.2 200.6L468.8 198.4L469.4 197.4L470.0 198.5L470.6 198.5L471.2 200.5L471.8 199.6L472.4 198.7L473.0 200.3L473.6 196.8L474.2 200.1L474.8 197.9L475.4 200.1L476.0 199.6L476.6 200.0L477.2 200.1L477.8 199.7L478.4 200.2L479.0 200.5L479.6 200.1L480.2 196.8L480.8 200.0L481.4 200.1L482.0 200.2L482.6 199.2L483.2 199.9L483.8 197.6L484.4 198.4L485.0 198.2L485.6 197.6L486.2 197.4L486.8 196.9L487.4 199.3L488.0 197.1L488.6 197.6L489.2 198.4L489.8 198.5L490.4 199.7L491.0 199.3L491.6 198.9L492.2 196.1L492.8 198.6L493.4 198.2L494.0 199.6L494.6 196.1L495.2 199.5L495.8 199.8L496.4 196.0L497.0 197.0L497.6 197.4L498.2 196.2L498.8 196.3L499.4 198.8L500.0 198.4L500.6 199.9L501.2 198.3L501.8 198.8L502.4 197.9L503.0 199.4L503.6 196.7L504.2 197.9L504.8 198.0L505.4 197.9L506.0 197.3L506.6 199.2L507.2 199.4L507.8 196.9L508.4 197.8L509.0 197.3L509.6 200.0L510.2 198.0L510.8 196.4L511.4 198.4L512.0 198.7L512.6 197.3L513.2 196.3L513.8 200.0L514.4 199.8L515.0 198.3L515.6 198.0L516.2 195.7L516.8 197.2L517.4 198.4L518.0 199.8L518.6 199.8L519.2 197.8L519.8 196.9L520.4 199.5L521.0 197.7L521.6 197.2L522.2 197.8L522.8 197.2L523.4 196.6L524.0 198.3L524.6 197.3L525.2 198.3L525.8 197.9L526.4 196.1L527.0 197.7L527.6 197.3L528.2 198.3L528.8 196.1L529.4 198.7L530.0 197.2L530.6 197.6L531.2 197.4L531.8 199.7L532.4 197.5L533.0 200.2L533.6 198.6L534.2 198.9L534.8 197.4L535.4 199.5L536.0 199.0L536.6 197.6L537.2 199.6L537.8 196.3L538.4 198.4L539.0 199.3L539.6 199.2L540.2 196.4L540.8 199.5L541.4 199.3L542.0 196.0L542.6 196.3L543.2 198.4L543.8 199.4L544.4 198.6L545.0 197.1L545.6 198.7L546.2 197.4L546.8 198.2L547.4 196.6L548.0 199.5L548.6 199.6L549.2 195.9L549.8 197.1L550.4 196.1L551.0 198.4L551.6 197.4L552.2 196.8L552.8 198.3L553.4 197.7L554.0 198.2L554.6 197.3L555.2 197.7L555.8 198.4L556.4 198.2L557.0 198.1L557.6 199.2L558.2 198.1L558.8 199.3L559.4 199.3L560.0 197.6L560.6 197.1L561.2 199.0L561.8 198.0L562.4 198.9L563.0 199.1L563.6 198.1L564.2 197.8L564.8 200.0L565.4 200.6L566.0 198.9L566.6 198.1L567.2 200.1L567.8 196.9L568.4 200.3L569.0 200.2L569.6 200.2L570.2 196.5L570.8 200.4L571.4 198.3L572.0 198.3L572.6 197.4L573.2 196.3L573.8 199.6L574.4 198.1L575.0 199.4L575.6 197.7L576.2 199.2L576.8 199.5L577.4 196.1L578.0 198.9L578.6 198.2L579.2 199.2L579.8 196.4L580.4 197.3L581.0 199.2L581.6 196.6L582.2 198.1L582.8 197.6L583.4 196.2L584.0 197.9L584.6 196.4L585.2 198.7L585.8 196.8L586.4 198.2L587.0 198.2L587.6 199.1L588.2 199.0L588.8 196.8L589.4 198.4L590.0 196.8L590.6 195.3L591.2 196.6L591.8 194.9L592.4 196.2L593.0 194.9L593.6 197.7L594.2 195.3L594.8 195.3L595.4 198.3L596.0 196.4L596.6 195.2L597.2 195.6L597.8 195.6L598.4 194.9L599.0 199.0L599.6 197.1L600.2 196.5L600.8 197.1L601.4 197.2L602.0 196.5L602.6 197.3L603.2 196.8L603.8 194.8L604.4 195.1L605.0 196.6L605.6 195.3L606.2 196.8L606.8 197.7L607.4 195.2L608.0 197.0L608.6 195.9L609.2 194.4L609.8 197.0L610.4 197.8L611.0 197.8L611.6 198.0L612.2 196.8L612.8 196.5L613.4 197.7L614.0 196.7L614.6 194.6L615.2 196.0L615.8 194.6L616.4 196.5L617.0 193.6L617.6 194.3L618.2 193.0L618.8 196.0L619.4 194.2L620.0 196.3L620.6 193.4L621.2 192.4L621.8 194.5L622.4 192.5L623.0 193.2L623.6 194.0L624.2 195.1L624.8 194.3L625.4 193.9L626.0 194.7L626.6 194.5L627.2 194.6L627.8 194.6L628.4 191.5L629.0 192.1L629.6 192.6L630.2 194.0L630.8 192.6"/>
<path class="k" d="M394.5 200.6L400.0 199.9L405.0 198.6L409.0 197.4L413.0 196.9L414.1 196.4L415.2 197.4L416.3 196.6L417.4 197.0L418.5 196.8L419.6 196.3L420.7 197.0L421.8 197.0L422.9 196.0L424.0 196.0L425.1 197.1L426.2 196.6L427.3 196.1L428.4 197.1L429.5 196.6L430.6 196.6L431.7 195.9L432.8 196.4L433.9 196.2L435.0 197.2L436.1 196.8L437.2 197.2L438.3 197.2L439.4 198.0L440.0 197.1L440.6 195.5L441.2 199.6L441.8 197.8L442.4 199.4L443.0 198.6L443.6 196.4L444.2 197.4L444.8 199.2L445.4 198.4L446.0 199.3L446.6 199.4L447.2 200.8L447.8 199.5L448.4 200.8L449.0 201.6L449.6 200.5L450.2 198.2L450.8 199.5L451.4 200.5L452.0 202.8L452.6 200.9L453.2 200.0L453.8 200.5L454.4 200.1L455.0 202.6L455.6 201.9L456.2 201.8L456.8 199.8L457.4 201.7L458.0 203.1L458.6 199.6L459.2 200.8L459.8 202.1L460.4 199.4L461.0 202.3L461.6 200.7L462.2 200.7L462.8 198.6L463.4 201.8L464.0 201.7L464.6 199.3L465.2 200.7L465.8 199.9L466.4 200.8L467.0 198.5L467.6 200.1L468.2 201.5L468.8 200.1L469.4 200.3L470.0 198.1L470.6 198.4L471.2 199.1L471.8 200.9L472.4 198.0L473.0 201.4L473.6 201.4L474.2 200.7L474.8 200.3L475.4 199.7L476.0 200.3L476.6 199.3L477.2 197.7L477.8 200.4L478.4 197.5L479.0 198.1L479.6 199.0L480.2 197.9L480.8 199.0L481.4 197.9L482.0 200.8L482.6 197.9L483.2 201.2L483.8 198.9L484.4 197.3L485.0 198.4L485.6 197.8L486.2 197.7L486.8 200.3L487.4 199.2L488.0 200.9L488.6 199.9L489.2 200.6L489.8 200.1L490.4 200.5L491.0 197.9L491.6 199.0L492.2 197.7L492.8 200.4L493.4 197.4L494.0 199.8L494.6 197.8L495.2 199.6L495.8 198.4L496.4 200.2L497.0 200.1L497.6 200.5L498.2 201.2L498.8 198.2L499.4 200.3L500.0 200.5L500.6 200.2L501.2 200.0L501.8 200.3L502.4 199.9L503.0 200.3L503.6 198.3L504.2 199.4L504.8 200.8L505.4 197.6L506.0 199.3L506.6 197.9L507.2 199.7L507.8 198.4L508.4 200.1L509.0 198.3L509.6 199.3L510.2 198.2L510.8 199.1L511.4 199.5L512.0 198.4L512.6 199.4L513.2 200.0L513.8 199.2L514.4 198.8L515.0 199.9L515.6 199.8L516.2 200.6L516.8 199.0L517.4 197.4L518.0 198.6L518.6 197.3L519.2 197.1L519.8 200.8L520.4 200.5L521.0 197.8L521.6 200.2L522.2 197.8L522.8 200.3L523.4 198.2L524.0 197.9L524.6 197.1L525.2 199.5L525.8 198.6L526.4 198.4L527.0 198.1L527.6 198.5L528.2 200.5L528.8 198.5L529.4 199.0L530.0 200.1L530.6 200.7L531.2 198.9L531.8 197.7L532.4 200.8L533.0 199.6L533.6 197.9L534.2 197.4L534.8 199.7L535.4 199.6L536.0 199.8L536.6 198.3L537.2 201.1L537.8 197.1L538.4 200.5L539.0 199.5L539.6 200.6L540.2 200.9L540.8 199.3L541.4 198.5L542.0 198.9L542.6 198.7L543.2 200.8L543.8 198.7L544.4 199.2L545.0 200.6L545.6 200.4L546.2 199.3L546.8 199.8L547.4 200.8L548.0 197.8L548.6 198.7L549.2 198.6L549.8 199.7L550.4 198.6L551.0 199.8L551.6 197.4L552.2 200.4L552.8 197.2L553.4 198.2L554.0 200.0L554.6 199.5L555.2 197.6L555.8 199.8L556.4 198.6L557.0 201.2L557.6 200.0L558.2 200.9L558.8 199.7L559.4 197.3L560.0 201.1L560.6 199.0L561.2 200.9L561.8 199.5L562.4 199.8L563.0 199.0L563.6 200.3L564.2 198.2L564.8 199.3L565.4 199.0L566.0 201.3L566.6 198.1L567.2 197.7L567.8 199.2L568.4 199.1L569.0 198.9L569.6 201.2L570.2 200.7L570.8 200.7L571.4 197.9L572.0 201.1L572.6 200.5L573.2 200.4L573.8 197.9L574.4 197.9L575.0 199.6L575.6 200.2L576.2 198.2L576.8 200.9L577.4 200.5L578.0 198.6L578.6 200.1L579.2 198.3L579.8 197.8L580.4 197.1L581.0 197.9L581.6 197.1L582.2 200.8L582.8 197.3L583.4 200.5L584.0 196.8L584.6 197.4L585.2 200.3L585.8 200.5L586.4 199.2L587.0 198.3L587.6 198.0L588.2 199.9L588.8 196.4L589.4 198.7L590.0 196.4L590.6 197.6L591.2 198.0L591.8 200.0L592.4 200.5L593.0 199.6L593.6 197.1L594.2 200.4L594.8 196.6L595.4 200.0L596.0 197.7L596.6 197.3L597.2 199.0L597.8 199.2L598.4 199.0L599.0 200.3L599.6 197.7L600.2 198.2L600.8 197.6L601.4 198.3L602.0 197.4L602.6 197.9L603.2 197.6L603.8 198.9L604.4 199.8L605.0 199.8L605.6 198.6L606.2 199.4L606.8 196.4L607.4 198.9L608.0 197.8L608.6 196.5L609.2 199.9L609.8 200.1L610.4 199.3L611.0 198.3L611.6 196.3L612.2 196.1L612.8 196.6L613.4 198.8L614.0 196.8L614.6 199.3L615.2 197.0L615.8 199.3L616.4 198.0L617.0 198.6L617.6 197.3L618.2 195.5L618.8 198.2L619.4 197.2L620.0 198.6L620.6 196.5L621.2 194.5L621.8 198.2L622.4 196.2L623.0 196.1L623.6 197.8L624.2 197.3L624.8 194.3L625.4 194.4L626.0 195.3L626.6 193.9L627.2 197.4L627.8 194.4L628.4 195.3L629.0 195.2L629.6 194.3L630.2 194.7L630.8 195.4"/>
<path class="k" d="M394.5 202.5L400.0 201.6L405.0 200.0L409.0 198.7L413.0 198.0L414.1 198.0L415.2 197.9L416.3 197.2L417.4 197.7L418.5 197.5L419.6 197.1L420.7 196.7L421.8 197.2L422.9 197.2L424.0 197.2L425.1 197.6L426.2 197.2L427.3 197.3L428.4 196.9L429.5 197.6L430.6 197.6L431.7 197.7L432.8 197.2L433.9 197.2L435.0 197.3L436.1 198.1L437.2 197.6L438.3 198.6L439.4 198.7L440.0 197.5L440.6 199.1L441.2 197.7L441.8 198.4L442.4 196.9L443.0 198.2L443.6 200.8L444.2 200.2L444.8 200.0L445.4 200.3L446.0 200.6L446.6 200.9L447.2 198.9L447.8 200.0L448.4 200.0L449.0 200.3L449.6 202.1L450.2 199.7L450.8 200.4L451.4 203.4L452.0 201.9L452.6 201.3L453.2 202.5L453.8 202.0L454.4 200.8L455.0 203.9L455.6 204.8L456.2 203.9L456.8 202.9L457.4 201.4L458.0 200.9L458.6 202.2L459.2 202.9L459.8 203.3L460.4 199.5L461.0 202.0L461.6 203.0L462.2 202.5L462.8 199.0L463.4 199.2L464.0 202.4L464.6 200.7L465.2 199.8L465.8 199.7L466.4 200.1L467.0 198.8L467.6 202.3L468.2 200.5L468.8 202.1L469.4 199.5L470.0 201.5L470.6 199.6L471.2 201.0L471.8 199.3L472.4 200.0L473.0 199.3L473.6 201.4L474.2 200.3L474.8 201.8L475.4 199.6L476.0 200.4L476.6 202.4L477.2 199.6L477.8 202.0L478.4 198.8L479.0 199.1L479.6 198.3L480.2 201.9L480.8 199.6L481.4 202.1L482.0 200.7L482.6 201.4L483.2 199.1L483.8 202.2L484.4 200.4L485.0 201.4L485.6 201.9L486.2 199.1L486.8 200.7L487.4 200.7L488.0 201.5L488.6 200.1L489.2 201.6L489.8 202.1L490.4 199.4L491.0 199.9L491.6 200.8L492.2 200.8L492.8 202.1L493.4 199.9L494.0 199.3L494.6 198.3L495.2 199.4L495.8 201.2L496.4 201.1L497.0 199.9L497.6 202.3L498.2 199.7L498.8 200.8L499.4 198.7L500.0 199.4L500.6 201.6L501.2 198.7L501.8 200.3L502.4 198.9L503.0 199.3L503.6 198.5L504.2 200.3L504.8 202.4L505.4 201.5L506.0 199.6L506.6 200.2L507.2 201.4L507.8 200.7L508.4 199.6L509.0 199.8L509.6 202.1L510.2 200.5L510.8 200.5L511.4 200.6L512.0 201.3L512.6 200.0L513.2 199.9L513.8 199.4L514.4 199.7L515.0 200.2L515.6 198.8L516.2 198.4L516.8 199.2L517.4 200.2L518.0 198.5L518.6 198.1L519.2 199.7L519.8 199.0L520.4 198.2L521.0 202.1L521.6 201.9L522.2 200.4L522.8 201.3L523.4 200.4L524.0 200.7L524.6 198.5L525.2 201.5L525.8 199.7L526.4 198.6L527.0 201.6L527.6 202.0L528.2 201.8L528.8 200.5L529.4 199.8L530.0 200.7L530.6 199.4L531.2 200.3L531.8 201.7L532.4 200.5L533.0 200.5L533.6 201.3L534.2 202.4L534.8 200.5L535.4 202.1L536.0 201.7L536.6 202.0L537.2 199.6L537.8 199.3L538.4 199.6L539.0 199.7L539.6 199.2L540.2 200.0L540.8 199.3L541.4 199.0L542.0 201.8L542.6 199.6L543.2 199.6L543.8 198.6L544.4 201.5L545.0 201.6L545.6 198.9L546.2 201.2L546.8 199.4L547.4 199.0L548.0 198.8L548.6 199.3L549.2 200.2L549.8 199.1L550.4 201.4L551.0 198.8L551.6 202.0L552.2 199.2L552.8 200.6L553.4 199.0L554.0 199.9L554.6 201.6L555.2 200.1L555.8 201.9L556.4 199.8L557.0 199.1L557.6 202.2L558.2 200.2L558.8 199.1L559.4 199.3L560.0 201.9L560.6 202.5L561.2 201.5L561.8 201.6L562.4 200.3L563.0 202.7L563.6 200.8L564.2 198.6L564.8 201.7L565.4 202.7L566.0 201.2L566.6 199.1L567.2 199.1L567.8 202.3L568.4 200.8L569.0 201.5L569.6 199.3L570.2 200.9L570.8 199.5L571.4 201.6L572.0 199.3L572.6 201.6L573.2 202.1L573.8 199.1L574.4 200.3L575.0 202.6L575.6 200.3L576.2 200.1L576.8 198.5L577.4 200.0L578.0 199.8L578.6 202.4L579.2 198.6L579.8 200.3L580.4 199.0L581.0 198.0L581.6 201.9L582.2 201.4L582.8 198.3L583.4 201.1L584.0 198.0L584.6 200.6L585.2 200.1L585.8 200.5L586.4 200.9L587.0 198.6L587.6 198.9L588.2 198.4L588.8 199.6L589.4 199.8L590.0 197.7L590.6 201.2L591.2 200.2L591.8 200.7L592.4 200.6L593.0 199.3L593.6 201.3L594.2 199.3L594.8 198.1L595.4 198.2L596.0 200.3L596.6 201.5L597.2 202.2L597.8 201.6L598.4 200.6L599.0 200.2L599.6 201.8L600.2 201.3L600.8 201.7L601.4 201.7L602.0 199.4L602.6 202.0L603.2 200.6L603.8 198.5L604.4 201.6L605.0 201.2L605.6 200.8L606.2 200.3L606.8 199.0L607.4 199.4L608.0 200.9L608.6 198.4L609.2 200.7L609.8 201.8L610.4 201.9L611.0 200.2L611.6 198.3L612.2 198.6L612.8 197.7L613.4 200.5L614.0 198.1L614.6 200.3L615.2 197.7L615.8 199.9L616.4 199.0L617.0 199.5L617.6 199.3L618.2 197.3L618.8 198.7L619.4 200.0L620.0 196.5L620.6 198.5L621.2 199.0L621.8 198.3L622.4 197.0L623.0 196.8L623.6 198.1L624.2 198.7L624.8 200.1L625.4 195.9L626.0 197.0L626.6 196.6L627.2 195.7L627.8 198.8L628.4 196.8L629.0 196.1L629.6 197.5L630.2 199.2L630.8 196.1"/>
<path class="k" d="M394.5 204.4L400.0 203.1L405.0 200.9L409.0 199.0L413.0 198.1L414.1 197.8L415.2 198.2L416.3 197.6L417.4 197.7L418.5 198.4L419.6 198.1L420.7 198.2L421.8 198.0L422.9 198.1L424.0 197.7L425.1 198.2L426.2 198.7L427.3 197.9L428.4 198.7L429.5 198.8L430.6 198.2L431.7 198.1L432.8 198.1L433.9 198.9L435.0 199.1L436.1 198.6L437.2 198.8L438.3 199.6L439.4 199.3L440.0 197.6L440.6 199.3L441.2 200.8L441.8 198.2L442.4 198.0L443.0 199.2L443.6 198.5L444.2 198.7L444.8 201.2L445.4 202.2L446.0 201.2L446.6 200.7L447.2 202.4L447.8 203.3L448.4 199.7L449.0 200.2L449.6 200.2L450.2 200.6L450.8 204.1L451.4 204.7L452.0 204.1L452.6 202.6L453.2 201.7L453.8 202.2L454.4 203.6L455.0 203.7L455.6 204.4L456.2 203.2L456.8 203.2L457.4 203.3L458.0 203.8L458.6 202.0L459.2 204.5L459.8 201.4L460.4 201.4L461.0 204.1L461.6 201.5L462.2 201.3L462.8 201.9L463.4 200.6L464.0 199.7L464.6 200.6L465.2 203.1L465.8 199.3L466.4 202.3L467.0 199.7L467.6 199.4L468.2 201.9L468.8 200.9L469.4 202.1L470.0 201.8L470.6 199.9L471.2 201.0L471.8 199.4L472.4 202.2L473.0 202.9L473.6 200.5L474.2 202.3L474.8 200.8L475.4 202.6L476.0 202.7L476.6 201.4L477.2 200.6L477.8 201.8L478.4 199.2L479.0 199.5L479.6 200.0L480.2 199.9L480.8 201.8L481.4 200.3L482.0 202.8L482.6 203.2L483.2 202.2L483.8 202.7L484.4 200.1L485.0 200.7L485.6 199.1L486.2 202.5L486.8 201.8L487.4 202.9L488.0 201.8L488.6 203.2L489.2 202.5L489.8 200.7L490.4 200.8L491.0 200.5L491.6 201.6L492.2 201.4L492.8 199.4L493.4 199.2L494.0 200.8L494.6 202.5L495.2 199.4L495.8 203.5L496.4 201.7L497.0 203.4L497.6 200.5L498.2 202.4L498.8 201.9L499.4 200.8L500.0 199.8L500.6 200.6L501.2 200.7L501.8 200.7L502.4 202.1L503.0 203.5L503.6 201.1L504.2 202.6L504.8 203.3L505.4 202.5L506.0 202.4L506.6 200.7L507.2 200.4L507.8 203.1L508.4 201.6L509.0 201.9L509.6 203.0L510.2 200.4L510.8 201.5L511.4 200.1L512.0 202.1L512.6 200.8L513.2 202.1L513.8 199.7L514.4 199.7L515.0 200.1L515.6 200.6L516.2 202.5L516.8 201.7L517.4 202.9L518.0 199.3L518.6 201.0L519.2 201.6L519.8 202.0L520.4 201.4L521.0 200.4L521.6 199.8L522.2 199.4L522.8 199.9L523.4 199.7L524.0 199.6L524.6 202.2L525.2 201.5L525.8 200.5L526.4 199.9L527.0 202.4L527.6 199.8L528.2 201.0L528.8 200.3L529.4 202.2L530.0 199.9L530.6 199.8L531.2 200.8L531.8 202.4L532.4 202.1L533.0 200.8L533.6 201.5L534.2 202.0L534.8 200.6L535.4 199.9L536.0 202.4L536.6 201.3L537.2 202.3L537.8 200.2L538.4 201.5L539.0 202.5L539.6 200.2L540.2 202.9L540.8 202.3L541.4 200.6L542.0 201.7L542.6 202.5L543.2 203.1L543.8 202.3L544.4 200.8L545.0 202.4L545.6 202.9L546.2 200.3L546.8 199.5L547.4 200.9L548.0 202.4L548.6 199.5L549.2 199.6L549.8 199.8L550.4 202.4L551.0 199.3L551.6 200.5L552.2 200.9L552.8 202.5L553.4 203.0L554.0 202.4L554.6 203.1L555.2 200.7L555.8 200.6L556.4 201.6L557.0 202.3L557.6 200.8L558.2 201.1L558.8 203.0L559.4 202.7L560.0 203.5L560.6 200.4L561.2 203.7L561.8 201.1L562.4 202.5L563.0 203.0L563.6 203.1L564.2 202.8L564.8 203.7L565.4 200.6L566.0 201.1L566.6 202.9L567.2 201.8L567.8 200.2L568.4 203.8L569.0 203.3L569.6 202.3L570.2 200.5L570.8 200.3L571.4 202.8L572.0 202.7L572.6 199.9L573.2 202.5L573.8 199.9L574.4 199.8L575.0 200.5L575.6 200.7L576.2 201.5L576.8 200.6L577.4 200.4L578.0 201.4L578.6 201.7L579.2 203.3L579.8 203.1L580.4 199.6L581.0 203.1L581.6 201.6L582.2 200.6L582.8 201.2L583.4 200.7L584.0 199.7L584.6 202.8L585.2 201.9L585.8 199.7L586.4 201.8L587.0 202.6L587.6 199.4L588.2 202.8L588.8 202.5L589.4 202.2L590.0 199.7L590.6 199.7L591.2 202.5L591.8 200.4L592.4 201.7L593.0 200.7L593.6 200.4L594.2 199.8L594.8 199.9L595.4 203.1L596.0 202.4L596.6 203.8L597.2 203.9L597.8 201.4L598.4 202.5L599.0 202.8L599.6 203.0L600.2 204.2L600.8 203.8L601.4 201.0L602.0 202.4L602.6 200.9L603.2 201.7L603.8 203.6L604.4 203.7L605.0 200.2L605.6 201.2L606.2 204.1L606.8 202.2L607.4 204.0L608.0 200.0L608.6 200.3L609.2 202.4L609.8 201.6L610.4 200.4L611.0 199.8L611.6 201.3L612.2 201.8L612.8 202.3L613.4 201.2L614.0 201.9L614.6 200.5L615.2 202.7L615.8 202.9L616.4 202.5L617.0 203.0L617.6 200.2L618.2 202.1L618.8 202.0L619.4 199.2L620.0 199.7L620.6 199.5L621.2 201.1L621.8 200.3L622.4 198.6L623.0 201.0L623.6 200.9L624.2 201.9L624.8 201.9L625.4 201.7L626.0 199.5L626.6 200.8L627.2 200.9L627.8 201.8L628.4 199.6L629.0 199.8L629.6 200.1L630.2 200.8L630.8 200.4"/>
<path class="k" d="M394.5 208.2L400.0 206.3L405.0 203.1L409.0 200.3L413.0 198.9L414.1 198.4L415.2 199.2L416.3 198.4L417.4 198.3L418.5 198.6L419.6 198.2L420.7 198.6L421.8 198.8L422.9 199.6L424.0 199.0L425.1 199.4L426.2 198.9L427.3 199.2L428.4 199.1L429.5 199.7L430.6 198.7L431.7 198.6L432.8 198.8L433.9 199.2L435.0 199.5L436.1 199.2L437.2 200.0L438.3 199.9L439.4 200.4L440.0 200.8L440.6 199.6L441.2 201.9L441.8 199.2L442.4 199.0L443.0 202.1L443.6 201.8L444.2 202.8L444.8 200.9L445.4 199.8L446.0 202.3L446.6 203.5L447.2 200.4L447.8 200.5L448.4 204.5L449.0 204.7L449.6 202.1L450.2 204.6L450.8 205.3L451.4 203.5L452.0 204.7L452.6 203.0L453.2 203.0L453.8 206.0L454.4 205.8L455.0 205.5L455.6 204.3L456.2 206.0L456.8 204.5L457.4 205.9L458.0 202.3L458.6 205.9L459.2 204.6L459.8 205.0L460.4 205.4L461.0 205.2L461.6 201.2L462.2 204.5L462.8 202.0L463.4 203.5L464.0 202.7L464.6 203.9L465.2 200.8L465.8 203.9L466.4 203.6L467.0 200.2L467.6 201.0L468.2 200.4L468.8 201.5L469.4 203.4L470.0 202.1L470.6 204.1L471.2 201.5L471.8 203.7L472.4 201.9L473.0 201.6L473.6 201.6L474.2 203.1L474.8 202.6L475.4 200.5L476.0 203.4L476.6 203.8L477.2 203.4L477.8 203.6L478.4 202.9L479.0 202.9L479.6 202.3L480.2 201.9L480.8 201.4L481.4 201.3L482.0 202.9L482.6 200.6L483.2 201.6L483.8 201.3L484.4 203.3L485.0 203.4L485.6 202.3L486.2 200.6L486.8 201.8L487.4 202.7L488.0 200.3L488.6 200.2L489.2 203.9L489.8 200.5L490.4 200.6L491.0 202.8L491.6 202.2L492.2 202.0L492.8 200.4L493.4 201.5L494.0 202.3L494.6 203.3L495.2 204.4L495.8 202.5L496.4 204.4L497.0 204.1L497.6 202.4L498.2 200.7L498.8 203.9L499.4 202.4L500.0 201.4L500.6 200.8L501.2 203.6L501.8 204.4L502.4 202.7L503.0 202.4L503.6 204.5L504.2 201.5L504.8 202.1L505.4 202.2L506.0 203.8L506.6 201.4L507.2 201.7L507.8 204.4L508.4 203.1L509.0 201.3L509.6 203.1L510.2 201.7L510.8 201.4L511.4 200.5L512.0 203.9L512.6 202.9L513.2 202.5L513.8 202.7L514.4 201.7L515.0 203.6L515.6 201.8L516.2 200.5L516.8 202.3L517.4 202.7L518.0 202.9L518.6 200.3L519.2 201.7L519.8 203.9L520.4 203.9L521.0 200.9L521.6 201.9L522.2 203.6L522.8 204.2L523.4 201.8L524.0 200.7L524.6 201.6L525.2 202.5L525.8 201.6L526.4 203.4L527.0 202.3L527.6 201.8L528.2 202.1L528.8 202.2L529.4 201.0L530.0 200.8L530.6 203.7L531.2 203.5L531.8 202.2L532.4 202.9L533.0 201.7L533.6 201.5L534.2 201.5L534.8 202.2L535.4 200.7L536.0 204.5L536.6 204.6L537.2 201.4L537.8 200.6L538.4 203.0L539.0 204.3L539.6 200.7L540.2 201.1L540.8 202.8L541.4 202.3L542.0 202.8L542.6 204.1L543.2 201.0L543.8 204.0L544.4 203.6L545.0 201.1L545.6 202.4L546.2 200.4L546.8 202.4L547.4 201.1L548.0 202.8L548.6 201.9L549.2 200.6L549.8 200.6L550.4 200.6L551.0 200.6L551.6 202.6L552.2 202.6L552.8 202.1L553.4 204.5L554.0 202.4L554.6 203.5L555.2 203.9L555.8 201.7L556.4 202.3L557.0 204.4L557.6 201.3L558.2 204.7L558.8 204.7L559.4 204.3L560.0 203.4L560.6 204.3L561.2 203.4L561.8 203.6L562.4 204.3L563.0 203.3L563.6 202.7L564.2 201.7L564.8 201.0L565.4 203.1L566.0 203.3L566.6 203.8L567.2 203.5L567.8 201.5L568.4 201.2L569.0 202.8L569.6 203.5L570.2 204.9L570.8 204.0L571.4 203.4L572.0 204.0L572.6 201.1L573.2 201.0L573.8 202.0L574.4 202.5L575.0 201.1L575.6 204.6L576.2 204.2L576.8 204.2L577.4 201.9L578.0 203.2L578.6 204.0L579.2 202.7L579.8 204.2L580.4 203.5L581.0 204.5L581.6 203.7L582.2 202.2L582.8 203.7L583.4 200.6L584.0 202.0L584.6 203.5L585.2 202.9L585.8 201.0L586.4 202.4L587.0 201.6L587.6 203.5L588.2 203.5L588.8 203.6L589.4 201.3L590.0 201.0L590.6 202.9L591.2 204.5L591.8 201.4L592.4 203.3L593.0 204.5L593.6 202.0L594.2 203.4L594.8 202.5L595.4 205.9L596.0 204.2L596.6 202.7L597.2 205.4L597.8 205.8L598.4 203.5L599.0 203.1L599.6 205.5L600.2 205.5L600.8 204.5L601.4 205.2L602.0 204.9L602.6 202.8L603.2 202.8L603.8 204.4L604.4 203.0L605.0 205.1L605.6 203.8L606.2 203.1L606.8 202.7L607.4 202.9L608.0 204.7L608.6 204.0L609.2 202.9L609.8 203.6L610.4 204.0L611.0 203.2L611.6 205.4L612.2 205.2L612.8 202.4L613.4 204.4L614.0 203.9L614.6 203.3L615.2 202.9L615.8 204.1L616.4 204.1L617.0 204.5L617.6 204.7L618.2 203.5L618.8 203.8L619.4 201.6L620.0 204.3L620.6 203.3L621.2 202.7L621.8 202.6L622.4 202.8L623.0 200.9L623.6 204.2L624.2 203.8L624.8 201.3L625.4 200.3L626.0 201.3L626.6 200.3L627.2 201.8L627.8 201.3L628.4 200.5L629.0 201.7L629.6 203.4L630.2 200.7L630.8 199.8"/>
<path class="k" d="M394.5 237.2L395.1 237.2L395.7 237.2L396.3 237.3L396.9 237.3L397.5 237.3L398.1 237.3L398.7 237.3L399.3 237.4L399.9 237.4L400.5 237.4L401.1 237.5L401.7 237.5L402.3 237.5L402.9 237.6L403.5 237.6L404.1 237.7L404.7 237.8L405.3 237.9L405.9 238.0L406.5 238.1L407.1 238.2L407.7 238.3L408.3 238.4L408.9 238.5L409.5 238.5L410.1 238.6L410.7 238.7L411.3 238.7L411.9 238.8L412.5 238.8L413.1 238.8L413.7 238.8L414.3 238.8L414.9 238.8L415.5 238.8L416.1 238.7L416.7 238.7L417.3 238.7L417.9 238.6L418.5 238.5L419.1 238.5L419.7 238.4L420.3 238.3L420.9 238.1L421.5 238.0L422.1 237.8L422.7 237.6L423.3 237.4L423.9 237.1L424.5 236.8L425.1 236.4L425.7 236.1L426.3 235.7L426.9 235.4L427.5 235.1L428.1 234.8L428.7 234.5L429.3 234.3L429.9 234.1L430.5 233.8L431.1 233.6L431.7 233.4L432.3 233.2L432.9 233.0L433.5 232.7L434.1 232.5L434.7 232.3L435.3 232.1L435.9 231.9L436.5 231.7L437.1 231.5L437.7 231.3L438.3 231.1L438.9 230.8L439.5 230.6L440.1 230.3L440.7 230.0L441.3 229.6L441.9 229.2L442.5 228.8L443.1 228.4L443.7 228.0L444.3 227.6L444.9 227.2L445.5 226.3L446.1 226.3L446.7 225.8L447.3 226.2L447.9 226.2L448.5 225.7L449.1 225.5L449.7 225.8L450.3 225.5L450.9 224.8L451.5 224.3L452.1 223.7L452.7 223.2L453.3 222.7L453.9 222.6L454.5 221.9L455.1 220.8L455.7 220.3L456.3 218.8L456.9 217.4L457.5 214.1L458.1 213.1L458.7 209.3L459.3 217.5L459.9 217.6L460.5 217.2L461.1 222.2L461.7 221.8L462.3 221.3L462.9 215.6L463.5 209.4L464.1 212.8L464.7 209.9L465.3 209.4L465.9 205.1L466.5 208.3L467.1 212.2L467.7 212.7L468.3 213.0L468.9 213.4L469.5 211.7L470.1 215.8L470.7 215.4L471.3 216.7L471.9 212.4L472.5 210.4L473.1 212.4L473.7 215.7L474.3 213.3L474.9 212.5L475.5 211.3L476.1 213.8L476.7 208.9L477.3 209.4L477.9 212.5L478.5 212.5L479.1 205.9L479.7 208.3L480.3 214.6L480.9 212.6L481.5 209.3L482.1 211.9L482.7 214.1L483.3 216.3L483.9 213.6L484.5 214.6L485.1 210.5L485.7 211.2L486.3 207.9L486.9 208.2L487.5 215.2L488.1 206.9L488.7 209.8L489.3 213.3L489.9 211.1L490.5 214.2L491.1 211.0L491.7 204.9L492.3 207.6L492.9 211.8L493.5 208.5L494.1 210.4L494.7 211.2L495.3 212.8L495.9 211.4L496.5 214.5L497.1 209.5L497.7 211.8L498.3 213.5L498.9 216.4L499.5 217.7L500.1 212.3L500.7 216.4L501.3 220.1L501.9 213.8L502.5 216.2L503.1 214.7L503.7 215.8L504.3 215.2L504.9 216.4L505.5 216.6L506.1 212.5L506.7 216.4L507.3 213.8L507.9 211.7L508.5 214.5L509.1 219.4L509.7 219.5L510.3 216.1L510.9 213.2L511.5 211.0L512.1 215.0L512.7 217.7L513.3 213.4L513.9 213.8L514.5 213.4L515.1 216.4L515.7 212.8L516.3 218.2L516.9 215.9L517.5 216.9L518.1 218.8L518.7 214.6L519.3 215.5L519.9 213.5L520.5 212.0L521.1 212.2L521.7 212.1L522.3 218.4L522.9 218.8L523.5 219.5L524.1 214.8L524.7 217.1L525.3 218.0L525.9 214.0L526.5 219.0L527.1 216.8L527.7 211.5L528.3 216.3L528.9 218.7L529.5 219.2L530.1 213.6L530.7 210.7L531.3 214.7L531.9 214.3L532.5 216.0L533.1 214.5L533.7 217.6L534.3 211.6L534.9 216.1L535.5 214.9L536.1 216.6L536.7 212.9L537.3 214.6L537.9 217.8L538.5 214.7L539.1 218.2L539.7 219.1L540.3 219.5L540.9 216.9L541.5 218.5L542.1 219.7L542.7 220.5L543.3 215.7L543.9 215.0L544.5 218.1L545.1 216.7L545.7 220.2L546.3 222.6L546.9 214.2L547.5 218.6L548.1 218.5L548.7 214.9L549.3 220.6L549.9 221.3L550.5 215.1L551.1 219.1L551.7 216.4L552.3 218.3L552.9 218.0L553.5 220.9L554.1 217.6L554.7 218.4L555.3 214.7L555.9 215.1L556.5 216.5L557.1 213.4L557.7 214.1L558.3 219.5L558.9 215.9L559.5 213.7L560.1 217.0L560.7 213.5L561.3 214.5L561.9 216.0L562.5 218.9L563.1 218.0L563.7 215.2L564.3 219.7L564.9 216.4L565.5 218.3L566.1 215.0L566.7 212.9L567.3 219.3L567.9 217.9L568.5 217.2L569.1 217.6L569.7 215.7L570.3 220.5L570.9 213.5L571.5 220.1L572.1 214.2L572.7 217.6L573.3 216.2L573.9 220.3L574.5 221.0L575.1 216.4L575.7 217.8L576.3 216.7L576.9 214.1L577.5 220.8L578.1 214.3L578.7 221.5L579.3 219.5L579.9 219.1L580.5 218.2L581.1 215.0L581.7 217.4L582.3 220.6L582.9 219.7L583.5 215.1L584.1 216.4L584.7 214.5L585.3 219.6L585.9 217.6L586.5 218.0L587.1 220.4L587.7 219.8L588.3 220.2L588.9 219.3L589.5 219.9L590.1 220.9L590.7 214.2L591.3 218.7L591.9 219.8L592.5 219.7L593.1 218.6L593.7 218.0L594.3 217.8L594.9 217.9L595.5 216.7L596.1 215.9L596.7 215.1L597.3 212.8L597.9 212.6L598.5 210.0L599.1 208.3L599.7 208.3L600.3 205.6L600.9 205.3L601.5 203.8L602.1 203.0L602.7 203.3L603.3 202.4L603.9 201.4L604.5 202.5L605.1 201.1L605.7 201.0L606.3 201.8L606.9 201.4L607.5 200.6L608.1 200.2L608.7 201.2L609.3 200.0L609.9 201.0L610.5 201.0L611.1 200.7L611.7 200.7L612.0 200.0"/>
<path class="k" d="M394.5 239.5L395.1 239.5L395.7 239.6L396.3 239.6L396.9 239.6L397.5 239.7L398.1 239.7L398.7 239.8L399.3 239.8L399.9 239.8L400.5 239.9L401.1 239.9L401.7 239.9L402.3 240.0L402.9 240.0L403.5 240.0L404.1 240.0L404.7 240.1L405.3 240.1L405.9 240.2L406.5 240.2L407.1 240.2L407.7 240.3L408.3 240.3L408.9 240.3L409.5 240.3L410.1 240.3L410.7 240.4L411.3 240.3L411.9 240.3L412.5 240.3L413.1 240.2L413.7 240.2L414.3 240.1L414.9 240.0L415.5 239.9L416.1 239.8L416.7 239.7L417.3 239.6L417.9 239.5L418.5 239.3L419.1 239.2L419.7 239.1L420.3 239.0L420.9 238.9L421.5 238.8L422.1 238.7L422.7 238.7L423.3 238.6L423.9 238.6L424.5 238.5L425.1 238.5L425.7 238.4L426.3 238.4L426.9 238.3L427.5 238.3L428.1 238.2L428.7 238.1L429.3 238.0L429.9 237.9L430.5 237.7L431.1 237.6L431.7 237.4L432.3 237.2L432.9 237.1L433.5 236.9L434.1 236.7L434.7 236.5L435.3 236.3L435.9 236.1L436.5 235.9L437.1 235.7L437.7 235.4L438.3 235.2L438.9 235.0L439.5 234.7L440.1 234.5L440.7 234.2L441.3 234.0L441.9 233.7L442.5 233.5L443.1 233.2L443.7 233.0L444.3 232.8L444.9 232.5L445.5 233.5L446.1 233.8L446.7 232.3L447.3 231.1L447.9 230.6L448.5 230.5L449.1 229.8L449.7 232.3L450.3 229.0L450.9 232.4L451.5 229.8L452.1 230.4L452.7 230.2L453.3 230.2L453.9 227.7L454.5 230.7L455.1 228.9L455.7 227.5L456.3 228.3L456.9 226.9L457.5 226.5L458.1 225.5L458.7 226.9L459.3 224.8L459.9 225.9L460.5 225.7L461.1 225.5L461.7 224.4L462.3 223.1L462.9 225.1L463.5 223.1L464.1 224.7L464.7 223.5L465.3 224.7L465.9 227.3L466.5 223.8L467.1 226.4L467.7 224.4L468.3 225.1L468.9 226.1L469.5 224.6L470.1 225.5L470.7 225.8L471.3 225.0L471.9 228.1L472.5 225.7L473.1 226.5L473.7 226.8L474.3 227.6L474.9 226.6L475.5 224.3L476.1 227.9L476.7 227.7L477.3 226.7L477.9 224.0L478.5 226.4L479.1 223.9L479.7 227.1L480.3 223.4L480.9 224.0L481.5 225.0L482.1 223.3L482.7 225.1L483.3 222.8L483.9 223.9L484.5 225.3L485.1 222.9L485.7 223.3L486.3 225.0L486.9 226.2L487.5 222.6L488.1 224.3L488.7 225.5L489.3 222.4L489.9 223.5L490.5 225.8L491.1 223.2L491.7 224.8L492.3 224.5L492.9 222.6L493.5 222.5L494.1 222.5L494.7 225.5L495.3 224.9L495.9 223.3L496.5 222.5L497.1 225.4L497.7 224.7L498.3 224.5L498.9 223.9L499.5 223.4L500.1 225.7L500.7 227.4L501.3 224.0L501.9 225.0L502.5 226.8L503.1 226.2L503.7 225.4L504.3 226.1L504.9 225.0L505.5 224.5L506.1 224.8L506.7 227.2L507.3 224.0L507.9 223.9L508.5 227.1L509.1 224.6L509.7 225.9L510.3 224.3L510.9 224.0L511.5 225.8L512.1 223.8L512.7 225.3L513.3 223.5L513.9 223.6L514.5 224.0L515.1 224.8L515.7 225.9L516.3 225.0L516.9 224.7L517.5 227.0L518.1 225.7L518.7 225.2L519.3 225.7L519.9 224.5L520.5 226.8L521.1 225.9L521.7 224.2L522.3 224.5L522.9 222.8L523.5 225.7L524.1 226.2L524.7 224.2L525.3 222.8L525.9 224.5L526.5 225.9L527.1 224.7L527.7 226.2L528.3 225.2L528.9 223.3L529.5 225.1L530.1 225.6L530.7 223.3L531.3 226.3L531.9 223.7L532.5 225.1L533.1 224.2L533.7 225.4L534.3 226.6L534.9 223.8L535.5 225.7L536.1 226.6L536.7 226.7L537.3 224.4L537.9 224.3L538.5 224.8L539.1 225.3L539.7 223.9L540.3 227.0L540.9 226.4L541.5 227.0L542.1 225.6L542.7 226.1L543.3 225.8L543.9 227.0L544.5 226.0L545.1 225.0L545.7 225.0L546.3 227.0L546.9 225.8L547.5 225.3L548.1 226.6L548.7 226.2L549.3 225.2L549.9 226.7L550.5 225.0L551.1 227.5L551.7 225.4L552.3 223.8L552.9 224.0L553.5 225.3L554.1 224.1L554.7 226.2L555.3 222.9L555.9 222.3L556.5 223.5L557.1 222.8L557.7 221.8L558.3 224.7L558.9 222.8L559.5 223.7L560.1 222.6L560.7 224.7L561.3 223.4L561.9 224.9L562.5 221.6L563.1 221.6L563.7 221.5L564.3 223.9L564.9 221.5L565.5 225.4L566.1 225.0L566.7 223.9L567.3 222.7L567.9 224.4L568.5 223.6L569.1 222.9L569.7 223.0L570.3 226.0L570.9 225.3L571.5 223.6L572.1 225.6L572.7 223.6L573.3 225.2L573.9 225.0L574.5 223.4L575.1 224.0L575.7 224.7L576.3 225.0L576.9 227.3L577.5 227.3L578.1 226.5L578.7 225.4L579.3 224.2L579.9 226.1L580.5 227.2L581.1 225.4L581.7 224.5L582.3 226.2L582.9 225.2L583.5 225.0L584.1 225.1L584.7 228.2L585.3 225.5L585.9 226.7L586.5 226.9L587.1 228.2L587.7 227.9L588.3 227.2L588.9 228.6L589.5 226.6L590.1 227.7L590.7 225.1L591.3 228.9L591.9 228.2L592.5 228.0L593.1 225.5L593.7 228.0L594.3 227.1L594.9 228.4L595.5 224.3L596.1 224.4L596.7 227.8L597.3 225.7L597.9 225.4L598.5 223.9L599.1 224.2L599.7 224.5L600.3 225.6L600.9 225.5L601.5 223.1L602.1 225.5L602.7 225.8L603.3 223.4L603.9 224.3L604.5 225.3L605.1 224.6L605.7 223.6L606.3 222.3L606.9 222.4L607.5 222.0L608.1 221.7L608.7 222.0L609.3 224.4L609.9 222.5L610.5 224.9L611.1 221.1L611.7 224.0L612.3 223.2L612.9 223.1L613.5 222.1L614.1 222.8L614.7 221.3L615.3 222.9L615.9 223.5L616.5 220.8L617.1 222.5L617.7 221.8L618.3 220.0L618.9 219.9L619.5 222.6L620.1 219.8L620.7 220.4L621.3 222.3L621.9 218.8L622.5 221.5L623.1 221.0L623.7 218.4L624.3 219.7L624.9 220.2L625.5 221.8L626.1 218.0L626.7 220.5L627.3 220.5L627.9 218.2L628.5 218.1L629.1 220.5L629.7 219.7L630.3 218.5L630.9 217.8L631.0 219.0"/>
<path class="k" d="M394.5 241.9L395.1 241.8L395.7 241.8L396.3 241.7L396.9 241.6L397.5 241.6L398.1 241.5L398.7 241.4L399.3 241.4L399.9 241.3L400.5 241.3L401.1 241.2L401.7 241.2L402.3 241.1L402.9 241.1L403.5 241.1L404.1 241.1L404.7 241.1L405.3 241.2L405.9 241.2L406.5 241.2L407.1 241.3L407.7 241.3L408.3 241.4L408.9 241.4L409.5 241.4L410.1 241.5L410.7 241.5L411.3 241.5L411.9 241.5L412.5 241.5L413.1 241.4L413.7 241.4L414.3 241.3L414.9 241.2L415.5 241.1L416.1 241.0L416.7 240.9L417.3 240.8L417.9 240.7L418.5 240.6L419.1 240.5L419.7 240.5L420.3 240.4L420.9 240.3L421.5 240.3L422.1 240.3L422.7 240.3L423.3 240.4L423.9 240.4L424.5 240.5L425.1 240.6L425.7 240.7L426.3 240.8L426.9 240.8L427.5 240.9L428.1 241.0L428.7 241.1L429.3 241.1L429.9 241.1L430.5 241.1L431.1 241.1L431.7 241.0L432.3 240.9L432.9 240.7L433.5 240.6L434.1 240.4L434.7 240.2L435.3 240.0L435.9 239.7L436.5 239.5L437.1 239.3L437.7 239.1L438.3 238.9L438.9 238.7L439.5 238.5L440.1 238.3L440.7 238.1L441.3 237.9L441.9 237.7L442.5 237.5L443.1 237.2L443.7 237.0L444.3 236.8L444.9 236.6L445.5 237.6L446.1 236.5L446.7 238.0L447.3 234.3L447.9 236.0L448.5 237.1L449.1 236.9L449.7 233.7L450.3 236.8L450.9 233.9L451.5 233.2L452.1 232.8L452.7 235.8L453.3 235.4L453.9 235.7L454.5 234.9L455.1 234.5L455.7 233.8L456.3 232.0L456.9 231.6L457.5 231.3L458.1 233.2L458.7 234.6L459.3 232.1L459.9 233.2L460.5 234.2L461.1 233.9L461.7 233.6L462.3 232.6L462.9 233.2L463.5 232.7L464.1 234.2L464.7 232.2L465.3 232.7L465.9 232.1L466.5 231.0L467.1 231.3L467.7 232.3L468.3 231.8L468.9 230.5L469.5 232.3L470.1 234.2L470.7 233.4L471.3 231.3L471.9 232.2L472.5 231.7L473.1 232.0L473.7 231.6L474.3 232.6L474.9 233.6L475.5 231.5L476.1 230.1L476.7 232.7L477.3 231.9L477.9 231.2L478.5 230.5L479.1 230.1L479.7 230.8L480.3 232.2L480.9 230.8L481.5 231.4L482.1 228.5L482.7 230.2L483.3 231.0L483.9 228.4L484.5 228.3L485.1 231.1L485.7 230.5L486.3 230.0L486.9 228.6L487.5 230.7L488.1 230.9L488.7 229.4L489.3 229.8L489.9 229.1L490.5 227.9L491.1 230.5L491.7 229.0L492.3 228.4L492.9 228.8L493.5 229.5L494.1 227.0L494.7 227.5L495.3 230.7L495.9 229.9L496.5 228.6L497.1 227.6L497.7 230.8L498.3 229.5L498.9 228.4L499.5 231.2L500.1 228.6L500.7 230.2L501.3 230.0L501.9 228.6L502.5 230.7L503.1 232.6L503.7 229.0L504.3 231.0L504.9 231.3L505.5 230.0L506.1 232.7L506.7 230.8L507.3 229.5L507.9 230.4L508.5 229.2L509.1 230.3L509.7 228.6L510.3 229.7L510.9 230.2L511.5 231.1L512.1 229.2L512.7 229.8L513.3 229.7L513.9 232.0L514.5 232.0L515.1 228.3L515.7 230.5L516.3 228.5L516.9 230.8L517.5 230.3L518.1 228.0L518.7 229.0L519.3 231.8L519.9 228.9L520.5 230.7L521.1 231.5L521.7 231.2L522.3 228.3L522.9 228.9L523.5 229.7L524.1 230.1L524.7 228.4L525.3 231.6L525.9 229.9L526.5 228.9L527.1 229.0L527.7 231.7L528.3 232.3L528.9 232.0L529.5 230.4L530.1 229.9L530.7 228.6L531.3 232.4L531.9 230.5L532.5 229.1L533.1 228.7L533.7 229.8L534.3 232.0L534.9 228.8L535.5 232.7L536.1 230.9L536.7 232.3L537.3 231.1L537.9 232.0L538.5 229.6L539.1 231.9L539.7 232.9L540.3 230.9L540.9 232.4L541.5 229.2L542.1 232.3L542.7 230.5L543.3 229.3L543.9 229.9L544.5 231.0L545.1 230.4L545.7 231.6L546.3 230.3L546.9 230.5L547.5 231.4L548.1 230.7L548.7 229.3L549.3 232.2L549.9 229.9L550.5 229.8L551.1 230.8L551.7 231.7L552.3 229.0L552.9 231.7L553.5 228.7L554.1 231.6L554.7 229.8L555.3 229.1L555.9 229.8L556.5 229.6L557.1 230.7L557.7 230.1L558.3 229.8L558.9 231.9L559.5 228.7L560.1 229.4L560.7 228.1L561.3 229.0L561.9 231.6L562.5 231.5L563.1 230.4L563.7 231.8L564.3 229.5L564.9 231.5L565.5 231.1L566.1 230.4L566.7 229.8L567.3 230.6L567.9 232.2L568.5 230.4L569.1 231.0L569.7 228.5L570.3 232.1L570.9 229.5L571.5 230.5L572.1 231.6L572.7 229.5L573.3 230.2L573.9 232.2L574.5 230.1L575.1 231.8L575.7 229.8L576.3 229.7L576.9 231.4L577.5 230.0L578.1 231.5L578.7 231.2L579.3 230.9L579.9 233.7L580.5 230.6L581.1 232.6L581.7 233.0L582.3 230.7L582.9 231.7L583.5 233.9L584.1 233.2L584.7 231.7L585.3 232.1L585.9 233.8L586.5 232.3L587.1 232.2L587.7 234.6L588.3 231.2L588.9 233.0L589.5 234.7L590.1 232.1L590.7 233.7L591.3 230.9L591.9 232.5L592.5 234.4L593.1 232.0L593.7 232.1L594.3 231.4L594.9 231.2L595.5 233.0L596.1 233.5L596.7 230.1L597.3 233.1L597.9 231.6L598.5 230.2L599.1 229.2L599.7 229.3L600.3 229.0L600.9 231.7L601.5 230.7L602.1 228.9L602.7 231.0L603.3 229.9L603.9 227.6L604.5 231.0L605.1 230.2L605.7 229.2L606.3 228.9L606.9 226.8L607.5 226.5L608.1 228.3L608.7 227.6L609.3 228.1L609.9 228.4L610.5 226.2L611.1 228.0L611.7 228.1L612.3 225.8L612.9 227.9L613.5 228.2L614.1 228.6L614.7 226.1L615.3 227.6L615.9 226.5L616.5 228.1L617.1 228.3L617.7 227.8L618.3 227.3L618.9 226.8L619.5 226.9L620.1 228.0L620.7 224.4L621.3 225.3L621.9 227.1L622.5 226.0L623.1 223.4L623.7 226.8L624.3 225.6L624.9 226.3L625.5 226.4L626.1 223.1L626.7 224.5L627.3 225.3L627.9 222.6L628.5 224.0L629.1 225.3L629.7 225.6L630.3 223.1L630.9 224.3L631.0 224.0"/>
<path class="k" d="M394.5 244.2L395.1 244.1L395.7 244.0L396.3 243.8L396.9 243.7L397.5 243.6L398.1 243.5L398.7 243.4L399.3 243.2L399.9 243.1L400.5 243.0L401.1 242.9L401.7 242.8L402.3 242.7L402.9 242.6L403.5 242.6L404.1 242.5L404.7 242.4L405.3 242.4L405.9 242.4L406.5 242.3L407.1 242.3L407.7 242.3L408.3 242.2L408.9 242.2L409.5 242.2L410.1 242.1L410.7 242.1L411.3 242.0L411.9 242.0L412.5 241.9L413.1 241.8L413.7 241.7L414.3 241.5L414.9 241.4L415.5 241.3L416.1 241.1L416.7 241.0L417.3 240.8L417.9 240.7L418.5 240.6L419.1 240.5L419.7 240.4L420.3 240.3L420.9 240.3L421.5 240.3L422.1 240.4L422.7 240.6L423.3 240.8L423.9 241.0L424.5 241.3L425.1 241.7L425.7 242.0L426.3 242.4L426.9 242.7L427.5 243.0L428.1 243.2L428.7 243.3L429.3 243.4L429.9 243.2L430.5 243.1L431.1 242.7L431.7 242.3L432.3 241.8L432.9 241.3L433.5 240.8L434.1 240.3L434.7 239.9L435.3 239.6L435.9 239.6L436.5 240.0L437.1 240.9L437.7 241.6L438.3 241.9L438.9 241.7L439.5 241.5L440.1 241.1L440.7 240.7L441.3 240.2L441.9 239.7L442.5 239.3L443.1 238.9L443.7 238.5L444.3 238.2L444.9 237.9L445.5 237.1L446.1 236.4L446.7 238.8L447.3 238.3L447.9 238.9L448.5 236.9L449.1 236.8L449.7 238.7L450.3 237.1L450.9 237.5L451.5 234.8L452.1 238.1L452.7 236.7L453.3 234.7L453.9 235.9L454.5 237.9L455.1 234.4L455.7 234.6L456.3 235.4L456.9 234.9L457.5 233.8L458.1 236.4L458.7 235.9L459.3 235.5L459.9 236.8L460.5 234.5L461.1 234.6L461.7 234.6L462.3 233.9L462.9 232.6L463.5 234.1L464.1 232.6L464.7 234.0L465.3 235.3L465.9 234.0L466.5 234.2L467.1 236.0L467.7 232.3L468.3 233.5L468.9 232.6L469.5 233.7L470.1 233.4L470.7 233.4L471.3 234.6L471.9 235.3L472.5 234.8L473.1 235.1L473.7 232.4L474.3 233.2L474.9 234.5L475.5 232.2L476.1 232.4L476.7 231.9L477.3 234.2L477.9 233.6L478.5 235.2L479.1 235.5L479.7 235.4L480.3 232.8L480.9 233.1L481.5 231.6L482.1 234.2L482.7 234.2L483.3 234.0L483.9 234.3L484.5 233.4L485.1 234.7L485.7 234.0L486.3 233.2L486.9 232.3L487.5 234.5L488.1 233.3L488.7 234.4L489.3 232.1L489.9 231.8L490.5 231.4L491.1 234.0L491.7 234.2L492.3 231.6L492.9 233.6L493.5 231.3L494.1 232.5L494.7 233.5L495.3 233.2L495.9 233.5L496.5 231.4L497.1 235.4L497.7 233.9L498.3 233.3L498.9 232.8L499.5 235.0L500.1 234.3L500.7 237.0L501.3 235.0L501.9 235.1L502.5 235.8L503.1 237.8L503.7 234.6L504.3 235.6L504.9 235.6L505.5 234.9L506.1 234.9L506.7 238.1L507.3 236.8L507.9 237.0L508.5 234.6L509.1 237.7L509.7 236.3L510.3 235.1L510.9 237.7L511.5 235.8L512.1 235.7L512.7 237.0L513.3 234.5L513.9 235.7L514.5 237.4L515.1 234.9L515.7 235.6L516.3 236.8L516.9 236.0L517.5 234.8L518.1 233.7L518.7 236.8L519.3 233.2L519.9 233.7L520.5 236.3L521.1 234.8L521.7 234.0L522.3 233.7L522.9 235.4L523.5 234.0L524.1 234.9L524.7 234.1L525.3 235.8L525.9 234.6L526.5 237.4L527.1 235.5L527.7 236.6L528.3 235.6L528.9 237.2L529.5 238.4L530.1 235.7L530.7 238.3L531.3 237.4L531.9 238.1L532.5 236.3L533.1 237.5L533.7 235.4L534.3 238.0L534.9 236.1L535.5 238.9L536.1 236.1L536.7 235.5L537.3 235.2L537.9 238.1L538.5 239.1L539.1 235.6L539.7 236.1L540.3 237.8L540.9 237.7L541.5 238.7L542.1 236.3L542.7 239.3L543.3 237.1L543.9 238.6L544.5 236.3L545.1 239.5L545.7 240.0L546.3 237.4L546.9 237.6L547.5 240.3L548.1 238.0L548.7 239.0L549.3 239.1L549.9 240.3L550.5 238.3L551.1 240.0L551.7 238.0L552.3 237.6L552.9 236.7L553.5 238.7L554.1 236.7L554.7 238.0L555.3 239.3L555.9 236.4L556.5 237.6L557.1 238.5L557.7 237.1L558.3 237.6L558.9 238.7L559.5 237.6L560.1 238.1L560.7 238.3L561.3 237.7L561.9 236.4L562.5 237.9L563.1 239.7L563.7 237.6L564.3 237.0L564.9 238.3L565.5 236.6L566.1 239.9L566.7 237.9L567.3 236.5L567.9 240.3L568.5 239.6L569.1 240.1L569.7 239.1L570.3 239.2L570.9 237.9L571.5 240.6L572.1 240.4L572.7 238.0L573.3 237.9L573.9 240.5L574.5 238.6L575.1 237.0L575.7 237.9L576.3 239.5L576.9 237.8L577.5 240.4L578.1 238.2L578.7 239.4L579.3 240.1L579.9 238.0L580.5 238.9L581.1 239.6L581.7 241.7L582.3 241.1L582.9 239.5L583.5 241.5L584.1 241.1L584.7 239.3L585.3 241.2L585.9 239.6L586.5 239.0L587.1 240.3L587.7 239.3L588.3 239.7L588.9 239.0L589.5 239.5L590.1 241.4L590.7 240.8L591.3 239.4L591.9 237.9L592.5 238.9L593.1 237.4L593.7 240.5L594.3 240.1L594.9 240.6L595.5 239.3L596.1 239.1L596.7 237.6L597.3 239.3L597.9 235.9L598.5 236.9L599.1 238.9L599.7 238.7L600.3 237.9L600.9 235.4L601.5 235.5L602.1 234.2L602.7 234.4L603.3 236.4L603.9 234.8L604.5 235.0L605.1 236.9L605.7 234.9L606.3 234.2L606.9 236.2L607.5 232.6L608.1 233.8L608.7 235.4L609.3 235.3L609.9 233.2L610.5 232.0L611.1 232.6L611.7 231.4L612.3 234.2L612.9 232.7L613.5 232.2L614.1 231.4L614.7 232.9L615.3 230.7L615.9 232.4L616.5 231.4L617.1 233.1L617.7 231.2L618.3 232.3L618.9 230.8L619.5 231.5L620.1 231.1L620.7 232.0L621.3 232.7L621.9 232.4L622.5 228.8L623.1 232.1L623.7 231.6L624.3 228.9L624.9 230.2L625.5 230.1L626.1 231.1L626.7 230.6L627.3 229.3L627.9 230.9L628.5 230.1L629.1 230.0L629.7 228.0L630.3 228.1L630.9 230.3L631.0 229.0"/>
<path class="k" d="M394.5 246.5L395.1 246.4L395.7 246.3L396.3 246.2L396.9 246.1L397.5 245.9L398.1 245.8L398.7 245.7L399.3 245.6L399.9 245.5L400.5 245.4L401.1 245.3L401.7 245.2L402.3 245.1L402.9 245.0L403.5 244.9L404.1 244.8L404.7 244.7L405.3 244.6L405.9 244.5L406.5 244.4L407.1 244.3L407.7 244.2L408.3 244.1L408.9 244.0L409.5 243.9L410.1 243.8L410.7 243.7L411.3 243.6L411.9 243.5L412.5 243.4L413.1 243.2L413.7 243.1L414.3 243.0L414.9 242.8L415.5 242.7L416.1 242.5L416.7 242.4L417.3 242.2L417.9 242.0L418.5 241.9L419.1 241.7L419.7 241.6L420.3 241.4L420.9 241.3L421.5 241.1L422.1 241.0L422.7 240.9L423.3 240.7L423.9 240.6L424.5 240.5L425.1 240.3L425.7 240.2L426.3 240.1L426.9 240.0L427.5 239.9L428.1 239.7L428.7 239.6L429.3 239.5L429.9 239.4L430.5 239.3L431.1 239.2L431.7 239.1L432.3 238.9L432.9 238.8L433.5 238.7L434.1 238.6L434.7 238.5L435.3 238.4L435.9 238.3L436.5 238.1L437.1 238.0L437.7 237.8L438.3 237.6L438.9 237.5L439.5 237.3L440.1 237.1L440.7 236.9L441.3 236.7L441.9 236.5L442.5 236.3L443.1 236.1L443.7 236.0L444.3 235.8L444.9 235.7L445.5 234.8L446.1 236.1L446.7 236.4L447.3 236.0L447.9 235.1L448.5 234.4L449.1 236.2L449.7 234.3L450.3 235.4L450.9 233.9L451.5 232.4L452.1 235.2L452.7 236.0L453.3 233.8L453.9 234.4L454.5 232.6L455.1 232.4L455.7 233.8L456.3 234.2L456.9 231.2L457.5 234.9L458.1 232.2L458.7 231.2L459.3 232.3L459.9 231.8L460.5 231.6L461.1 232.0L461.7 230.4L462.3 232.8L462.9 232.1L463.5 230.6L464.1 231.0L464.7 232.9L465.3 230.9L465.9 233.5L466.5 231.6L467.1 232.1L467.7 233.6L468.3 232.6L468.9 230.9L469.5 230.9L470.1 232.7L470.7 232.4L471.3 231.6L471.9 231.4L472.5 229.8L473.1 230.7L473.7 232.0L474.3 229.5L474.9 232.2L475.5 232.6L476.1 231.7L476.7 230.3L477.3 231.8L477.9 231.6L478.5 228.8L479.1 229.9L479.7 231.4L480.3 229.0L480.9 229.2L481.5 227.2L482.1 227.9L482.7 230.4L483.3 230.1L483.9 227.4L484.5 228.5L485.1 228.2L485.7 227.9L486.3 229.7L486.9 228.3L487.5 226.3L488.1 228.5L488.7 225.4L489.3 228.0L489.9 225.7L490.5 228.9L491.1 228.0L491.7 227.5L492.3 227.7L492.9 226.9L493.5 226.5L494.1 227.2L494.7 225.3L495.3 226.4L495.9 225.6L496.5 227.8L497.1 228.5L497.7 228.1L498.3 226.2L498.9 226.3L499.5 226.8L500.1 226.9L500.7 228.8L501.3 229.7L501.9 230.1L502.5 227.9L503.1 229.2L503.7 227.0L504.3 229.6L504.9 229.7L505.5 228.8L506.1 228.9L506.7 227.4L507.3 227.7L507.9 228.1L508.5 228.3L509.1 229.2L509.7 227.0L510.3 230.0L510.9 229.8L511.5 229.5L512.1 227.0L512.7 230.0L513.3 229.1L513.9 226.5L514.5 227.7L515.1 227.9L515.7 228.3L516.3 227.0L516.9 228.1L517.5 226.9L518.1 226.9L518.7 229.3L519.3 226.6L519.9 227.6L520.5 228.7L521.1 229.0L521.7 227.1L522.3 229.3L522.9 227.6L523.5 228.9L524.1 228.5L524.7 227.5L525.3 229.1L525.9 227.2L526.5 228.3L527.1 225.7L527.7 227.3L528.3 227.3L528.9 229.0L529.5 225.9L530.1 229.0L530.7 227.9L531.3 226.3L531.9 228.8L532.5 227.7L533.1 229.1L533.7 226.4L534.3 229.1L534.9 228.3L535.5 229.0L536.1 228.9L536.7 226.8L537.3 226.0L537.9 225.7L538.5 226.7L539.1 225.8L539.7 226.4L540.3 226.0L540.9 226.7L541.5 226.5L542.1 229.0L542.7 229.5L543.3 225.8L543.9 228.1L544.5 228.8L545.1 226.7L545.7 228.5L546.3 229.1L546.9 226.9L547.5 230.5L548.1 229.8L548.7 228.5L549.3 228.2L549.9 228.1L550.5 231.6L551.1 229.5L551.7 229.9L552.3 229.7L552.9 229.2L553.5 230.0L554.1 231.3L554.7 230.9L555.3 231.0L555.9 231.5L556.5 230.7L557.1 230.4L557.7 232.2L558.3 230.9L558.9 233.8L559.5 230.9L560.1 231.1L560.7 232.9L561.3 233.9L561.9 231.5L562.5 232.9L563.1 233.2L563.7 234.3L564.3 232.8L564.9 233.1L565.5 232.7L566.1 235.7L566.7 235.4L567.3 233.0L567.9 235.8L568.5 232.4L569.1 233.6L569.7 233.2L570.3 232.9L570.9 233.9L571.5 233.4L572.1 232.9L572.7 235.3L573.3 235.0L573.9 235.8L574.5 234.4L575.1 233.9L575.7 234.6L576.3 234.9L576.9 234.3L577.5 236.9L578.1 234.7L578.7 233.5L579.3 237.2L579.9 234.2L580.5 235.4L581.1 236.6L581.7 237.3L582.3 236.3L582.9 235.6L583.5 234.3L584.1 234.7L584.7 237.4L585.3 238.0L585.9 235.2L586.5 235.2L587.1 234.3L587.7 235.2L588.3 235.7L588.9 236.0L589.5 236.3L590.1 236.4L590.7 235.7L591.3 236.0L591.9 237.4L592.5 236.3L593.1 236.7L593.7 233.6L594.3 234.2L594.9 237.0L595.5 233.5L596.1 234.3L596.7 236.4L597.3 233.3L597.9 233.2L598.5 233.6L599.1 233.5L599.7 233.7L600.3 233.8L600.9 231.5L601.5 232.9L602.1 231.6L602.7 231.2L603.3 232.4L603.9 233.1L604.5 233.5L605.1 232.5L605.7 230.0L606.3 233.3L606.9 233.3L607.5 231.4L608.1 232.9L608.7 230.1L609.3 230.4L609.9 230.2L610.5 230.2L611.1 229.4L611.7 229.1L612.3 228.4L612.9 229.2L613.5 230.1L614.1 229.6L614.7 227.4L615.3 230.8L615.9 230.3L616.5 229.7L617.1 227.2L617.7 230.4L618.3 227.8L618.9 229.8L619.5 228.5L620.1 228.8L620.7 228.6L621.3 226.0L621.9 227.7L622.5 228.0L623.1 226.1L623.7 226.8L624.3 226.5L624.9 226.7L625.5 225.7L626.1 226.8L626.7 225.7L627.3 226.3L627.9 227.3L628.5 228.3L629.1 224.9L629.7 224.3L630.3 225.9L630.9 227.1L631.0 226.0"/>
<path class="k" d="M394.5 259.5L395.1 259.3L395.7 259.2L396.3 259.0L396.9 258.9L397.5 258.7L398.1 258.5L398.7 258.4L399.3 258.2L399.9 258.1L400.5 257.9L401.1 257.7L401.7 257.6L402.3 257.4L402.9 257.3L403.5 257.1L404.1 257.0L404.7 256.8L405.3 256.6L405.9 256.5L406.5 256.3L407.1 256.2L407.7 256.0L408.3 255.8L408.9 255.7L409.5 255.5L410.1 255.4L410.7 255.3L411.3 255.1L411.9 255.0L412.5 254.9L413.1 254.8L413.7 254.7L414.3 254.6L414.9 254.5L415.5 254.4L416.1 254.3L416.7 254.3L417.3 254.2L417.9 254.1L418.5 254.1L419.1 254.0L419.7 254.0L420.3 253.9L420.9 253.9L421.5 253.8L422.1 253.8L422.7 253.7L423.3 253.7L423.9 253.7L424.5 253.7L425.1 253.7L425.7 253.7L426.3 253.7L426.9 253.6L427.5 253.6L428.1 253.6L428.7 253.5L429.3 253.4L429.9 253.2L430.5 253.1L431.1 252.9L431.7 252.7L432.3 252.4L432.9 252.1L433.5 251.9L434.1 251.6L434.7 251.4L435.3 251.2L435.9 251.0L436.5 250.8L437.1 250.6L437.7 250.5L438.3 250.3L438.9 250.1L439.5 250.0L440.1 249.8L440.7 249.7L441.3 249.6L441.9 249.4L442.5 249.3L443.1 249.2L443.7 249.1L444.3 249.0L444.9 248.9L445.5 247.7L446.1 249.4L446.7 249.2L447.3 247.7L447.9 249.1L448.5 248.4L449.1 247.9L449.7 248.3L450.3 250.0L450.9 248.3L451.5 248.0L452.1 247.9L452.7 248.2L453.3 248.0L453.9 248.2L454.5 248.2L455.1 246.0L455.7 246.8L456.3 248.8L456.9 247.4L457.5 248.4L458.1 251.2L458.7 252.3L459.3 251.9L459.9 250.5L460.5 250.1L461.1 249.4L461.7 248.9L462.3 248.3L462.9 249.6L463.5 249.5L464.1 250.2L464.7 252.1L465.3 252.1L465.9 250.8L466.5 253.4L467.1 250.5L467.7 252.6L468.3 252.5L468.9 253.2L469.5 251.3L470.1 250.5L470.7 250.8L471.3 250.3L471.9 249.9L472.5 250.1L473.1 251.1L473.7 250.7L474.3 249.3L474.9 248.2L475.5 249.3L476.1 249.9L476.7 247.5L477.3 246.9L477.9 248.2L478.5 249.8L479.1 249.1L479.7 248.0L480.3 248.0L480.9 249.5L481.5 247.9L482.1 250.1L482.7 247.5L483.3 249.4L483.9 249.7L484.5 249.2L485.1 250.0L485.7 247.2L486.3 249.7L486.9 247.0L487.5 249.5L488.1 249.3L488.7 246.9L489.3 249.7L489.9 248.4L490.5 248.5L491.1 249.2L491.7 248.0L492.3 251.1L492.9 251.1L493.5 251.5L494.1 249.2L494.7 250.1L495.3 251.0L495.9 250.5L496.5 250.0L497.1 250.4L497.7 249.4L498.3 248.2L498.9 247.3L499.5 247.1L500.1 248.0L500.7 246.3L501.3 248.1L501.9 246.0L502.5 247.7L503.1 246.9L503.7 246.4L504.3 248.0L504.9 247.1L505.5 247.3L506.1 249.6L506.7 247.4L507.3 250.7L507.9 249.4L508.5 249.7L509.1 250.1L509.7 249.6L510.3 248.0L510.9 248.3L511.5 250.4L512.1 249.2L512.7 249.7L513.3 250.1L513.9 248.0L514.5 248.4L515.1 248.5L515.7 248.9L516.3 246.4L516.9 248.8L517.5 247.7L518.1 247.4L518.7 246.2L519.3 247.8L519.9 245.8L520.5 246.8L521.1 246.1L521.7 246.8L522.3 246.8L522.9 245.4L523.5 246.4L524.1 247.3L524.7 248.1L525.3 247.0L525.9 247.7L526.5 246.7L527.1 247.3L527.7 245.8L528.3 245.9L528.9 248.7L529.5 247.5L530.1 246.5L530.7 247.9L531.3 247.0L531.9 249.3L532.5 249.3L533.1 248.9L533.7 247.8L534.3 249.5L534.9 248.0L535.5 247.2L536.1 249.2L536.7 249.3L537.3 250.2L537.9 249.0L538.5 249.0L539.1 250.0L539.7 249.7L540.3 248.8L540.9 249.0L541.5 250.0L542.1 249.3L542.7 248.8L543.3 250.2L543.9 250.3L544.5 249.4L545.1 251.5L545.7 251.1L546.3 251.0L546.9 252.2L547.5 252.2L548.1 251.7L548.7 250.0L549.3 251.0L549.9 251.1L550.5 251.9L551.1 251.3L551.7 253.2L552.3 251.8L552.9 251.8L553.5 251.5L554.1 252.3L554.7 253.3L555.3 253.4L555.9 252.4L556.5 254.2L557.1 252.3L557.7 254.3L558.3 252.5L558.9 253.7L559.5 252.3L560.1 252.3L560.7 254.0L561.3 253.3L561.9 255.1L562.5 254.1L563.1 255.4L563.7 253.6L564.3 255.0L564.9 253.9L565.5 254.8L566.1 253.2L566.7 254.0L567.3 255.2L567.9 255.4L568.5 256.8L569.1 256.6L569.7 256.6L570.3 255.6L570.9 257.1L571.5 255.5L572.1 255.8L572.7 254.6L573.3 255.0L573.9 254.7L574.5 255.6L575.1 257.4L575.7 255.4L576.3 257.3L576.9 255.4L577.5 255.3L578.1 258.2L578.7 255.6L579.3 257.1L579.9 257.1L580.5 256.4L581.1 257.4L581.7 257.1L582.3 256.8L582.9 256.2L583.5 255.9L584.1 257.3L584.7 258.8L585.3 259.0L585.9 258.7L586.5 258.7L587.1 258.2L587.7 259.0L588.3 256.6L588.9 257.1L589.5 258.5L590.1 257.2L590.7 256.2L591.3 258.6L591.9 256.7L592.5 258.2L593.1 256.8L593.7 258.6L594.3 257.7L594.9 258.3L595.5 257.3L596.1 256.9L596.7 258.2L597.3 258.4L597.9 257.3L598.5 256.5L599.1 258.0L599.7 257.2L600.3 257.3L600.9 257.8L601.5 256.2L602.1 257.4L602.7 255.4L603.3 255.8L603.9 257.4L604.5 255.2L605.1 255.4L605.7 256.5L606.3 255.4L606.9 255.1L607.5 256.6L608.1 255.0L608.7 254.9L609.3 254.6L609.9 255.7L610.5 256.6L611.1 256.8L611.7 254.8L612.3 253.7L612.9 256.5L613.5 255.8L614.1 253.6L614.7 253.8L615.3 255.2L615.9 253.3L616.5 256.0L617.1 255.2L617.7 255.6L618.3 256.0L618.9 253.9L619.5 255.6L620.1 253.7L620.7 256.1L621.3 253.8L621.9 253.4L622.5 253.4L623.1 254.2L623.7 255.1L624.3 255.9L624.9 253.5L625.5 255.5L626.1 254.1L626.7 253.0L627.3 254.2L627.9 255.8L628.5 253.5L629.1 253.6L629.7 255.8L630.3 255.7L630.9 256.3L631.0 254.7"/>
<path class="k" d="M394.5 241.8L395.1 241.8L395.7 241.8L396.3 241.7L396.9 241.7L397.5 241.7L398.1 241.6L398.7 241.6L399.3 241.5L399.9 241.5L400.5 241.5L401.1 241.4L401.7 241.4L402.3 241.4L402.9 241.3L403.5 241.3L404.1 241.3L404.7 241.3L405.3 241.3L405.9 241.2L406.5 241.2L407.1 241.2L407.7 241.2L408.3 241.2L408.9 241.2L409.5 241.2L410.1 241.1L410.7 241.1L411.3 241.1L411.9 241.1L412.5 241.1L413.1 241.0L413.7 240.9L414.3 240.8L414.9 240.7L415.5 240.6L416.1 240.5L416.7 240.4L417.3 240.3L417.9 240.2L418.5 240.1L419.1 240.0L419.7 239.9L420.3 239.8L420.9 239.7L421.5 239.6L422.1 239.6L422.7 239.7L423.3 239.8L423.9 239.9L424.5 240.0L425.1 240.1L425.7 240.2L426.3 240.3L426.9 240.3L427.5 240.4L428.1 240.5L428.7 240.6L429.3 240.7L429.9 240.4L430.5 240.1L431.1 239.9L431.7 239.6L432.3 239.3L432.9 239.0L433.5 238.8L434.1 238.5L434.7 238.2L435.3 237.9L435.9 237.9L436.5 238.1L437.1 238.2L437.7 238.3L438.3 238.5L438.9 238.3L439.5 238.0L440.1 237.7L440.7 237.4L441.3 237.1L441.9 236.7L442.5 236.4L443.1 236.1L443.7 235.8L444.3 235.5L444.9 235.2L445.5 234.7L446.1 233.0L446.7 235.1L447.3 236.3L447.9 235.9L448.5 233.4L449.1 235.8L449.7 232.2L450.3 234.4L450.9 232.6L451.5 235.0L452.1 232.5L452.7 233.7L453.3 233.0L453.9 231.6L454.5 232.9L455.1 231.8L455.7 232.6L456.3 230.5L456.9 230.6L457.5 231.6L458.1 229.6L458.7 230.8L459.3 232.0L459.9 228.8L460.5 232.2L461.1 230.7L461.7 228.3L462.3 231.1L462.9 231.5L463.5 229.5L464.1 228.6L464.7 230.6L465.3 230.2L465.9 229.6L466.5 228.8L467.1 230.7L467.7 230.0L468.3 229.6L468.9 229.0L469.5 229.2L470.1 231.8L470.7 228.3L471.3 228.0L471.9 229.0L472.5 228.7L473.1 230.7L473.7 230.8L474.3 229.0L474.9 231.0L475.5 228.1L476.1 230.1L476.7 231.6L477.3 228.1L477.9 229.3L478.5 227.8L479.1 229.7L479.7 231.3L480.3 228.7L480.9 227.8L481.5 228.2L482.1 227.8L482.7 227.8L483.3 230.9L483.9 228.6L484.5 227.3L485.1 228.2L485.7 230.1L486.3 230.0L486.9 230.4L487.5 228.0L488.1 228.4L488.7 230.7L489.3 227.2L489.9 228.5L490.5 230.8L491.1 228.9L491.7 229.1L492.3 228.2L492.9 229.5L493.5 226.9L494.1 227.7L494.7 227.4L495.3 228.2L495.9 230.1L496.5 229.4L497.1 227.8L497.7 230.9L498.3 227.9L498.9 229.1L499.5 229.5L500.1 230.2L500.7 232.4L501.3 231.6L501.9 229.3L502.5 232.1L503.1 232.1L503.7 232.0L504.3 230.7L504.9 229.9L505.5 231.1L506.1 231.8L506.7 229.9L507.3 232.0L507.9 232.0L508.5 229.7L509.1 231.9L509.7 231.8L510.3 229.4L510.9 231.5L511.5 232.3L512.1 231.3L512.7 229.6L513.3 231.5L513.9 231.8L514.5 230.3L515.1 230.8L515.7 229.6L516.3 231.2L516.9 229.0L517.5 231.5L518.1 229.7L518.7 231.4L519.3 228.5L519.9 230.4L520.5 231.1L521.1 231.6L521.7 231.5L522.3 231.8L522.9 230.9L523.5 232.0L524.1 231.6L524.7 228.5L525.3 231.0L525.9 231.9L526.5 228.6L527.1 231.8L527.7 231.7L528.3 231.2L528.9 229.5L529.5 231.9L530.1 231.8L530.7 232.1L531.3 229.5L531.9 228.9L532.5 231.7L533.1 229.8L533.7 231.3L534.3 230.9L534.9 229.6L535.5 231.6L536.1 230.3L536.7 231.9L537.3 231.6L537.9 229.5L538.5 232.9L539.1 231.8L539.7 231.0L540.3 230.9L540.9 231.3L541.5 233.1L542.1 231.0L542.7 231.3L543.3 233.2L543.9 231.2L544.5 231.6L545.1 233.3L545.7 230.8L546.3 230.9L546.9 232.5L547.5 231.7L548.1 232.4L548.7 232.9L549.3 232.9L549.9 231.6L550.5 232.6L551.1 231.8L551.7 232.0L552.3 230.3L552.9 232.7L553.5 231.4L554.1 232.4L554.7 232.3L555.3 233.3L555.9 233.2L556.5 231.4L557.1 231.6L557.7 232.3L558.3 230.2L558.9 229.5L559.5 231.1L560.1 229.4L560.7 232.5L561.3 232.5L561.9 231.0L562.5 232.4L563.1 231.9L563.7 229.8L564.3 229.1L564.9 232.3L565.5 232.5L566.1 230.9L566.7 233.1L567.3 230.3L567.9 232.7L568.5 232.8L569.1 233.0L569.7 230.7L570.3 230.5L570.9 231.9L571.5 230.2L572.1 231.0L572.7 231.1L573.3 231.8L573.9 232.6L574.5 231.0L575.1 231.7L575.7 230.7L576.3 230.3L576.9 233.4L577.5 232.1L578.1 233.6L578.7 233.7L579.3 234.2L579.9 233.5L580.5 230.6L581.1 232.7L581.7 231.8L582.3 232.0L582.9 231.6L583.5 231.8L584.1 231.5L584.7 233.8L585.3 233.7L585.9 234.1L586.5 234.4L587.1 234.1L587.7 234.7L588.3 234.4L588.9 234.8L589.5 235.1L590.1 235.5L590.7 232.0L591.3 232.7L591.9 232.0L592.5 233.1L593.1 232.4L593.7 231.5L594.3 231.1L594.9 230.4L595.5 233.3L596.1 233.1L596.7 231.7L597.3 232.5L597.9 231.3L598.5 230.0L599.1 233.1L599.7 229.0L600.3 229.7L600.9 231.6L601.5 230.8L602.1 232.2L602.7 229.3L603.3 229.9L603.9 227.8L604.5 229.7L605.1 229.1L605.7 230.0L606.3 228.1L606.9 229.6L607.5 229.8L608.1 227.3L608.7 229.9L609.3 228.1L609.9 227.1L610.5 227.7L611.1 228.6L611.7 227.6L612.3 227.6L612.9 227.0L613.5 228.9L614.1 229.4L614.7 226.8L615.3 227.7L615.9 225.3L616.5 228.6L617.1 226.4L617.7 227.5L618.3 226.1L618.9 224.3L619.5 225.9L620.1 225.1L620.7 224.6L621.3 226.2L621.9 227.6L622.5 224.9L623.1 226.9L623.7 224.4L624.3 227.1L624.9 225.2L625.5 226.0L626.1 226.0L626.7 223.4L627.3 225.8L627.9 223.9L628.5 226.2L629.1 225.6L629.7 222.3L630.3 223.4L630.9 224.3"/>
<path class="k" d="M394.5 325.7L395.1 325.6L395.6 325.6L396.2 325.5L396.7 325.4L397.3 325.3L397.8 325.3L398.4 325.2L398.9 325.1L399.5 325.0L400.0 325.0L400.6 324.9L401.1 324.8L401.7 324.8L402.2 324.7L402.8 324.6L403.3 324.6L403.9 324.5L404.4 324.4L405.0 324.4L405.5 324.3L406.1 324.2L406.6 324.2L407.2 324.1L407.7 324.0L408.3 324.0L408.8 323.9L409.4 323.8L409.9 323.8L410.5 323.7L411.0 323.6L411.6 323.6L412.1 323.5L412.7 323.4L413.2 323.3L413.8 323.2L414.3 323.2L414.9 323.1L415.4 323.0L416.0 322.9L416.5 322.9L417.1 322.8L417.6 322.7L418.2 322.6L418.7 322.5L419.3 322.4L419.8 322.4L420.4 322.5L420.9 322.6L421.5 322.8L422.0 323.1L422.6 323.3L423.1 323.4L423.7 323.5L424.2 323.5L424.8 323.5L425.3 323.5L425.9 323.4L426.4 323.4L427.0 323.3L427.5 323.3L428.1 323.2L428.6 323.1L429.2 322.9L429.7 322.8L430.3 322.6L430.8 322.3L431.4 322.0L431.9 321.7L432.5 321.4L433.0 321.1L433.6 320.9L434.1 320.6L434.7 320.4L435.2 320.2L435.8 320.0L436.3 319.7L436.9 319.5L437.4 319.3L438.0 319.0L438.5 318.7L439.1 318.5L439.6 318.2L440.2 317.5L440.7 317.9L441.3 317.7L441.8 316.7L442.4 316.7L442.9 316.8L443.5 315.7L444.0 315.8L444.6 315.1L445.1 315.1L445.7 314.6L446.2 313.6L446.8 312.3L447.3 312.9L447.9 311.8L448.4 311.9L449.0 311.7L449.5 310.8L450.1 310.4L450.6 310.2L451.2 311.0L451.7 310.9L452.3 308.2L452.8 307.4L453.4 308.3L453.9 307.0L454.5 307.2L455.0 303.1L455.6 307.2L456.1 307.2L456.7 305.5L457.2 305.7L457.8 302.5L458.3 298.7L458.9 295.0L459.4 295.9L460.0 299.1L460.5 301.4L461.1 303.8L461.6 301.5L462.2 304.6L462.7 303.4L463.3 300.0L463.8 302.4L464.4 299.4L464.9 299.8L465.5 299.4L466.0 296.3L466.6 297.5L467.1 298.2L467.7 298.9L468.2 298.1L468.8 298.8L469.3 298.5L469.9 301.7L470.4 303.6L471.0 301.8L471.5 305.4L472.1 308.4L472.6 306.0L473.2 308.7L473.7 306.4L474.3 306.2L474.8 306.4L475.4 310.1L475.9 306.5L476.5 309.1L477.0 303.2L477.6 303.7L478.1 299.6L478.7 298.2L479.2 295.7L479.8 296.0L480.3 298.3L480.9 297.8L481.4 299.4L482.0 302.2L482.5 303.9L483.1 303.8L483.6 303.9L484.2 302.1L484.7 299.0L485.3 302.4L485.8 304.8L486.4 305.9L486.9 308.5L487.5 303.3L488.0 298.0L488.6 294.0L489.1 299.7L489.7 300.7L490.2 304.5L490.8 306.2L491.3 308.6L491.9 305.0L492.4 302.9L493.0 297.3L493.5 293.7L494.1 291.4L494.6 289.3L495.2 295.1L495.7 304.0L496.3 307.5L496.8 304.9L497.4 302.9L497.9 299.9L498.5 298.4L499.0 295.2L499.6 294.0L500.1 295.7L500.7 299.4L501.2 297.4L501.8 299.7L502.3 302.1L502.9 300.8L503.4 299.2L504.0 299.3L504.5 296.4L505.1 295.5L505.6 296.6L506.2 295.9L506.7 299.3L507.3 300.5L507.8 304.4L508.4 306.0L508.9 307.4L509.5 308.2L510.0 305.2L510.6 302.3L511.1 299.9L511.7 297.7L512.2 297.9L512.8 294.6L513.3 298.5L513.9 300.9L514.0 300.6"/>
<path class="k" d="M512.0 304.7L512.5 305.0L513.0 305.7L513.5 302.6L514.0 299.4L514.5 301.6L515.0 303.6L515.5 302.2L516.0 303.4L516.5 305.8L517.0 301.6L517.5 301.2L518.0 301.2L518.5 304.3L519.0 303.5L519.5 305.2L520.0 298.3L520.5 302.6L521.0 305.1L521.5 305.7L522.0 300.8L522.5 301.5L523.0 305.7L523.5 298.8L524.0 305.3L524.5 305.6L525.0 304.7L525.5 306.6L526.0 301.0L526.5 304.7L527.0 307.8L527.5 303.6L528.0 301.7L528.5 303.1L529.0 303.3L529.5 304.0L530.0 306.9L530.5 300.5L531.0 300.8L531.5 302.2L532.0 301.9L532.5 302.8L533.0 301.9L533.5 301.8L534.0 306.1L534.5 308.6L535.0 306.2L535.5 306.3L536.0 307.1L536.5 307.1L537.0 305.5L537.5 309.0L538.0 306.5L538.5 302.0L539.0 308.0L539.5 301.7L540.0 306.7L540.5 308.8L541.0 304.8L541.5 305.5L542.0 310.0L542.5 302.8L543.0 305.8L543.5 304.1L544.0 305.6L544.5 304.7L545.0 308.0L545.5 306.7L546.0 308.5L546.5 309.9L547.0 312.3L547.5 307.4L548.0 310.2L548.5 312.5L549.0 309.9L549.5 310.8L550.0 309.5L550.5 307.9L551.0 306.0L551.5 312.8L552.0 314.1L552.5 312.2L553.0 313.2L553.5 314.5L554.0 311.3L554.5 313.2L555.0 314.6L555.5 311.0L556.0 314.0L556.5 307.3L557.0 309.4L557.5 312.1L558.0 313.2L558.5 308.9L559.0 313.7L559.5 310.8L560.0 314.0L560.5 312.1L561.0 307.8L561.5 308.0L562.0 314.0L562.5 309.5L563.0 309.8L563.5 315.8L564.0 314.8L564.5 308.6L565.0 312.9L565.5 315.4L566.0 311.8L566.5 309.6L567.0 312.9L567.5 310.6L568.0 315.9L568.5 311.6L569.0 311.1L569.5 309.2L570.0 307.5L570.5 307.1L571.0 307.8L571.5 308.9L572.0 313.0L572.5 310.9L573.0 314.4L573.5 307.3L574.0 309.5L574.5 310.6L575.0 308.1L575.5 312.2L576.0 310.0L576.5 312.9L577.0 306.4L577.5 306.8L578.0 309.7L578.5 307.0L579.0 312.3L579.5 311.8L580.0 308.7L580.5 304.3L581.0 311.5L581.5 305.2L582.0 307.5L582.5 305.7L583.0 306.8L583.5 311.2L584.0 310.9L584.5 310.7L585.0 309.1L585.5 306.6L586.0 303.1L586.5 302.2L587.0 308.9L587.5 304.2L588.0 304.5L588.5 307.1L589.0 308.7L589.5 306.4L590.0 301.5L590.5 306.2L591.0 305.3L591.5 300.2L592.0 306.0L592.5 305.9L593.0 305.7L593.5 303.7L594.0 297.4L594.5 302.2L595.0 300.0L595.5 302.1L596.0 303.4L596.5 295.2L597.0 301.2L597.5 296.8L598.0 302.5L598.5 297.7L599.0 298.4L599.5 295.1L600.0 299.8L600.5 294.0L601.0 293.2L601.5 297.6L602.0 293.1L602.5 298.6L603.0 299.1L603.5 293.6L604.0 297.7L604.5 295.4L605.0 294.3L605.5 293.8L606.0 291.3L606.5 293.2L607.0 294.3L607.5 288.9L608.0 292.3L608.5 294.8L609.0 295.9L609.5 294.8L610.0 290.6L610.5 288.1L611.0 290.9L611.5 294.7L612.0 287.0L612.5 294.1L613.0 287.3L613.5 290.5L614.0 292.4L614.5 286.3L615.0 286.9L615.5 287.1L616.0 284.9L616.5 290.1L617.0 286.8L617.5 291.1L618.0 289.4L618.5 292.4L619.0 289.5L619.5 284.5L620.0 288.0L620.5 289.2L621.0 286.8L621.5 289.4L622.0 288.0L622.5 289.2L623.0 285.9L623.5 292.3L624.0 290.8L624.5 292.8L625.0 287.3L625.5 285.0L626.0 291.9L626.5 288.0L627.0 292.0L627.5 290.7L628.0 287.7L628.5 288.1L629.0 290.1L629.5 289.6L630.0 292.5L630.5 291.7L631.0 288.6"/>
<path class="rd" d="M70.0 101.0L71.0 100.9L72.0 100.9L73.0 100.8L74.0 100.6L75.0 100.3L76.0 100.0L77.0 99.7L78.0 99.4L79.0 99.0L80.0 98.6L81.0 98.1L82.0 97.5L83.0 96.6L84.0 95.4L85.0 94.5L86.0 93.7L87.0 93.0L88.0 92.6L89.0 92.2L90.0 92.0L91.0 91.7L92.0 91.4L93.0 91.1L94.0 90.8L95.0 90.5L96.0 90.3L97.0 90.0L98.0 89.8L99.0 89.7L100.0 89.6L101.0 89.5L102.0 89.4L103.0 89.3L104.0 89.2L105.0 89.1L106.0 88.8L107.0 88.5L108.0 88.1L109.0 87.6L110.0 87.1L111.0 86.5L112.0 85.9L113.0 85.3L114.0 84.6L115.0 84.0L116.0 83.4L117.0 82.9L118.0 82.5L119.0 82.2L120.0 81.8L121.0 81.5L122.0 81.3L123.0 81.1L124.0 81.0L125.0 80.8L126.0 80.3L127.0 79.5L128.0 77.7L129.0 77.2L130.0 75.9L131.0 75.0L132.0 74.6L133.0 76.3L134.0 77.0L135.0 77.2L136.0 77.9L137.0 78.1L138.0 78.0L139.0 77.9L140.0 77.8L141.0 76.7L142.0 77.9L143.0 76.8L144.0 76.7L145.0 76.2L146.0 77.8L147.0 77.1L148.0 77.0L149.0 76.3L150.0 74.9L151.0 75.0L152.0 74.9L153.0 73.8L154.0 74.8L155.0 73.3L156.0 72.3L157.0 72.9L158.0 71.1L159.0 72.0L160.0 70.7L161.0 70.4L162.0 69.7L163.0 69.6L164.0 68.9L165.0 68.5L166.0 69.9L167.0 68.7L168.0 69.6L169.0 68.6L170.0 69.9L171.0 69.8L172.0 69.6L173.0 69.6L174.0 69.4L175.0 69.7L176.0 68.7L177.0 69.5L178.0 70.3L179.0 69.3L180.0 70.9L181.0 71.2L182.0 70.8L183.0 71.2L184.0 71.8L185.0 72.1L186.0 73.4L187.0 72.2L188.0 71.2L189.0 70.7L190.0 71.4L191.0 71.7L192.0 70.8L193.0 70.8L194.0 71.0L195.0 71.4L196.0 70.6L197.0 71.4L198.0 71.3L199.0 71.5L200.0 70.7L201.0 70.7L202.0 70.9L203.0 71.8L204.0 70.7L205.0 71.1L206.0 70.5L207.0 70.1L208.0 70.0L209.0 71.5L210.0 71.6L211.0 71.1L212.0 72.0L213.0 72.3L214.0 73.0L215.0 73.3L216.0 72.6L217.0 73.9L218.0 74.1L219.0 73.6L220.0 74.4L221.0 74.0L222.0 74.1L223.0 74.4L224.0 76.2L225.0 75.3L226.0 75.1L227.0 76.3L228.0 76.0L229.0 75.3L230.0 75.7L231.0 74.0L232.0 74.0L233.0 73.8L234.0 73.6L235.0 72.8L236.0 72.3L237.0 72.4L238.0 73.1L239.0 72.9L240.0 72.1L241.0 71.2L242.0 70.4L243.0 71.3L244.0 70.2L245.0 70.1L246.0 68.5L247.0 68.4L248.0 69.2L249.0 68.7L250.0 68.6L251.0 67.7L252.0 67.1L253.0 67.0L254.0 67.2L255.0 65.8L256.0 65.8L257.0 64.7L258.0 64.7L259.0 62.3L260.0 62.4L261.0 61.7L262.0 58.9L263.0 58.7L264.0 57.7L265.0 57.1L266.0 55.6L267.0 54.1L268.0 53.4L269.0 53.3L270.0 52.0L271.0 49.3L272.0 48.0L273.0 47.0L274.0 46.1L275.0 46.5L276.0 45.7L277.0 47.0L278.0 46.6L279.0 45.7L280.0 46.6L281.0 46.4L282.0 46.9L283.0 46.8L284.0 47.1L285.0 47.6L286.0 48.5L287.0 49.7L288.0 50.1L289.0 49.9L290.0 51.9L291.0 53.0L292.0 53.7L293.0 54.7L294.0 54.2L295.0 55.9L296.0 56.1L297.0 58.4L298.0 58.2L299.0 60.0L300.0 59.7L301.0 60.9L302.0 60.4L303.0 60.1L304.0 60.9L305.0 60.9L306.0 61.0"/>
<path class="rd" d="M395.7 51.5L395.7 76.0"/>
<path class="rd" d="M395.5 107.7L396.6 107.1L397.7 106.5L398.8 105.9L399.9 105.5L401.0 105.0L402.1 104.6L403.2 104.2L404.3 103.9L405.4 103.6L406.5 103.4L407.6 103.1L408.7 102.9L409.8 102.7L410.9 102.6L412.0 102.4L413.1 102.3L414.2 102.2L415.3 102.0L416.4 101.7L417.5 101.2L418.6 100.7L419.7 100.3L420.8 100.0L421.9 100.2L423.0 100.8L424.1 101.3L425.2 101.1L426.3 100.4L427.4 99.4L428.5 98.8L429.6 99.2L430.7 100.0L431.8 99.2L432.9 97.4L434.0 96.7L435.1 96.5L436.2 96.5L437.3 96.4L438.4 96.3L439.5 95.9L440.6 95.4L441.7 94.9L442.8 94.2L443.9 93.5L445.0 92.5L446.1 91.3L447.2 92.0L448.3 90.4L449.4 87.1L450.5 85.3L451.6 84.0L452.7 83.0L453.8 82.1L454.9 81.3L456.0 80.1L457.1 77.5L458.2 74.3L459.3 71.6L460.4 69.7L461.5 67.3L462.6 67.0L463.7 65.1L464.8 64.7L465.9 63.7L467.0 63.7L468.1 62.4L469.2 62.8L470.3 63.0L471.4 64.1L472.5 67.4L473.6 68.4L474.7 67.6L475.8 68.6L476.9 67.9L478.0 66.2L479.1 64.8L480.2 63.4L481.3 61.7L482.4 60.9L483.5 60.4L484.6 60.4L485.7 59.6L486.8 58.5L487.9 56.6L489.0 53.9L490.1 50.2L491.2 50.9L492.3 53.3L493.4 55.7L494.5 56.0L495.6 56.8L496.7 57.9L497.8 57.7L498.9 57.9L500.0 58.1L501.1 58.7L502.2 60.7L503.3 62.0L504.4 63.3L505.5 63.1L506.6 64.8L507.7 65.9L508.8 67.6L509.9 67.8L511.0 68.4L512.1 68.2L513.2 68.4L514.3 68.4L515.4 68.8L516.5 68.3L517.6 70.2L518.7 69.3L519.8 69.5L520.9 67.5L522.0 66.3L523.1 68.0L524.2 68.1L525.3 68.5L526.4 70.3L527.5 69.8L528.6 67.4L529.7 68.0L530.8 65.7L531.9 64.8L533.0 64.0L534.1 64.4L535.2 63.3L536.3 62.8L537.4 62.8L538.5 61.9L539.6 61.2L540.7 60.9L541.8 60.7L542.9 60.8L544.0 59.2L545.1 58.6L546.2 58.0L547.3 56.7L548.4 56.3L549.5 56.2L550.6 55.9L551.7 56.1L552.8 56.9L553.9 56.3L555.0 54.9L556.1 54.7L557.2 54.8L558.3 54.7L559.4 54.4L560.5 54.1L561.6 54.1L562.7 53.5L563.8 52.3L564.9 51.9L566.0 52.8L567.1 51.6L568.2 52.0L569.3 51.9L570.4 51.5L571.5 51.1L572.6 51.2L573.7 50.3L574.8 50.1L575.9 50.3L577.0 49.9L578.1 49.8L579.2 49.5L580.3 49.5L581.4 49.1L582.5 49.3L583.6 50.2L584.7 48.9L585.8 50.0L586.9 49.8L588.0 48.6L589.1 48.8L590.2 48.6L591.3 49.0L592.4 48.3L593.5 47.6L594.6 47.8L595.7 48.3L596.8 48.6L597.9 50.1L599.0 50.3L600.1 49.1L601.2 50.4L602.3 50.8L603.4 49.8L604.5 50.6L605.6 50.5L606.7 51.1L607.8 51.9L608.9 50.8L610.0 51.1L611.1 51.1L612.2 51.3L613.3 51.6L614.4 51.8L615.5 51.4L616.6 51.8L617.7 53.3L618.8 53.5L619.9 53.6L621.0 53.3L622.1 54.0L623.2 52.6L624.3 52.8L625.4 54.0L626.5 53.2L627.6 54.0L628.7 54.0L629.8 54.2L630.0 54.0"/>
<path class="rs" d="M70.0 59.7L71.0 59.9L72.0 60.0L73.0 60.1L74.0 60.2L75.0 60.3L76.0 60.3L77.0 60.3L78.0 60.2L79.0 60.2L80.0 60.1L81.0 60.1L82.0 60.1L83.0 60.1L84.0 60.1L85.0 60.3L86.0 60.5L87.0 60.9L88.0 61.5L89.0 62.3L90.0 63.2L91.0 64.0L92.0 64.8L93.0 65.6L94.0 66.5L95.0 67.4L96.0 68.5L97.0 70.2L98.0 71.1L99.0 72.0L100.0 72.8L101.0 73.6L102.0 74.5L103.0 75.4L104.0 76.3L105.0 77.2L106.0 78.0L107.0 78.8L108.0 79.6L109.0 80.2L110.0 80.9L111.0 81.5L112.0 82.0L113.0 82.5L114.0 82.9L115.0 83.3L116.0 83.7L117.0 84.0L118.0 84.2L119.0 84.3L120.0 84.3L121.0 84.7L122.0 85.4L123.0 86.4L124.0 87.5L125.0 88.5L126.0 89.5L127.0 90.5L128.0 91.3L129.0 91.7L130.0 91.5L131.0 91.0L132.0 90.5L133.0 90.4L134.0 90.4L135.0 90.9L136.0 92.1L137.0 94.5L138.0 97.4L139.0 99.4L140.0 100.5L141.0 99.7L142.0 99.3L143.0 100.1L144.0 99.0L145.0 98.6L146.0 98.8L147.0 98.1L148.0 98.3L149.0 98.0L150.0 99.1L151.0 98.9L152.0 99.3L153.0 99.2L154.0 98.3L155.0 98.1L156.0 97.5L157.0 96.5L158.0 97.0L159.0 96.5L160.0 96.1L161.0 95.8L162.0 96.4L163.0 95.9L164.0 96.1L165.0 95.8L166.0 95.8L167.0 95.2L168.0 95.0L169.0 94.6L170.0 93.8L171.0 94.1L172.0 93.3L173.0 93.7L174.0 94.2L175.0 94.3L176.0 94.3L177.0 95.4L178.0 95.8L179.0 95.8L180.0 96.1L181.0 97.2L182.0 97.3L183.0 98.6L184.0 98.6L185.0 98.8L186.0 98.9L187.0 99.3L188.0 99.6L189.0 99.0L190.0 98.9L191.0 98.7L192.0 98.1L193.0 98.2L194.0 98.1L195.0 97.9L196.0 98.1L197.0 97.8L198.0 97.2L199.0 97.8L200.0 96.9L201.0 96.7L202.0 96.4L203.0 96.7L204.0 96.6L205.0 96.0L206.0 95.9L207.0 95.6L208.0 96.5L209.0 95.9L210.0 96.5L211.0 96.6L212.0 97.2L213.0 97.9L214.0 98.5L215.0 99.1L216.0 100.3L217.0 101.2L218.0 101.7L219.0 101.7L220.0 102.6L221.0 102.2L222.0 102.9L223.0 103.6L224.0 103.9L225.0 103.8L226.0 104.5L227.0 104.5L228.0 104.8L229.0 105.2L230.0 105.9L231.0 105.9L232.0 105.9L233.0 106.3L234.0 106.2L235.0 105.9L236.0 106.1L237.0 105.9L238.0 105.4L239.0 105.5L240.0 104.4L241.0 104.9L242.0 105.0L243.0 105.4L244.0 107.2L245.0 112.1L246.0 114.7L247.0 115.3L248.0 113.1L249.0 114.5L250.0 112.9L251.0 112.7L252.0 113.1L253.0 115.7L254.0 118.5L255.0 117.8L256.0 118.3L257.0 117.0L258.0 117.4L259.0 118.7L260.0 119.0L261.0 120.7L262.0 121.5L263.0 119.2L264.0 116.1L265.0 117.3L266.0 117.7L267.0 117.7L268.0 118.5L269.0 120.0L270.0 118.6L271.0 119.3L272.0 117.7L273.0 117.1L274.0 116.3L275.0 114.8L276.0 113.6L277.0 113.5L278.0 114.0L279.0 112.7L280.0 112.9L281.0 112.9L282.0 111.2L283.0 111.5L284.0 111.9L285.0 112.4L286.0 111.5L287.0 110.9L288.0 111.6L289.0 110.5L290.0 111.3L291.0 112.1L292.0 112.5L293.0 111.2L294.0 112.4L295.0 112.9L296.0 114.1L297.0 116.2L298.0 115.7L299.0 113.8L300.0 113.2L301.0 114.2L302.0 113.0L303.0 113.3L304.0 111.5L305.0 111.2L306.0 111.4"/>
<path class="rs" d="M395.5 51.6L396.1 51.5L396.7 51.4L397.3 51.3L397.9 51.2L398.5 51.1L399.1 51.1L399.7 51.0L400.3 50.9L400.9 50.8L401.5 50.8L402.1 50.7L402.7 50.6L403.3 50.6L403.9 50.5L404.5 50.5L405.1 50.4L405.7 50.4L406.3 50.3L406.9 50.3L407.5 50.3L408.1 50.2L408.7 50.2L409.3 50.2L409.9 50.1L410.5 50.1L411.1 50.1L411.7 50.0L412.3 50.0L412.9 50.0L413.5 50.0L414.1 49.9L414.7 49.9L415.3 49.9L415.9 49.9L416.5 50.0L417.1 50.0L417.7 50.1L418.3 50.2L418.9 50.4L419.5 50.8L420.1 51.2L420.7 51.5L421.3 51.9L421.9 52.3L422.5 52.7L423.1 53.1L423.7 53.5L424.3 53.9L424.9 54.2L425.5 54.6L426.1 54.9L426.7 55.2L427.3 55.5L427.9 55.8L428.5 56.0L429.1 56.2L429.7 56.3L430.3 56.3L430.9 56.4L431.5 56.5L432.1 56.6L432.7 56.9L433.3 57.1L433.9 57.4L434.5 57.7L435.1 58.1L435.7 58.4L436.3 58.6L436.9 58.8L437.5 59.0L438.1 59.1L438.7 59.1L439.3 59.0L439.9 58.9L440.5 58.8L441.1 58.7L441.7 58.7L442.3 58.6L442.9 58.6L443.5 58.6L444.1 58.6L444.7 58.7L445.3 58.7L445.9 58.8L446.5 58.8L447.1 58.9L447.7 59.0L448.3 59.1L448.9 59.2L449.5 59.5L450.1 59.8L450.7 60.3L451.3 60.7L451.9 61.3L452.5 61.8L453.1 62.3L453.7 62.8L454.3 63.3L454.9 63.8L455.5 64.3L456.1 64.8L456.7 65.2L457.3 65.8L457.9 66.3L458.5 67.0L459.1 67.8L459.7 68.7L460.3 69.3L460.9 69.7L461.5 70.1L462.1 70.5L462.7 71.0L463.3 71.7L463.9 72.6L464.5 73.7L465.1 74.6L465.7 75.1L466.3 74.9L466.9 74.3L467.5 73.8L468.1 73.8L468.7 74.7L469.3 76.1L469.9 77.5L470.5 78.6L471.1 79.2L471.7 79.4L472.3 79.4L472.9 79.4L473.5 79.5L474.1 79.7L474.7 80.0L475.3 80.3L475.9 80.8L476.5 81.2L477.1 81.6L477.7 82.0L478.3 83.4L478.9 81.9L479.5 84.5L480.1 83.5L480.7 83.5L481.3 84.5L481.9 83.3L482.5 83.4L483.1 84.2L483.7 83.9L484.3 85.9L484.9 87.9L485.5 88.6L486.1 88.9L486.7 89.2L487.3 91.1L487.9 92.1L488.5 90.8L489.1 92.4L489.7 91.2L490.3 92.7L490.9 91.3L491.5 92.3L492.1 91.8L492.7 93.1L493.3 92.7L493.9 90.6L494.5 90.5L495.1 91.4L495.7 90.5L496.3 90.3L496.9 92.1L497.5 91.7L498.1 88.6L498.7 88.4L499.3 90.4L499.9 92.7L500.5 96.0L501.1 98.0L501.7 98.6L502.3 97.3L502.9 96.4L503.5 96.7L504.1 93.7L504.7 95.1L505.3 95.1L505.9 93.3L506.5 95.2L507.1 93.5L507.7 96.2L508.3 96.0L508.9 96.0L509.5 97.8L510.1 100.5L510.7 99.7L511.3 99.6L511.9 101.3L512.5 101.9L513.1 99.6L513.7 101.3L514.3 100.0L514.9 100.8L515.5 100.0L516.1 101.1L516.7 99.7L517.3 100.6L517.9 100.4L518.5 98.0L519.1 100.8L519.7 101.2L520.3 100.6L520.9 102.9L521.5 102.6L522.1 102.3L522.7 102.7L523.3 104.0L523.9 105.9L524.5 103.8L525.1 105.7L525.7 107.0L526.3 105.9L526.9 107.3L527.5 107.4L528.1 108.3L528.7 107.9L529.3 109.8L529.9 108.6L530.5 108.5L531.1 108.7L531.7 109.5L532.3 109.4L532.9 111.8L533.5 108.8L534.1 110.1L534.7 109.3L535.3 108.6L535.9 108.2L536.5 109.8L537.1 113.3L537.7 113.1L538.3 115.4L538.9 114.4L539.5 114.9L540.1 116.4L540.7 116.7L541.3 116.6L541.9 118.2L542.5 118.3L543.1 118.5L543.7 118.0L544.3 118.5L544.9 118.2L545.5 119.2L546.1 118.9L546.7 120.0L547.3 121.3L547.9 119.9L548.5 121.3L549.1 120.2L549.7 122.5L550.3 121.3L550.9 120.6L551.5 119.2L552.1 116.6L552.7 118.0L553.3 115.1L553.9 116.1L554.5 118.1L555.1 121.0L555.7 121.9L556.3 123.9L556.9 123.3L557.5 124.6L558.1 125.4L558.7 124.7L559.3 124.7L559.9 125.8L560.5 125.4L561.1 125.5L561.7 126.3L562.3 128.6L562.9 128.1L563.5 128.8L564.1 128.5L564.7 128.4L565.3 129.7L565.9 128.2L566.5 128.0L567.1 128.2L567.7 127.7L568.3 127.6L568.9 128.6L569.5 130.0L570.1 129.1L570.7 130.4L571.3 130.3L571.9 132.3L572.5 131.3L573.1 132.6L573.7 134.0L574.3 134.5L574.9 135.5L575.5 133.4L576.1 135.1L576.7 134.7L577.3 137.1L577.9 135.5L578.5 137.5L579.1 136.9L579.7 137.9L580.3 138.3L580.9 138.7L581.5 139.0L582.1 137.8L582.7 138.9L583.3 139.8L583.9 139.6L584.5 138.7L585.1 140.0L585.7 140.0L586.3 139.2L586.9 139.3L587.5 139.4L588.1 140.9L588.7 138.9L589.3 141.1L589.9 138.7L590.5 139.1L591.1 140.6L591.7 140.5L592.3 139.2L592.9 139.2L593.5 139.9L594.1 140.4L594.7 139.1L595.3 139.1L595.9 138.8L596.5 139.7L597.1 139.6L597.7 138.5L598.3 137.1L598.9 137.3L599.5 137.1L600.1 137.6L600.7 136.6L601.3 137.5L601.9 137.3L602.5 137.4L603.1 138.8L603.7 137.2L604.3 136.8L604.9 136.2L605.5 136.4L606.1 138.5L606.7 139.2L607.3 138.6L607.9 137.2L608.5 136.7L609.1 138.0L609.7 137.0L610.3 137.2L610.9 139.2L611.5 138.2L612.1 139.7L612.7 141.5L613.3 141.1L613.9 141.5L614.5 142.5L615.1 144.3L615.7 142.5L616.3 144.2L616.9 142.8L617.5 143.9L618.1 142.1L618.7 142.0L619.3 142.4L619.9 144.0L620.5 142.8L621.1 144.6L621.7 143.8L622.3 146.0L622.9 146.7L623.5 146.7L624.1 145.4L624.7 145.2L625.3 146.3L625.9 145.5L626.5 144.4L627.1 146.1L627.7 145.9L628.3 145.4L628.9 145.1L629.5 143.5L630.1 142.7L630.5 142.0"/>
</g>
</svg>
</body></html>
